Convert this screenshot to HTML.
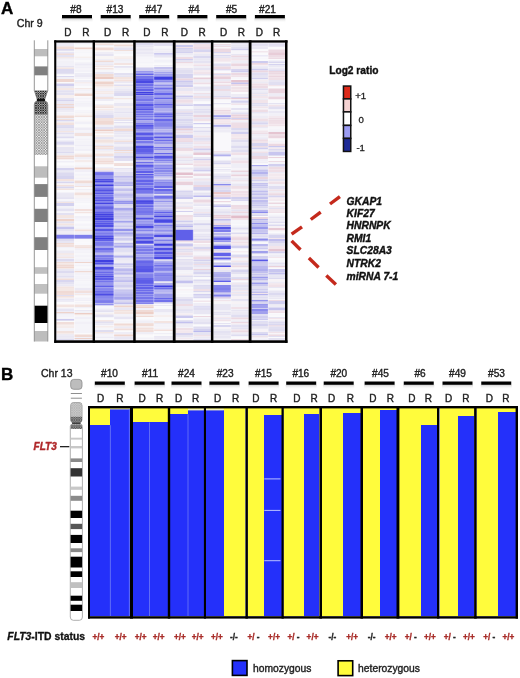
<!DOCTYPE html>
<html><head><meta charset="utf-8"><style>
html,body{margin:0;padding:0;background:#fff;width:520px;height:678px;overflow:hidden}
svg{display:block;font-family:"Liberation Sans", sans-serif;will-change:transform}
</style></head><body>
<svg width="520" height="678" viewBox="0 0 520 678" font-family='"Liberation Sans", sans-serif'>
<rect width="520" height="678" fill="#fff"/>
<defs><linearGradient id="shd" x1="0" y1="0" x2="0" y2="1"><stop offset="0" stop-color="#cfcfcf"/><stop offset="1" stop-color="#fff" stop-opacity="0"/></linearGradient></defs>
<text x="1.00" y="13.52" font-size="17" font-weight="bold" font-style="normal" fill="#000" stroke="#000" stroke-width="0.38" text-anchor="start" >A</text>
<text x="16.80" y="26.79" font-size="10.6" font-weight="normal" font-style="normal" fill="#222" stroke="#222" stroke-width="0.38" text-anchor="start" >Chr 9</text>
<rect x="61.50" y="18.30" width="31.00" height="4.50" fill="url(#shd)" />
<rect x="62.00" y="15.00" width="30.00" height="3.30" fill="#000" />
<text x="75.90" y="12.73" font-size="10.1" font-weight="normal" font-style="normal" fill="#222" stroke="#222" stroke-width="0.38" text-anchor="middle" >#8</text>
<text x="64.20" y="35.96" font-size="10" font-weight="normal" font-style="normal" fill="#222" stroke="#222" stroke-width="0.38" text-anchor="start" >D</text>
<text x="82.30" y="35.96" font-size="10" font-weight="normal" font-style="normal" fill="#222" stroke="#222" stroke-width="0.38" text-anchor="start" >R</text>
<rect x="100.20" y="18.30" width="31.00" height="4.50" fill="url(#shd)" />
<rect x="100.70" y="15.00" width="30.00" height="3.30" fill="#000" />
<text x="115.00" y="12.73" font-size="10.1" font-weight="normal" font-style="normal" fill="#222" stroke="#222" stroke-width="0.38" text-anchor="middle" >#13</text>
<text x="103.90" y="35.96" font-size="10" font-weight="normal" font-style="normal" fill="#222" stroke="#222" stroke-width="0.38" text-anchor="start" >D</text>
<text x="122.10" y="35.96" font-size="10" font-weight="normal" font-style="normal" fill="#222" stroke="#222" stroke-width="0.38" text-anchor="start" >R</text>
<rect x="138.70" y="18.30" width="31.00" height="4.50" fill="url(#shd)" />
<rect x="139.20" y="15.00" width="30.00" height="3.30" fill="#000" />
<text x="153.90" y="12.73" font-size="10.1" font-weight="normal" font-style="normal" fill="#222" stroke="#222" stroke-width="0.38" text-anchor="middle" >#47</text>
<text x="143.30" y="35.96" font-size="10" font-weight="normal" font-style="normal" fill="#222" stroke="#222" stroke-width="0.38" text-anchor="start" >D</text>
<text x="161.20" y="35.96" font-size="10" font-weight="normal" font-style="normal" fill="#222" stroke="#222" stroke-width="0.38" text-anchor="start" >R</text>
<rect x="176.90" y="18.30" width="31.00" height="4.50" fill="url(#shd)" />
<rect x="177.40" y="15.00" width="30.00" height="3.30" fill="#000" />
<text x="194.00" y="12.73" font-size="10.1" font-weight="normal" font-style="normal" fill="#222" stroke="#222" stroke-width="0.38" text-anchor="middle" >#4</text>
<text x="180.70" y="35.96" font-size="10" font-weight="normal" font-style="normal" fill="#222" stroke="#222" stroke-width="0.38" text-anchor="start" >D</text>
<text x="198.40" y="35.96" font-size="10" font-weight="normal" font-style="normal" fill="#222" stroke="#222" stroke-width="0.38" text-anchor="start" >R</text>
<rect x="215.70" y="18.30" width="31.00" height="4.50" fill="url(#shd)" />
<rect x="216.20" y="15.00" width="30.00" height="3.30" fill="#000" />
<text x="231.60" y="12.73" font-size="10.1" font-weight="normal" font-style="normal" fill="#222" stroke="#222" stroke-width="0.38" text-anchor="middle" >#5</text>
<text x="219.90" y="35.96" font-size="10" font-weight="normal" font-style="normal" fill="#222" stroke="#222" stroke-width="0.38" text-anchor="start" >D</text>
<text x="237.70" y="35.96" font-size="10" font-weight="normal" font-style="normal" fill="#222" stroke="#222" stroke-width="0.38" text-anchor="start" >R</text>
<rect x="254.40" y="18.30" width="31.00" height="4.50" fill="url(#shd)" />
<rect x="254.90" y="15.00" width="30.00" height="3.30" fill="#000" />
<text x="267.50" y="12.73" font-size="10.1" font-weight="normal" font-style="normal" fill="#222" stroke="#222" stroke-width="0.38" text-anchor="middle" >#21</text>
<text x="255.80" y="35.96" font-size="10" font-weight="normal" font-style="normal" fill="#222" stroke="#222" stroke-width="0.38" text-anchor="start" >D</text>
<text x="273.10" y="35.96" font-size="10" font-weight="normal" font-style="normal" fill="#222" stroke="#222" stroke-width="0.38" text-anchor="start" >R</text>
<defs><filter id="hb" x="0" y="0" width="1" height="1"><feGaussianBlur stdDeviation="0.2 0.45"/></filter></defs>
<g filter="url(#hb)">
<rect x="56.30" y="42.50" width="18.10" height="2.00" fill="rgb(236,234,244)" />
<rect x="56.30" y="44.50" width="18.10" height="1.00" fill="rgb(231,229,243)" />
<rect x="56.30" y="45.50" width="18.10" height="1.00" fill="rgb(232,230,243)" />
<rect x="56.30" y="46.50" width="18.10" height="2.50" fill="rgb(241,221,216)" />
<rect x="56.30" y="49.00" width="18.10" height="1.00" fill="rgb(219,217,240)" />
<rect x="56.30" y="50.00" width="18.10" height="1.50" fill="rgb(228,226,242)" />
<rect x="56.30" y="51.50" width="18.10" height="1.00" fill="rgb(250,250,252)" />
<rect x="56.30" y="52.50" width="18.10" height="1.00" fill="rgb(212,210,239)" />
<rect x="56.30" y="53.50" width="18.10" height="1.50" fill="rgb(241,222,218)" />
<rect x="56.30" y="55.00" width="18.10" height="2.00" fill="rgb(229,227,242)" />
<rect x="56.30" y="57.00" width="18.10" height="1.50" fill="rgb(244,232,229)" />
<rect x="56.30" y="58.50" width="18.10" height="1.00" fill="rgb(236,234,244)" />
<rect x="56.30" y="59.50" width="18.10" height="1.00" fill="rgb(243,242,248)" />
<rect x="56.30" y="60.50" width="18.10" height="2.50" fill="rgb(242,241,247)" />
<rect x="56.30" y="63.00" width="18.10" height="3.00" fill="rgb(242,241,248)" />
<rect x="56.30" y="66.00" width="18.10" height="1.50" fill="rgb(230,228,242)" />
<rect x="56.30" y="67.50" width="18.10" height="1.50" fill="rgb(243,229,227)" />
<rect x="56.30" y="69.00" width="18.10" height="2.00" fill="rgb(220,218,240)" />
<rect x="56.30" y="71.00" width="18.10" height="2.00" fill="rgb(221,219,240)" />
<rect x="56.30" y="73.00" width="18.10" height="1.50" fill="rgb(227,225,241)" />
<rect x="56.30" y="74.50" width="18.10" height="1.50" fill="rgb(250,250,252)" />
<rect x="56.30" y="76.00" width="18.10" height="1.00" fill="rgb(219,217,240)" />
<rect x="56.30" y="77.00" width="18.10" height="2.00" fill="rgb(241,240,247)" />
<rect x="56.30" y="79.00" width="18.10" height="3.00" fill="rgb(239,215,209)" />
<rect x="56.30" y="82.00" width="18.10" height="1.00" fill="rgb(250,249,252)" />
<rect x="56.30" y="83.00" width="18.10" height="1.00" fill="rgb(231,229,242)" />
<rect x="56.30" y="84.00" width="18.10" height="2.00" fill="rgb(208,206,239)" />
<rect x="56.30" y="86.00" width="18.10" height="2.00" fill="rgb(234,232,243)" />
<rect x="56.30" y="88.00" width="18.10" height="2.00" fill="rgb(244,232,230)" />
<rect x="56.30" y="90.00" width="18.10" height="1.00" fill="rgb(232,230,243)" />
<rect x="56.30" y="91.00" width="18.10" height="1.50" fill="rgb(227,225,242)" />
<rect x="56.30" y="92.50" width="18.10" height="2.50" fill="rgb(227,225,241)" />
<rect x="56.30" y="95.00" width="18.10" height="3.00" fill="rgb(247,240,240)" />
<rect x="56.30" y="98.00" width="18.10" height="1.50" fill="rgb(229,227,242)" />
<rect x="56.30" y="99.50" width="18.10" height="2.00" fill="rgb(214,212,239)" />
<rect x="56.30" y="101.50" width="18.10" height="2.50" fill="rgb(235,233,244)" />
<rect x="56.30" y="104.00" width="18.10" height="1.50" fill="rgb(239,216,210)" />
<rect x="56.30" y="105.50" width="18.10" height="1.00" fill="rgb(219,217,240)" />
<rect x="56.30" y="106.50" width="18.10" height="1.50" fill="rgb(239,214,208)" />
<rect x="56.30" y="108.00" width="18.10" height="2.00" fill="rgb(233,231,243)" />
<rect x="56.30" y="110.00" width="18.10" height="2.00" fill="rgb(238,236,245)" />
<rect x="56.30" y="112.00" width="18.10" height="1.00" fill="rgb(246,245,250)" />
<rect x="56.30" y="113.00" width="18.10" height="2.50" fill="rgb(243,242,248)" />
<rect x="56.30" y="115.50" width="18.10" height="2.50" fill="rgb(240,218,212)" />
<rect x="56.30" y="118.00" width="18.10" height="1.00" fill="rgb(238,237,245)" />
<rect x="56.30" y="119.00" width="18.10" height="1.00" fill="rgb(241,223,219)" />
<rect x="56.30" y="120.00" width="18.10" height="1.50" fill="rgb(217,215,240)" />
<rect x="56.30" y="121.50" width="18.10" height="1.00" fill="rgb(238,236,245)" />
<rect x="56.30" y="122.50" width="18.10" height="2.50" fill="rgb(242,225,222)" />
<rect x="56.30" y="125.00" width="18.10" height="2.00" fill="rgb(223,221,240)" />
<rect x="56.30" y="127.00" width="18.10" height="1.00" fill="rgb(220,218,240)" />
<rect x="56.30" y="128.00" width="18.10" height="3.00" fill="rgb(234,232,243)" />
<rect x="56.30" y="131.00" width="18.10" height="1.50" fill="rgb(243,230,227)" />
<rect x="56.30" y="132.50" width="18.10" height="1.50" fill="rgb(226,224,241)" />
<rect x="56.30" y="134.00" width="18.10" height="1.50" fill="rgb(239,238,246)" />
<rect x="56.30" y="135.50" width="18.10" height="1.00" fill="rgb(234,232,244)" />
<rect x="56.30" y="136.50" width="18.10" height="2.00" fill="rgb(222,220,240)" />
<rect x="56.30" y="138.50" width="18.10" height="2.00" fill="rgb(246,246,250)" />
<rect x="56.30" y="140.50" width="18.10" height="1.50" fill="rgb(231,229,243)" />
<rect x="56.30" y="142.00" width="18.10" height="2.00" fill="rgb(218,216,240)" />
<rect x="56.30" y="144.00" width="18.10" height="1.50" fill="rgb(226,224,241)" />
<rect x="56.30" y="145.50" width="18.10" height="1.50" fill="rgb(248,244,245)" />
<rect x="56.30" y="147.00" width="18.10" height="3.00" fill="rgb(231,229,242)" />
<rect x="56.30" y="150.00" width="18.10" height="2.00" fill="rgb(233,231,243)" />
<rect x="56.30" y="152.00" width="18.10" height="1.50" fill="rgb(221,219,240)" />
<rect x="56.30" y="153.50" width="18.10" height="2.00" fill="rgb(236,235,244)" />
<rect x="56.30" y="155.50" width="18.10" height="2.00" fill="rgb(239,216,210)" />
<rect x="56.30" y="157.50" width="18.10" height="2.00" fill="rgb(240,218,213)" />
<rect x="56.30" y="159.50" width="18.10" height="1.00" fill="rgb(245,244,249)" />
<rect x="56.30" y="160.50" width="18.10" height="1.00" fill="rgb(250,250,252)" />
<rect x="56.30" y="161.50" width="18.10" height="1.00" fill="rgb(229,227,242)" />
<rect x="56.30" y="162.50" width="18.10" height="3.00" fill="rgb(250,250,252)" />
<rect x="56.30" y="165.50" width="18.10" height="2.50" fill="rgb(243,242,248)" />
<rect x="56.30" y="168.00" width="18.10" height="2.50" fill="rgb(213,211,239)" />
<rect x="56.30" y="170.50" width="18.10" height="1.00" fill="rgb(230,228,242)" />
<rect x="56.30" y="171.50" width="18.10" height="1.50" fill="rgb(228,226,242)" />
<rect x="56.30" y="173.00" width="18.10" height="3.00" fill="rgb(220,218,240)" />
<rect x="56.30" y="176.00" width="18.10" height="3.00" fill="rgb(214,212,239)" />
<rect x="56.30" y="179.00" width="18.10" height="2.00" fill="rgb(243,227,224)" />
<rect x="56.30" y="181.00" width="18.10" height="1.00" fill="rgb(234,232,243)" />
<rect x="56.30" y="182.00" width="18.10" height="1.50" fill="rgb(217,215,240)" />
<rect x="56.30" y="183.50" width="18.10" height="1.50" fill="rgb(247,242,243)" />
<rect x="56.30" y="185.00" width="18.10" height="1.50" fill="rgb(242,224,221)" />
<rect x="56.30" y="186.50" width="18.10" height="2.00" fill="rgb(217,215,240)" />
<rect x="56.30" y="188.50" width="18.10" height="1.50" fill="rgb(242,227,223)" />
<rect x="56.30" y="190.00" width="18.10" height="2.50" fill="rgb(250,250,252)" />
<rect x="56.30" y="192.50" width="18.10" height="1.50" fill="rgb(235,233,244)" />
<rect x="56.30" y="194.00" width="18.10" height="3.00" fill="rgb(234,232,243)" />
<rect x="56.30" y="197.00" width="18.10" height="1.00" fill="rgb(230,228,242)" />
<rect x="56.30" y="198.00" width="18.10" height="1.00" fill="rgb(228,226,242)" />
<rect x="56.30" y="199.00" width="18.10" height="2.00" fill="rgb(246,245,250)" />
<rect x="56.30" y="201.00" width="18.10" height="1.00" fill="rgb(236,234,244)" />
<rect x="56.30" y="202.00" width="18.10" height="1.00" fill="rgb(243,228,226)" />
<rect x="56.30" y="203.00" width="18.10" height="3.00" fill="rgb(211,209,239)" />
<rect x="56.30" y="206.00" width="18.10" height="1.00" fill="rgb(243,242,248)" />
<rect x="56.30" y="207.00" width="18.10" height="1.50" fill="rgb(242,241,247)" />
<rect x="56.30" y="208.50" width="18.10" height="3.00" fill="rgb(228,226,242)" />
<rect x="56.30" y="211.50" width="18.10" height="1.50" fill="rgb(246,245,250)" />
<rect x="56.30" y="213.00" width="18.10" height="2.00" fill="rgb(227,225,242)" />
<rect x="56.30" y="215.00" width="18.10" height="3.00" fill="rgb(243,230,227)" />
<rect x="56.30" y="218.00" width="18.10" height="1.00" fill="rgb(240,238,246)" />
<rect x="56.30" y="219.00" width="18.10" height="2.50" fill="rgb(238,211,203)" />
<rect x="56.30" y="221.50" width="18.10" height="2.00" fill="rgb(228,226,242)" />
<rect x="56.30" y="223.50" width="18.10" height="2.00" fill="rgb(243,229,226)" />
<rect x="56.30" y="225.50" width="18.10" height="1.50" fill="rgb(228,226,242)" />
<rect x="56.30" y="227.00" width="18.10" height="2.50" fill="rgb(199,197,238)" />
<rect x="56.30" y="229.50" width="18.10" height="1.50" fill="rgb(230,228,242)" />
<rect x="56.30" y="231.00" width="18.10" height="2.50" fill="rgb(239,237,246)" />
<rect x="56.30" y="233.50" width="18.10" height="2.50" fill="rgb(230,228,242)" />
<rect x="56.30" y="236.00" width="18.10" height="2.00" fill="rgb(239,217,211)" />
<rect x="56.30" y="238.00" width="18.10" height="3.00" fill="rgb(223,221,240)" />
<rect x="56.30" y="241.00" width="18.10" height="2.00" fill="rgb(232,230,243)" />
<rect x="56.30" y="243.00" width="18.10" height="1.00" fill="rgb(240,219,213)" />
<rect x="56.30" y="244.00" width="18.10" height="1.00" fill="rgb(243,229,226)" />
<rect x="56.30" y="245.00" width="18.10" height="2.00" fill="rgb(242,224,220)" />
<rect x="56.30" y="247.00" width="18.10" height="1.50" fill="rgb(242,241,247)" />
<rect x="56.30" y="248.50" width="18.10" height="2.00" fill="rgb(246,246,250)" />
<rect x="56.30" y="250.50" width="18.10" height="3.00" fill="rgb(236,234,244)" />
<rect x="56.30" y="253.50" width="18.10" height="1.00" fill="rgb(241,223,219)" />
<rect x="56.30" y="254.50" width="18.10" height="1.00" fill="rgb(244,232,230)" />
<rect x="56.30" y="255.50" width="18.10" height="1.00" fill="rgb(232,230,243)" />
<rect x="56.30" y="256.50" width="18.10" height="1.50" fill="rgb(243,230,227)" />
<rect x="56.30" y="258.00" width="18.10" height="1.00" fill="rgb(241,239,247)" />
<rect x="56.30" y="259.00" width="18.10" height="2.00" fill="rgb(221,219,240)" />
<rect x="56.30" y="261.00" width="18.10" height="1.00" fill="rgb(233,231,243)" />
<rect x="56.30" y="262.00" width="18.10" height="1.50" fill="rgb(240,220,215)" />
<rect x="56.30" y="263.50" width="18.10" height="1.50" fill="rgb(243,229,226)" />
<rect x="56.30" y="265.00" width="18.10" height="1.50" fill="rgb(239,217,211)" />
<rect x="56.30" y="266.50" width="18.10" height="1.50" fill="rgb(239,214,207)" />
<rect x="56.30" y="268.00" width="18.10" height="1.00" fill="rgb(244,233,231)" />
<rect x="56.30" y="269.00" width="18.10" height="1.50" fill="rgb(233,231,243)" />
<rect x="56.30" y="270.50" width="18.10" height="2.50" fill="rgb(221,219,240)" />
<rect x="56.30" y="273.00" width="18.10" height="2.50" fill="rgb(236,234,244)" />
<rect x="56.30" y="275.50" width="18.10" height="1.50" fill="rgb(226,224,241)" />
<rect x="56.30" y="277.00" width="18.10" height="1.50" fill="rgb(235,233,244)" />
<rect x="56.30" y="278.50" width="18.10" height="1.50" fill="rgb(241,222,218)" />
<rect x="56.30" y="280.00" width="18.10" height="2.00" fill="rgb(216,214,240)" />
<rect x="56.30" y="282.00" width="18.10" height="2.50" fill="rgb(228,226,242)" />
<rect x="56.30" y="284.50" width="18.10" height="2.00" fill="rgb(234,232,244)" />
<rect x="56.30" y="286.50" width="18.10" height="1.50" fill="rgb(243,228,225)" />
<rect x="56.30" y="288.00" width="18.10" height="3.00" fill="rgb(244,232,229)" />
<rect x="56.30" y="291.00" width="18.10" height="2.00" fill="rgb(240,218,213)" />
<rect x="56.30" y="293.00" width="18.10" height="2.00" fill="rgb(241,221,217)" />
<rect x="56.30" y="295.00" width="18.10" height="1.00" fill="rgb(224,222,241)" />
<rect x="56.30" y="296.00" width="18.10" height="1.50" fill="rgb(242,225,221)" />
<rect x="56.30" y="297.50" width="18.10" height="1.00" fill="rgb(243,230,227)" />
<rect x="56.30" y="298.50" width="18.10" height="1.00" fill="rgb(238,236,245)" />
<rect x="56.30" y="299.50" width="18.10" height="1.00" fill="rgb(217,215,240)" />
<rect x="56.30" y="300.50" width="18.10" height="1.50" fill="rgb(238,236,245)" />
<rect x="56.30" y="302.00" width="18.10" height="2.50" fill="rgb(250,250,252)" />
<rect x="56.30" y="304.50" width="18.10" height="3.00" fill="rgb(243,228,225)" />
<rect x="56.30" y="307.50" width="18.10" height="1.00" fill="rgb(249,249,251)" />
<rect x="56.30" y="308.50" width="18.10" height="2.50" fill="rgb(231,229,243)" />
<rect x="56.30" y="311.00" width="18.10" height="1.00" fill="rgb(239,237,246)" />
<rect x="56.30" y="312.00" width="18.10" height="1.50" fill="rgb(238,211,203)" />
<rect x="56.30" y="313.50" width="18.10" height="1.00" fill="rgb(229,227,242)" />
<rect x="56.30" y="314.50" width="18.10" height="3.00" fill="rgb(244,243,249)" />
<rect x="56.30" y="317.50" width="18.10" height="1.50" fill="rgb(245,244,249)" />
<rect x="56.30" y="319.00" width="18.10" height="1.00" fill="rgb(204,202,239)" />
<rect x="56.30" y="320.00" width="18.10" height="1.00" fill="rgb(222,220,240)" />
<rect x="56.30" y="321.00" width="18.10" height="1.00" fill="rgb(250,250,252)" />
<rect x="56.30" y="322.00" width="18.10" height="2.00" fill="rgb(241,222,218)" />
<rect x="56.30" y="324.00" width="18.10" height="1.50" fill="rgb(244,232,230)" />
<rect x="56.30" y="325.50" width="18.10" height="2.50" fill="rgb(245,236,235)" />
<rect x="56.30" y="328.00" width="18.10" height="2.00" fill="rgb(245,244,249)" />
<rect x="56.30" y="330.00" width="18.10" height="1.00" fill="rgb(244,243,249)" />
<rect x="56.30" y="331.00" width="18.10" height="2.00" fill="rgb(242,226,222)" />
<rect x="56.30" y="333.00" width="18.10" height="1.50" fill="rgb(245,235,234)" />
<rect x="56.30" y="334.50" width="18.10" height="1.00" fill="rgb(228,226,242)" />
<rect x="56.30" y="335.50" width="18.10" height="1.50" fill="rgb(234,232,243)" />
<rect x="56.30" y="337.00" width="18.10" height="2.00" fill="rgb(236,234,244)" />
<rect x="56.30" y="339.00" width="18.10" height="1.00" fill="rgb(221,219,240)" />
<rect x="56.30" y="340.00" width="18.10" height="0.30" fill="rgb(222,220,240)" />
<rect x="74.40" y="42.50" width="18.20" height="2.00" fill="rgb(242,241,248)" />
<rect x="74.40" y="44.50" width="18.20" height="3.00" fill="rgb(250,250,252)" />
<rect x="74.40" y="47.50" width="18.20" height="1.50" fill="rgb(237,210,202)" />
<rect x="74.40" y="49.00" width="18.20" height="1.00" fill="rgb(247,242,242)" />
<rect x="74.40" y="50.00" width="18.20" height="1.50" fill="rgb(247,246,250)" />
<rect x="74.40" y="51.50" width="18.20" height="2.00" fill="rgb(246,246,250)" />
<rect x="74.40" y="53.50" width="18.20" height="3.00" fill="rgb(249,248,251)" />
<rect x="74.40" y="56.50" width="18.20" height="1.50" fill="rgb(246,239,238)" />
<rect x="74.40" y="58.00" width="18.20" height="2.00" fill="rgb(245,244,249)" />
<rect x="74.40" y="60.00" width="18.20" height="2.50" fill="rgb(249,249,251)" />
<rect x="74.40" y="62.50" width="18.20" height="1.00" fill="rgb(237,235,244)" />
<rect x="74.40" y="63.50" width="18.20" height="2.00" fill="rgb(237,235,245)" />
<rect x="74.40" y="65.50" width="18.20" height="1.00" fill="rgb(237,236,245)" />
<rect x="74.40" y="66.50" width="18.20" height="2.00" fill="rgb(241,239,247)" />
<rect x="74.40" y="68.50" width="18.20" height="1.00" fill="rgb(243,242,248)" />
<rect x="74.40" y="69.50" width="18.20" height="2.50" fill="rgb(243,242,248)" />
<rect x="74.40" y="72.00" width="18.20" height="1.00" fill="rgb(248,248,251)" />
<rect x="74.40" y="73.00" width="18.20" height="2.00" fill="rgb(237,236,245)" />
<rect x="74.40" y="75.00" width="18.20" height="2.50" fill="rgb(235,233,244)" />
<rect x="74.40" y="77.50" width="18.20" height="1.50" fill="rgb(244,243,249)" />
<rect x="74.40" y="79.00" width="18.20" height="1.00" fill="rgb(250,250,252)" />
<rect x="74.40" y="80.00" width="18.20" height="2.50" fill="rgb(239,238,246)" />
<rect x="74.40" y="82.50" width="18.20" height="1.00" fill="rgb(243,230,228)" />
<rect x="74.40" y="83.50" width="18.20" height="2.50" fill="rgb(245,244,249)" />
<rect x="74.40" y="86.00" width="18.20" height="2.00" fill="rgb(250,250,252)" />
<rect x="74.40" y="88.00" width="18.20" height="1.50" fill="rgb(244,233,231)" />
<rect x="74.40" y="89.50" width="18.20" height="2.00" fill="rgb(243,242,248)" />
<rect x="74.40" y="91.50" width="18.20" height="2.00" fill="rgb(245,244,249)" />
<rect x="74.40" y="93.50" width="18.20" height="2.50" fill="rgb(238,213,206)" />
<rect x="74.40" y="96.00" width="18.20" height="1.50" fill="rgb(250,249,251)" />
<rect x="74.40" y="97.50" width="18.20" height="1.50" fill="rgb(245,244,249)" />
<rect x="74.40" y="99.00" width="18.20" height="2.00" fill="rgb(248,247,251)" />
<rect x="74.40" y="101.00" width="18.20" height="1.50" fill="rgb(244,243,249)" />
<rect x="74.40" y="102.50" width="18.20" height="1.50" fill="rgb(242,241,247)" />
<rect x="74.40" y="104.00" width="18.20" height="2.00" fill="rgb(243,242,248)" />
<rect x="74.40" y="106.00" width="18.20" height="1.50" fill="rgb(245,244,249)" />
<rect x="74.40" y="107.50" width="18.20" height="2.50" fill="rgb(250,250,252)" />
<rect x="74.40" y="110.00" width="18.20" height="1.50" fill="rgb(246,245,250)" />
<rect x="74.40" y="111.50" width="18.20" height="2.00" fill="rgb(244,243,248)" />
<rect x="74.40" y="113.50" width="18.20" height="2.00" fill="rgb(248,243,244)" />
<rect x="74.40" y="115.50" width="18.20" height="1.50" fill="rgb(242,226,222)" />
<rect x="74.40" y="117.00" width="18.20" height="1.50" fill="rgb(248,248,251)" />
<rect x="74.40" y="118.50" width="18.20" height="2.00" fill="rgb(249,249,252)" />
<rect x="74.40" y="120.50" width="18.20" height="1.00" fill="rgb(248,245,246)" />
<rect x="74.40" y="121.50" width="18.20" height="3.00" fill="rgb(241,240,247)" />
<rect x="74.40" y="124.50" width="18.20" height="3.00" fill="rgb(250,249,250)" />
<rect x="74.40" y="127.50" width="18.20" height="3.00" fill="rgb(238,236,245)" />
<rect x="74.40" y="130.50" width="18.20" height="1.50" fill="rgb(245,244,249)" />
<rect x="74.40" y="132.00" width="18.20" height="1.00" fill="rgb(242,241,248)" />
<rect x="74.40" y="133.00" width="18.20" height="3.00" fill="rgb(242,225,222)" />
<rect x="74.40" y="136.00" width="18.20" height="1.50" fill="rgb(245,245,249)" />
<rect x="74.40" y="137.50" width="18.20" height="1.00" fill="rgb(246,245,250)" />
<rect x="74.40" y="138.50" width="18.20" height="2.00" fill="rgb(243,242,248)" />
<rect x="74.40" y="140.50" width="18.20" height="2.50" fill="rgb(244,243,248)" />
<rect x="74.40" y="143.00" width="18.20" height="1.50" fill="rgb(244,243,249)" />
<rect x="74.40" y="144.50" width="18.20" height="1.50" fill="rgb(239,237,246)" />
<rect x="74.40" y="146.00" width="18.20" height="3.00" fill="rgb(245,244,249)" />
<rect x="74.40" y="149.00" width="18.20" height="2.00" fill="rgb(241,240,247)" />
<rect x="74.40" y="151.00" width="18.20" height="1.50" fill="rgb(249,249,251)" />
<rect x="74.40" y="152.50" width="18.20" height="1.00" fill="rgb(246,246,250)" />
<rect x="74.40" y="153.50" width="18.20" height="1.00" fill="rgb(245,235,233)" />
<rect x="74.40" y="154.50" width="18.20" height="2.50" fill="rgb(242,224,220)" />
<rect x="74.40" y="157.00" width="18.20" height="2.00" fill="rgb(240,239,246)" />
<rect x="74.40" y="159.00" width="18.20" height="1.00" fill="rgb(246,245,250)" />
<rect x="74.40" y="160.00" width="18.20" height="2.50" fill="rgb(245,236,235)" />
<rect x="74.40" y="162.50" width="18.20" height="2.00" fill="rgb(248,248,251)" />
<rect x="74.40" y="164.50" width="18.20" height="1.50" fill="rgb(245,245,249)" />
<rect x="74.40" y="166.00" width="18.20" height="1.50" fill="rgb(244,243,248)" />
<rect x="74.40" y="167.50" width="18.20" height="2.00" fill="rgb(237,207,199)" />
<rect x="74.40" y="169.50" width="18.20" height="3.00" fill="rgb(241,239,247)" />
<rect x="74.40" y="172.50" width="18.20" height="1.00" fill="rgb(249,248,251)" />
<rect x="74.40" y="173.50" width="18.20" height="1.50" fill="rgb(244,243,249)" />
<rect x="74.40" y="175.00" width="18.20" height="1.50" fill="rgb(245,244,249)" />
<rect x="74.40" y="176.50" width="18.20" height="1.00" fill="rgb(248,245,245)" />
<rect x="74.40" y="177.50" width="18.20" height="2.00" fill="rgb(243,242,248)" />
<rect x="74.40" y="179.50" width="18.20" height="1.00" fill="rgb(247,246,250)" />
<rect x="74.40" y="180.50" width="18.20" height="3.00" fill="rgb(240,219,214)" />
<rect x="74.40" y="183.50" width="18.20" height="2.50" fill="rgb(240,238,246)" />
<rect x="74.40" y="186.00" width="18.20" height="1.00" fill="rgb(242,226,223)" />
<rect x="74.40" y="187.00" width="18.20" height="2.00" fill="rgb(250,249,251)" />
<rect x="74.40" y="189.00" width="18.20" height="1.50" fill="rgb(240,239,246)" />
<rect x="74.40" y="190.50" width="18.20" height="2.00" fill="rgb(247,246,250)" />
<rect x="74.40" y="192.50" width="18.20" height="3.00" fill="rgb(242,224,220)" />
<rect x="74.40" y="195.50" width="18.20" height="3.00" fill="rgb(248,243,244)" />
<rect x="74.40" y="198.50" width="18.20" height="1.00" fill="rgb(237,235,245)" />
<rect x="74.40" y="199.50" width="18.20" height="1.50" fill="rgb(245,244,249)" />
<rect x="74.40" y="201.00" width="18.20" height="1.00" fill="rgb(247,246,250)" />
<rect x="74.40" y="202.00" width="18.20" height="1.00" fill="rgb(245,245,249)" />
<rect x="74.40" y="203.00" width="18.20" height="2.00" fill="rgb(250,250,252)" />
<rect x="74.40" y="205.00" width="18.20" height="2.00" fill="rgb(248,248,251)" />
<rect x="74.40" y="207.00" width="18.20" height="2.00" fill="rgb(248,247,251)" />
<rect x="74.40" y="209.00" width="18.20" height="2.00" fill="rgb(242,224,221)" />
<rect x="74.40" y="211.00" width="18.20" height="1.00" fill="rgb(248,245,246)" />
<rect x="74.40" y="212.00" width="18.20" height="1.50" fill="rgb(243,228,225)" />
<rect x="74.40" y="213.50" width="18.20" height="2.50" fill="rgb(250,250,252)" />
<rect x="74.40" y="216.00" width="18.20" height="2.50" fill="rgb(241,240,247)" />
<rect x="74.40" y="218.50" width="18.20" height="1.00" fill="rgb(241,240,247)" />
<rect x="74.40" y="219.50" width="18.20" height="2.00" fill="rgb(244,243,249)" />
<rect x="74.40" y="221.50" width="18.20" height="2.00" fill="rgb(250,250,252)" />
<rect x="74.40" y="223.50" width="18.20" height="3.00" fill="rgb(245,244,249)" />
<rect x="74.40" y="226.50" width="18.20" height="1.50" fill="rgb(247,247,250)" />
<rect x="74.40" y="228.00" width="18.20" height="1.50" fill="rgb(244,243,249)" />
<rect x="74.40" y="229.50" width="18.20" height="2.00" fill="rgb(242,224,220)" />
<rect x="74.40" y="231.50" width="18.20" height="2.50" fill="rgb(241,240,247)" />
<rect x="74.40" y="234.00" width="18.20" height="1.00" fill="rgb(245,245,249)" />
<rect x="74.40" y="235.00" width="18.20" height="2.50" fill="rgb(246,246,250)" />
<rect x="74.40" y="237.50" width="18.20" height="1.50" fill="rgb(246,238,238)" />
<rect x="74.40" y="239.00" width="18.20" height="3.00" fill="rgb(249,249,251)" />
<rect x="74.40" y="242.00" width="18.20" height="1.00" fill="rgb(250,250,252)" />
<rect x="74.40" y="243.00" width="18.20" height="2.00" fill="rgb(249,249,252)" />
<rect x="74.40" y="245.00" width="18.20" height="2.00" fill="rgb(243,230,227)" />
<rect x="74.40" y="247.00" width="18.20" height="1.50" fill="rgb(242,225,221)" />
<rect x="74.40" y="248.50" width="18.20" height="1.50" fill="rgb(241,240,247)" />
<rect x="74.40" y="250.00" width="18.20" height="2.50" fill="rgb(245,244,249)" />
<rect x="74.40" y="252.50" width="18.20" height="1.00" fill="rgb(239,238,246)" />
<rect x="74.40" y="253.50" width="18.20" height="1.00" fill="rgb(250,249,251)" />
<rect x="74.40" y="254.50" width="18.20" height="3.00" fill="rgb(244,243,248)" />
<rect x="74.40" y="257.50" width="18.20" height="1.00" fill="rgb(245,244,249)" />
<rect x="74.40" y="258.50" width="18.20" height="1.50" fill="rgb(244,243,248)" />
<rect x="74.40" y="260.00" width="18.20" height="2.00" fill="rgb(242,241,248)" />
<rect x="74.40" y="262.00" width="18.20" height="1.00" fill="rgb(238,212,205)" />
<rect x="74.40" y="263.00" width="18.20" height="2.00" fill="rgb(247,246,250)" />
<rect x="74.40" y="265.00" width="18.20" height="1.50" fill="rgb(243,242,248)" />
<rect x="74.40" y="266.50" width="18.20" height="1.00" fill="rgb(247,247,250)" />
<rect x="74.40" y="267.50" width="18.20" height="1.00" fill="rgb(248,247,251)" />
<rect x="74.40" y="268.50" width="18.20" height="2.50" fill="rgb(243,242,248)" />
<rect x="74.40" y="271.00" width="18.20" height="1.50" fill="rgb(239,217,211)" />
<rect x="74.40" y="272.50" width="18.20" height="3.00" fill="rgb(243,242,248)" />
<rect x="74.40" y="275.50" width="18.20" height="2.50" fill="rgb(244,243,249)" />
<rect x="74.40" y="278.00" width="18.20" height="1.50" fill="rgb(243,242,248)" />
<rect x="74.40" y="279.50" width="18.20" height="2.00" fill="rgb(244,243,248)" />
<rect x="74.40" y="281.50" width="18.20" height="2.00" fill="rgb(246,246,250)" />
<rect x="74.40" y="283.50" width="18.20" height="2.00" fill="rgb(244,244,249)" />
<rect x="74.40" y="285.50" width="18.20" height="1.00" fill="rgb(240,239,247)" />
<rect x="74.40" y="286.50" width="18.20" height="1.50" fill="rgb(245,245,249)" />
<rect x="74.40" y="288.00" width="18.20" height="2.50" fill="rgb(235,233,244)" />
<rect x="74.40" y="290.50" width="18.20" height="2.50" fill="rgb(242,224,221)" />
<rect x="74.40" y="293.00" width="18.20" height="1.00" fill="rgb(241,240,247)" />
<rect x="74.40" y="294.00" width="18.20" height="1.50" fill="rgb(245,234,232)" />
<rect x="74.40" y="295.50" width="18.20" height="1.00" fill="rgb(250,250,252)" />
<rect x="74.40" y="296.50" width="18.20" height="1.00" fill="rgb(250,250,252)" />
<rect x="74.40" y="297.50" width="18.20" height="2.00" fill="rgb(243,242,248)" />
<rect x="74.40" y="299.50" width="18.20" height="1.50" fill="rgb(241,240,247)" />
<rect x="74.40" y="301.00" width="18.20" height="1.00" fill="rgb(250,249,251)" />
<rect x="74.40" y="302.00" width="18.20" height="1.50" fill="rgb(245,244,249)" />
<rect x="74.40" y="303.50" width="18.20" height="1.00" fill="rgb(247,246,250)" />
<rect x="74.40" y="304.50" width="18.20" height="2.50" fill="rgb(242,225,221)" />
<rect x="74.40" y="307.00" width="18.20" height="1.50" fill="rgb(241,240,247)" />
<rect x="74.40" y="308.50" width="18.20" height="1.50" fill="rgb(250,250,252)" />
<rect x="74.40" y="310.00" width="18.20" height="1.50" fill="rgb(234,232,243)" />
<rect x="74.40" y="311.50" width="18.20" height="1.50" fill="rgb(242,241,247)" />
<rect x="74.40" y="313.00" width="18.20" height="1.00" fill="rgb(236,205,197)" />
<rect x="74.40" y="314.00" width="18.20" height="1.50" fill="rgb(243,229,226)" />
<rect x="74.40" y="315.50" width="18.20" height="1.00" fill="rgb(247,247,250)" />
<rect x="74.40" y="316.50" width="18.20" height="3.00" fill="rgb(241,239,247)" />
<rect x="74.40" y="319.50" width="18.20" height="2.00" fill="rgb(246,246,250)" />
<rect x="74.40" y="321.50" width="18.20" height="2.50" fill="rgb(242,240,247)" />
<rect x="74.40" y="324.00" width="18.20" height="3.00" fill="rgb(245,244,249)" />
<rect x="74.40" y="327.00" width="18.20" height="3.00" fill="rgb(245,244,249)" />
<rect x="74.40" y="330.00" width="18.20" height="3.00" fill="rgb(244,243,249)" />
<rect x="74.40" y="333.00" width="18.20" height="1.50" fill="rgb(250,250,252)" />
<rect x="74.40" y="334.50" width="18.20" height="2.50" fill="rgb(240,218,212)" />
<rect x="74.40" y="337.00" width="18.20" height="1.00" fill="rgb(241,240,247)" />
<rect x="74.40" y="338.00" width="18.20" height="1.00" fill="rgb(237,209,201)" />
<rect x="74.40" y="339.00" width="18.20" height="1.30" fill="rgb(237,235,245)" />
<rect x="95.00" y="42.50" width="18.90" height="1.00" fill="rgb(246,237,236)" />
<rect x="95.00" y="43.50" width="18.90" height="1.50" fill="rgb(242,226,222)" />
<rect x="95.00" y="45.00" width="18.90" height="1.00" fill="rgb(241,240,247)" />
<rect x="95.00" y="46.00" width="18.90" height="1.50" fill="rgb(250,249,251)" />
<rect x="95.00" y="47.50" width="18.90" height="3.00" fill="rgb(240,218,213)" />
<rect x="95.00" y="50.50" width="18.90" height="1.50" fill="rgb(249,247,248)" />
<rect x="95.00" y="52.00" width="18.90" height="2.00" fill="rgb(239,237,246)" />
<rect x="95.00" y="54.00" width="18.90" height="2.00" fill="rgb(230,228,242)" />
<rect x="95.00" y="56.00" width="18.90" height="3.00" fill="rgb(248,245,245)" />
<rect x="95.00" y="59.00" width="18.90" height="1.50" fill="rgb(239,238,246)" />
<rect x="95.00" y="60.50" width="18.90" height="1.50" fill="rgb(240,219,213)" />
<rect x="95.00" y="62.00" width="18.90" height="1.50" fill="rgb(237,236,245)" />
<rect x="95.00" y="63.50" width="18.90" height="2.00" fill="rgb(234,232,243)" />
<rect x="95.00" y="65.50" width="18.90" height="2.00" fill="rgb(243,229,227)" />
<rect x="95.00" y="67.50" width="18.90" height="1.00" fill="rgb(250,250,252)" />
<rect x="95.00" y="68.50" width="18.90" height="1.00" fill="rgb(237,208,200)" />
<rect x="95.00" y="69.50" width="18.90" height="2.50" fill="rgb(245,245,249)" />
<rect x="95.00" y="72.00" width="18.90" height="2.00" fill="rgb(232,230,243)" />
<rect x="95.00" y="74.00" width="18.90" height="2.00" fill="rgb(240,219,213)" />
<rect x="95.00" y="76.00" width="18.90" height="1.00" fill="rgb(241,222,217)" />
<rect x="95.00" y="77.00" width="18.90" height="2.00" fill="rgb(236,203,195)" />
<rect x="95.00" y="79.00" width="18.90" height="2.00" fill="rgb(243,242,248)" />
<rect x="95.00" y="81.00" width="18.90" height="1.00" fill="rgb(243,229,226)" />
<rect x="95.00" y="82.00" width="18.90" height="2.50" fill="rgb(238,211,203)" />
<rect x="95.00" y="84.50" width="18.90" height="1.00" fill="rgb(241,223,219)" />
<rect x="95.00" y="85.50" width="18.90" height="1.00" fill="rgb(237,210,202)" />
<rect x="95.00" y="86.50" width="18.90" height="2.00" fill="rgb(247,241,241)" />
<rect x="95.00" y="88.50" width="18.90" height="2.50" fill="rgb(241,239,247)" />
<rect x="95.00" y="91.00" width="18.90" height="1.50" fill="rgb(245,235,233)" />
<rect x="95.00" y="92.50" width="18.90" height="1.50" fill="rgb(245,234,233)" />
<rect x="95.00" y="94.00" width="18.90" height="1.50" fill="rgb(242,241,248)" />
<rect x="95.00" y="95.50" width="18.90" height="1.50" fill="rgb(238,236,245)" />
<rect x="95.00" y="97.00" width="18.90" height="2.00" fill="rgb(242,225,222)" />
<rect x="95.00" y="99.00" width="18.90" height="2.00" fill="rgb(237,236,245)" />
<rect x="95.00" y="101.00" width="18.90" height="3.00" fill="rgb(250,250,252)" />
<rect x="95.00" y="104.00" width="18.90" height="1.50" fill="rgb(240,239,246)" />
<rect x="95.00" y="105.50" width="18.90" height="1.00" fill="rgb(240,219,213)" />
<rect x="95.00" y="106.50" width="18.90" height="1.50" fill="rgb(242,224,220)" />
<rect x="95.00" y="108.00" width="18.90" height="1.00" fill="rgb(248,244,245)" />
<rect x="95.00" y="109.00" width="18.90" height="1.50" fill="rgb(245,234,232)" />
<rect x="95.00" y="110.50" width="18.90" height="2.50" fill="rgb(235,233,244)" />
<rect x="95.00" y="113.00" width="18.90" height="2.00" fill="rgb(231,229,243)" />
<rect x="95.00" y="115.00" width="18.90" height="3.00" fill="rgb(219,217,240)" />
<rect x="95.00" y="118.00" width="18.90" height="3.00" fill="rgb(242,225,221)" />
<rect x="95.00" y="121.00" width="18.90" height="3.00" fill="rgb(240,217,211)" />
<rect x="95.00" y="124.00" width="18.90" height="1.00" fill="rgb(242,226,222)" />
<rect x="95.00" y="125.00" width="18.90" height="2.00" fill="rgb(240,239,246)" />
<rect x="95.00" y="127.00" width="18.90" height="2.50" fill="rgb(226,224,241)" />
<rect x="95.00" y="129.50" width="18.90" height="2.00" fill="rgb(236,204,196)" />
<rect x="95.00" y="131.50" width="18.90" height="1.00" fill="rgb(248,247,251)" />
<rect x="95.00" y="132.50" width="18.90" height="1.00" fill="rgb(237,208,200)" />
<rect x="95.00" y="133.50" width="18.90" height="1.50" fill="rgb(249,249,252)" />
<rect x="95.00" y="135.00" width="18.90" height="2.00" fill="rgb(246,238,237)" />
<rect x="95.00" y="137.00" width="18.90" height="2.50" fill="rgb(230,228,242)" />
<rect x="95.00" y="139.50" width="18.90" height="3.00" fill="rgb(242,227,223)" />
<rect x="95.00" y="142.50" width="18.90" height="1.00" fill="rgb(242,226,222)" />
<rect x="95.00" y="143.50" width="18.90" height="1.50" fill="rgb(241,240,247)" />
<rect x="95.00" y="145.00" width="18.90" height="1.00" fill="rgb(232,230,243)" />
<rect x="95.00" y="146.00" width="18.90" height="1.50" fill="rgb(241,220,215)" />
<rect x="95.00" y="147.50" width="18.90" height="1.50" fill="rgb(242,224,221)" />
<rect x="95.00" y="149.00" width="18.90" height="1.50" fill="rgb(234,232,243)" />
<rect x="95.00" y="150.50" width="18.90" height="1.00" fill="rgb(238,236,245)" />
<rect x="95.00" y="151.50" width="18.90" height="1.00" fill="rgb(245,235,233)" />
<rect x="95.00" y="152.50" width="18.90" height="1.00" fill="rgb(244,243,248)" />
<rect x="95.00" y="153.50" width="18.90" height="2.50" fill="rgb(242,224,220)" />
<rect x="95.00" y="156.00" width="18.90" height="1.00" fill="rgb(234,232,243)" />
<rect x="95.00" y="157.00" width="18.90" height="1.00" fill="rgb(244,243,249)" />
<rect x="95.00" y="158.00" width="18.90" height="1.00" fill="rgb(244,232,230)" />
<rect x="95.00" y="159.00" width="18.90" height="1.50" fill="rgb(243,230,227)" />
<rect x="95.00" y="160.50" width="18.90" height="2.00" fill="rgb(240,218,213)" />
<rect x="95.00" y="162.50" width="18.90" height="2.00" fill="rgb(242,224,220)" />
<rect x="95.00" y="164.50" width="18.90" height="3.00" fill="rgb(250,250,252)" />
<rect x="95.00" y="167.50" width="18.90" height="1.00" fill="rgb(227,225,241)" />
<rect x="95.00" y="168.50" width="18.90" height="1.00" fill="rgb(241,223,219)" />
<rect x="95.00" y="169.50" width="18.90" height="1.00" fill="rgb(241,221,216)" />
<rect x="95.00" y="170.50" width="18.90" height="1.00" fill="rgb(219,217,240)" />
<rect x="95.00" y="171.50" width="18.90" height="0.30" fill="rgb(240,218,213)" />
<rect x="95.00" y="171.80" width="18.90" height="1.00" fill="rgb(100,100,234)" />
<rect x="95.00" y="172.80" width="18.90" height="3.00" fill="rgb(117,117,235)" />
<rect x="95.00" y="175.80" width="18.90" height="3.00" fill="rgb(148,148,236)" />
<rect x="95.00" y="178.80" width="18.90" height="2.00" fill="rgb(81,81,229)" />
<rect x="95.00" y="180.80" width="18.90" height="1.50" fill="rgb(70,70,226)" />
<rect x="95.00" y="182.30" width="18.90" height="1.00" fill="rgb(98,98,233)" />
<rect x="95.00" y="183.30" width="18.90" height="1.00" fill="rgb(132,132,235)" />
<rect x="95.00" y="184.30" width="18.90" height="2.00" fill="rgb(64,64,225)" />
<rect x="95.00" y="186.30" width="18.90" height="1.00" fill="rgb(125,125,235)" />
<rect x="95.00" y="187.30" width="18.90" height="1.00" fill="rgb(110,110,234)" />
<rect x="95.00" y="188.30" width="18.90" height="1.50" fill="rgb(81,81,229)" />
<rect x="95.00" y="189.80" width="18.90" height="1.50" fill="rgb(82,82,229)" />
<rect x="95.00" y="191.30" width="18.90" height="1.00" fill="rgb(82,82,229)" />
<rect x="95.00" y="192.30" width="18.90" height="2.00" fill="rgb(86,86,230)" />
<rect x="95.00" y="194.30" width="18.90" height="2.00" fill="rgb(122,122,235)" />
<rect x="95.00" y="196.30" width="18.90" height="3.00" fill="rgb(101,101,234)" />
<rect x="95.00" y="199.30" width="18.90" height="2.00" fill="rgb(86,86,230)" />
<rect x="95.00" y="201.30" width="18.90" height="1.50" fill="rgb(105,105,234)" />
<rect x="95.00" y="202.80" width="18.90" height="1.50" fill="rgb(68,68,226)" />
<rect x="95.00" y="204.30" width="18.90" height="1.50" fill="rgb(120,120,235)" />
<rect x="95.00" y="205.80" width="18.90" height="1.50" fill="rgb(115,115,235)" />
<rect x="95.00" y="207.30" width="18.90" height="1.50" fill="rgb(55,55,220)" />
<rect x="95.00" y="208.80" width="18.90" height="1.50" fill="rgb(125,125,235)" />
<rect x="95.00" y="210.30" width="18.90" height="1.00" fill="rgb(94,94,232)" />
<rect x="95.00" y="211.30" width="18.90" height="2.00" fill="rgb(91,91,232)" />
<rect x="95.00" y="213.30" width="18.90" height="2.50" fill="rgb(67,67,226)" />
<rect x="95.00" y="215.80" width="18.90" height="2.00" fill="rgb(73,73,227)" />
<rect x="95.00" y="217.80" width="18.90" height="2.50" fill="rgb(64,64,224)" />
<rect x="95.00" y="220.30" width="18.90" height="2.50" fill="rgb(97,97,233)" />
<rect x="95.00" y="222.80" width="18.90" height="2.00" fill="rgb(84,84,230)" />
<rect x="95.00" y="224.80" width="18.90" height="2.50" fill="rgb(80,80,229)" />
<rect x="95.00" y="227.30" width="18.90" height="1.50" fill="rgb(133,133,235)" />
<rect x="95.00" y="228.80" width="18.90" height="2.50" fill="rgb(89,89,231)" />
<rect x="95.00" y="231.30" width="18.90" height="1.50" fill="rgb(119,119,235)" />
<rect x="95.00" y="232.80" width="18.90" height="2.00" fill="rgb(123,123,235)" />
<rect x="95.00" y="234.80" width="18.90" height="1.00" fill="rgb(99,99,234)" />
<rect x="95.00" y="235.80" width="18.90" height="1.50" fill="rgb(81,81,229)" />
<rect x="95.00" y="237.30" width="18.90" height="2.50" fill="rgb(64,64,224)" />
<rect x="95.00" y="239.80" width="18.90" height="1.50" fill="rgb(95,95,233)" />
<rect x="95.00" y="241.30" width="18.90" height="2.00" fill="rgb(124,124,235)" />
<rect x="95.00" y="243.30" width="18.90" height="1.00" fill="rgb(86,86,230)" />
<rect x="95.00" y="244.30" width="18.90" height="1.50" fill="rgb(91,91,232)" />
<rect x="95.00" y="245.80" width="18.90" height="2.00" fill="rgb(166,165,237)" />
<rect x="95.00" y="247.80" width="18.90" height="3.00" fill="rgb(107,107,234)" />
<rect x="95.00" y="250.80" width="18.90" height="2.00" fill="rgb(132,132,235)" />
<rect x="95.00" y="252.80" width="18.90" height="2.50" fill="rgb(184,183,238)" />
<rect x="95.00" y="255.30" width="18.90" height="1.50" fill="rgb(84,84,230)" />
<rect x="95.00" y="256.80" width="18.90" height="1.00" fill="rgb(130,130,235)" />
<rect x="95.00" y="257.80" width="18.90" height="2.00" fill="rgb(126,126,235)" />
<rect x="95.00" y="259.80" width="18.90" height="2.50" fill="rgb(64,64,224)" />
<rect x="95.00" y="262.30" width="18.90" height="2.00" fill="rgb(81,81,229)" />
<rect x="95.00" y="264.30" width="18.90" height="1.00" fill="rgb(103,103,234)" />
<rect x="95.00" y="265.30" width="18.90" height="1.50" fill="rgb(167,166,237)" />
<rect x="95.00" y="266.80" width="18.90" height="2.50" fill="rgb(77,77,228)" />
<rect x="95.00" y="269.30" width="18.90" height="1.00" fill="rgb(64,64,224)" />
<rect x="95.00" y="270.30" width="18.90" height="1.50" fill="rgb(118,118,235)" />
<rect x="95.00" y="271.80" width="18.90" height="1.50" fill="rgb(107,107,234)" />
<rect x="95.00" y="273.30" width="18.90" height="2.50" fill="rgb(110,110,234)" />
<rect x="95.00" y="275.80" width="18.90" height="1.50" fill="rgb(77,77,228)" />
<rect x="95.00" y="277.30" width="18.90" height="3.00" fill="rgb(91,91,232)" />
<rect x="95.00" y="280.30" width="18.90" height="2.50" fill="rgb(117,117,235)" />
<rect x="95.00" y="282.80" width="18.90" height="2.50" fill="rgb(149,149,236)" />
<rect x="95.00" y="285.30" width="18.90" height="2.00" fill="rgb(96,96,233)" />
<rect x="95.00" y="287.30" width="18.90" height="2.00" fill="rgb(138,138,236)" />
<rect x="95.00" y="289.30" width="18.90" height="1.00" fill="rgb(97,97,233)" />
<rect x="95.00" y="290.30" width="18.90" height="2.00" fill="rgb(109,109,234)" />
<rect x="95.00" y="292.30" width="18.90" height="1.00" fill="rgb(82,82,229)" />
<rect x="95.00" y="293.30" width="18.90" height="2.00" fill="rgb(77,77,228)" />
<rect x="95.00" y="295.30" width="18.90" height="1.00" fill="rgb(72,72,227)" />
<rect x="95.00" y="296.30" width="18.90" height="1.50" fill="rgb(112,112,234)" />
<rect x="95.00" y="297.80" width="18.90" height="1.00" fill="rgb(117,117,235)" />
<rect x="95.00" y="298.80" width="18.90" height="1.50" fill="rgb(146,146,236)" />
<rect x="95.00" y="300.30" width="18.90" height="1.50" fill="rgb(90,90,231)" />
<rect x="95.00" y="301.80" width="18.90" height="1.50" fill="rgb(129,129,235)" />
<rect x="95.00" y="303.30" width="18.90" height="1.00" fill="rgb(172,171,237)" />
<rect x="95.00" y="304.30" width="18.90" height="1.20" fill="rgb(112,112,234)" />
<rect x="95.00" y="305.50" width="18.90" height="3.00" fill="rgb(247,247,250)" />
<rect x="95.00" y="308.50" width="18.90" height="1.00" fill="rgb(238,236,245)" />
<rect x="95.00" y="309.50" width="18.90" height="1.50" fill="rgb(231,229,243)" />
<rect x="95.00" y="311.00" width="18.90" height="1.00" fill="rgb(227,225,241)" />
<rect x="95.00" y="312.00" width="18.90" height="1.50" fill="rgb(245,244,249)" />
<rect x="95.00" y="313.50" width="18.90" height="1.00" fill="rgb(244,233,231)" />
<rect x="95.00" y="314.50" width="18.90" height="3.00" fill="rgb(226,224,241)" />
<rect x="95.00" y="317.50" width="18.90" height="3.00" fill="rgb(250,250,252)" />
<rect x="95.00" y="320.50" width="18.90" height="1.00" fill="rgb(238,212,205)" />
<rect x="95.00" y="321.50" width="18.90" height="2.00" fill="rgb(226,224,241)" />
<rect x="95.00" y="323.50" width="18.90" height="2.00" fill="rgb(235,233,244)" />
<rect x="95.00" y="325.50" width="18.90" height="1.00" fill="rgb(250,250,252)" />
<rect x="95.00" y="326.50" width="18.90" height="1.00" fill="rgb(241,223,219)" />
<rect x="95.00" y="327.50" width="18.90" height="2.50" fill="rgb(246,246,250)" />
<rect x="95.00" y="330.00" width="18.90" height="2.00" fill="rgb(223,221,240)" />
<rect x="95.00" y="332.00" width="18.90" height="1.50" fill="rgb(243,230,227)" />
<rect x="95.00" y="333.50" width="18.90" height="1.00" fill="rgb(232,230,243)" />
<rect x="95.00" y="334.50" width="18.90" height="2.00" fill="rgb(245,244,249)" />
<rect x="95.00" y="336.50" width="18.90" height="2.00" fill="rgb(237,235,245)" />
<rect x="95.00" y="338.50" width="18.90" height="1.80" fill="rgb(246,245,250)" />
<rect x="113.90" y="42.50" width="19.30" height="2.00" fill="rgb(248,244,245)" />
<rect x="113.90" y="44.50" width="19.30" height="2.00" fill="rgb(241,221,216)" />
<rect x="113.90" y="46.50" width="19.30" height="1.00" fill="rgb(237,235,244)" />
<rect x="113.90" y="47.50" width="19.30" height="2.50" fill="rgb(228,226,242)" />
<rect x="113.90" y="50.00" width="19.30" height="1.00" fill="rgb(241,223,218)" />
<rect x="113.90" y="51.00" width="19.30" height="3.00" fill="rgb(245,245,249)" />
<rect x="113.90" y="54.00" width="19.30" height="2.50" fill="rgb(250,250,252)" />
<rect x="113.90" y="56.50" width="19.30" height="1.00" fill="rgb(244,231,229)" />
<rect x="113.90" y="57.50" width="19.30" height="1.50" fill="rgb(246,237,236)" />
<rect x="113.90" y="59.00" width="19.30" height="1.50" fill="rgb(240,239,246)" />
<rect x="113.90" y="60.50" width="19.30" height="1.00" fill="rgb(234,232,243)" />
<rect x="113.90" y="61.50" width="19.30" height="1.50" fill="rgb(243,242,248)" />
<rect x="113.90" y="63.00" width="19.30" height="2.00" fill="rgb(243,228,226)" />
<rect x="113.90" y="65.00" width="19.30" height="1.00" fill="rgb(249,249,251)" />
<rect x="113.90" y="66.00" width="19.30" height="1.00" fill="rgb(230,228,242)" />
<rect x="113.90" y="67.00" width="19.30" height="1.00" fill="rgb(234,232,244)" />
<rect x="113.90" y="68.00" width="19.30" height="2.50" fill="rgb(246,246,250)" />
<rect x="113.90" y="70.50" width="19.30" height="1.00" fill="rgb(250,250,252)" />
<rect x="113.90" y="71.50" width="19.30" height="1.50" fill="rgb(250,250,252)" />
<rect x="113.90" y="73.00" width="19.30" height="2.50" fill="rgb(226,224,241)" />
<rect x="113.90" y="75.50" width="19.30" height="1.50" fill="rgb(230,228,242)" />
<rect x="113.90" y="77.00" width="19.30" height="2.50" fill="rgb(243,228,224)" />
<rect x="113.90" y="79.50" width="19.30" height="1.00" fill="rgb(243,230,228)" />
<rect x="113.90" y="80.50" width="19.30" height="1.00" fill="rgb(237,208,200)" />
<rect x="113.90" y="81.50" width="19.30" height="1.50" fill="rgb(234,232,244)" />
<rect x="113.90" y="83.00" width="19.30" height="1.50" fill="rgb(247,246,250)" />
<rect x="113.90" y="84.50" width="19.30" height="1.50" fill="rgb(224,222,241)" />
<rect x="113.90" y="86.00" width="19.30" height="1.00" fill="rgb(246,239,238)" />
<rect x="113.90" y="87.00" width="19.30" height="2.00" fill="rgb(240,239,246)" />
<rect x="113.90" y="89.00" width="19.30" height="1.00" fill="rgb(234,232,244)" />
<rect x="113.90" y="90.00" width="19.30" height="1.00" fill="rgb(236,234,244)" />
<rect x="113.90" y="91.00" width="19.30" height="2.00" fill="rgb(226,224,241)" />
<rect x="113.90" y="93.00" width="19.30" height="3.00" fill="rgb(218,216,240)" />
<rect x="113.90" y="96.00" width="19.30" height="2.00" fill="rgb(245,245,249)" />
<rect x="113.90" y="98.00" width="19.30" height="1.50" fill="rgb(244,231,228)" />
<rect x="113.90" y="99.50" width="19.30" height="1.00" fill="rgb(244,244,249)" />
<rect x="113.90" y="100.50" width="19.30" height="2.50" fill="rgb(247,246,250)" />
<rect x="113.90" y="103.00" width="19.30" height="3.00" fill="rgb(233,231,243)" />
<rect x="113.90" y="106.00" width="19.30" height="2.00" fill="rgb(247,241,241)" />
<rect x="113.90" y="108.00" width="19.30" height="2.00" fill="rgb(236,234,244)" />
<rect x="113.90" y="110.00" width="19.30" height="1.50" fill="rgb(238,236,245)" />
<rect x="113.90" y="111.50" width="19.30" height="2.00" fill="rgb(229,227,242)" />
<rect x="113.90" y="113.50" width="19.30" height="2.50" fill="rgb(237,235,245)" />
<rect x="113.90" y="116.00" width="19.30" height="1.50" fill="rgb(236,234,244)" />
<rect x="113.90" y="117.50" width="19.30" height="2.00" fill="rgb(242,225,221)" />
<rect x="113.90" y="119.50" width="19.30" height="1.50" fill="rgb(228,226,242)" />
<rect x="113.90" y="121.00" width="19.30" height="1.00" fill="rgb(250,249,251)" />
<rect x="113.90" y="122.00" width="19.30" height="1.50" fill="rgb(227,225,242)" />
<rect x="113.90" y="123.50" width="19.30" height="2.00" fill="rgb(245,245,249)" />
<rect x="113.90" y="125.50" width="19.30" height="3.00" fill="rgb(225,223,241)" />
<rect x="113.90" y="128.50" width="19.30" height="2.50" fill="rgb(240,218,213)" />
<rect x="113.90" y="131.00" width="19.30" height="1.50" fill="rgb(227,225,241)" />
<rect x="113.90" y="132.50" width="19.30" height="1.50" fill="rgb(233,231,243)" />
<rect x="113.90" y="134.00" width="19.30" height="1.00" fill="rgb(240,239,246)" />
<rect x="113.90" y="135.00" width="19.30" height="2.00" fill="rgb(235,233,244)" />
<rect x="113.90" y="137.00" width="19.30" height="1.50" fill="rgb(244,243,248)" />
<rect x="113.90" y="138.50" width="19.30" height="2.00" fill="rgb(237,235,245)" />
<rect x="113.90" y="140.50" width="19.30" height="1.50" fill="rgb(241,223,219)" />
<rect x="113.90" y="142.00" width="19.30" height="2.00" fill="rgb(230,228,242)" />
<rect x="113.90" y="144.00" width="19.30" height="2.00" fill="rgb(242,240,247)" />
<rect x="113.90" y="146.00" width="19.30" height="1.00" fill="rgb(237,235,244)" />
<rect x="113.90" y="147.00" width="19.30" height="3.00" fill="rgb(225,223,241)" />
<rect x="113.90" y="150.00" width="19.30" height="1.00" fill="rgb(239,216,210)" />
<rect x="113.90" y="151.00" width="19.30" height="1.00" fill="rgb(238,236,245)" />
<rect x="113.90" y="152.00" width="19.30" height="1.00" fill="rgb(242,226,222)" />
<rect x="113.90" y="153.00" width="19.30" height="3.00" fill="rgb(231,229,243)" />
<rect x="113.90" y="156.00" width="19.30" height="2.00" fill="rgb(211,209,239)" />
<rect x="113.90" y="158.00" width="19.30" height="3.00" fill="rgb(225,223,241)" />
<rect x="113.90" y="161.00" width="19.30" height="2.00" fill="rgb(250,250,252)" />
<rect x="113.90" y="163.00" width="19.30" height="2.00" fill="rgb(241,223,219)" />
<rect x="113.90" y="165.00" width="19.30" height="1.00" fill="rgb(241,221,217)" />
<rect x="113.90" y="166.00" width="19.30" height="2.00" fill="rgb(250,250,252)" />
<rect x="113.90" y="168.00" width="19.30" height="1.00" fill="rgb(230,228,242)" />
<rect x="113.90" y="169.00" width="19.30" height="2.50" fill="rgb(237,235,245)" />
<rect x="113.90" y="171.50" width="19.30" height="0.30" fill="rgb(240,239,246)" />
<rect x="113.90" y="171.80" width="19.30" height="1.00" fill="rgb(216,214,240)" />
<rect x="113.90" y="172.80" width="19.30" height="3.00" fill="rgb(223,221,240)" />
<rect x="113.90" y="175.80" width="19.30" height="2.00" fill="rgb(192,190,238)" />
<rect x="113.90" y="177.80" width="19.30" height="1.00" fill="rgb(207,205,239)" />
<rect x="113.90" y="178.80" width="19.30" height="2.00" fill="rgb(210,208,239)" />
<rect x="113.90" y="180.80" width="19.30" height="1.00" fill="rgb(208,206,239)" />
<rect x="113.90" y="181.80" width="19.30" height="3.00" fill="rgb(183,181,238)" />
<rect x="113.90" y="184.80" width="19.30" height="1.50" fill="rgb(175,173,237)" />
<rect x="113.90" y="186.30" width="19.30" height="2.00" fill="rgb(230,228,242)" />
<rect x="113.90" y="188.30" width="19.30" height="3.00" fill="rgb(196,194,238)" />
<rect x="113.90" y="191.30" width="19.30" height="2.00" fill="rgb(220,218,240)" />
<rect x="113.90" y="193.30" width="19.30" height="3.00" fill="rgb(192,190,238)" />
<rect x="113.90" y="196.30" width="19.30" height="1.50" fill="rgb(187,185,238)" />
<rect x="113.90" y="197.80" width="19.30" height="1.50" fill="rgb(220,218,240)" />
<rect x="113.90" y="199.30" width="19.30" height="1.50" fill="rgb(197,195,238)" />
<rect x="113.90" y="200.80" width="19.30" height="2.00" fill="rgb(148,148,236)" />
<rect x="113.90" y="202.80" width="19.30" height="1.50" fill="rgb(150,150,236)" />
<rect x="113.90" y="204.30" width="19.30" height="2.50" fill="rgb(218,216,240)" />
<rect x="113.90" y="206.80" width="19.30" height="1.00" fill="rgb(225,223,241)" />
<rect x="113.90" y="207.80" width="19.30" height="3.00" fill="rgb(168,167,237)" />
<rect x="113.90" y="210.80" width="19.30" height="2.00" fill="rgb(205,203,239)" />
<rect x="113.90" y="212.80" width="19.30" height="3.00" fill="rgb(199,197,238)" />
<rect x="113.90" y="215.80" width="19.30" height="1.50" fill="rgb(194,192,238)" />
<rect x="113.90" y="217.30" width="19.30" height="1.50" fill="rgb(188,186,238)" />
<rect x="113.90" y="218.80" width="19.30" height="2.00" fill="rgb(216,214,240)" />
<rect x="113.90" y="220.80" width="19.30" height="2.00" fill="rgb(163,163,237)" />
<rect x="113.90" y="222.80" width="19.30" height="2.00" fill="rgb(217,215,240)" />
<rect x="113.90" y="224.80" width="19.30" height="1.00" fill="rgb(205,203,239)" />
<rect x="113.90" y="225.80" width="19.30" height="1.50" fill="rgb(201,199,239)" />
<rect x="113.90" y="227.30" width="19.30" height="1.50" fill="rgb(215,213,240)" />
<rect x="113.90" y="228.80" width="19.30" height="2.50" fill="rgb(148,148,236)" />
<rect x="113.90" y="231.30" width="19.30" height="1.00" fill="rgb(207,205,239)" />
<rect x="113.90" y="232.30" width="19.30" height="2.50" fill="rgb(169,168,237)" />
<rect x="113.90" y="234.80" width="19.30" height="2.00" fill="rgb(195,193,238)" />
<rect x="113.90" y="236.80" width="19.30" height="1.00" fill="rgb(228,226,242)" />
<rect x="113.90" y="237.80" width="19.30" height="3.00" fill="rgb(207,205,239)" />
<rect x="113.90" y="240.80" width="19.30" height="2.00" fill="rgb(239,238,246)" />
<rect x="113.90" y="242.80" width="19.30" height="1.50" fill="rgb(187,185,238)" />
<rect x="113.90" y="244.30" width="19.30" height="1.50" fill="rgb(191,189,238)" />
<rect x="113.90" y="245.80" width="19.30" height="1.50" fill="rgb(168,167,237)" />
<rect x="113.90" y="247.30" width="19.30" height="1.00" fill="rgb(177,175,237)" />
<rect x="113.90" y="248.30" width="19.30" height="2.00" fill="rgb(225,223,241)" />
<rect x="113.90" y="250.30" width="19.30" height="1.50" fill="rgb(216,214,240)" />
<rect x="113.90" y="251.80" width="19.30" height="2.00" fill="rgb(235,233,244)" />
<rect x="113.90" y="253.80" width="19.30" height="1.00" fill="rgb(237,236,245)" />
<rect x="113.90" y="254.80" width="19.30" height="1.00" fill="rgb(211,209,239)" />
<rect x="113.90" y="255.80" width="19.30" height="2.00" fill="rgb(181,180,237)" />
<rect x="113.90" y="257.80" width="19.30" height="3.00" fill="rgb(234,232,244)" />
<rect x="113.90" y="260.80" width="19.30" height="2.50" fill="rgb(239,237,246)" />
<rect x="113.90" y="263.30" width="19.30" height="2.00" fill="rgb(200,198,239)" />
<rect x="113.90" y="265.30" width="19.30" height="2.00" fill="rgb(214,212,239)" />
<rect x="113.90" y="267.30" width="19.30" height="1.00" fill="rgb(228,226,242)" />
<rect x="113.90" y="268.30" width="19.30" height="3.00" fill="rgb(188,186,238)" />
<rect x="113.90" y="271.30" width="19.30" height="1.50" fill="rgb(198,196,238)" />
<rect x="113.90" y="272.80" width="19.30" height="2.00" fill="rgb(187,185,238)" />
<rect x="113.90" y="274.80" width="19.30" height="1.00" fill="rgb(224,222,241)" />
<rect x="113.90" y="275.80" width="19.30" height="1.00" fill="rgb(228,226,242)" />
<rect x="113.90" y="276.80" width="19.30" height="1.50" fill="rgb(205,203,239)" />
<rect x="113.90" y="278.30" width="19.30" height="1.00" fill="rgb(202,200,239)" />
<rect x="113.90" y="279.30" width="19.30" height="2.00" fill="rgb(198,196,238)" />
<rect x="113.90" y="281.30" width="19.30" height="1.00" fill="rgb(171,170,237)" />
<rect x="113.90" y="282.30" width="19.30" height="2.00" fill="rgb(221,219,240)" />
<rect x="113.90" y="284.30" width="19.30" height="3.00" fill="rgb(209,207,239)" />
<rect x="113.90" y="287.30" width="19.30" height="1.00" fill="rgb(215,213,240)" />
<rect x="113.90" y="288.30" width="19.30" height="1.00" fill="rgb(229,227,242)" />
<rect x="113.90" y="289.30" width="19.30" height="2.00" fill="rgb(200,198,239)" />
<rect x="113.90" y="291.30" width="19.30" height="1.00" fill="rgb(187,185,238)" />
<rect x="113.90" y="292.30" width="19.30" height="1.50" fill="rgb(183,182,238)" />
<rect x="113.90" y="293.80" width="19.30" height="3.00" fill="rgb(185,183,238)" />
<rect x="113.90" y="296.80" width="19.30" height="2.50" fill="rgb(167,166,237)" />
<rect x="113.90" y="299.30" width="19.30" height="1.00" fill="rgb(166,166,237)" />
<rect x="113.90" y="300.30" width="19.30" height="2.00" fill="rgb(218,216,240)" />
<rect x="113.90" y="302.30" width="19.30" height="2.00" fill="rgb(192,190,238)" />
<rect x="113.90" y="304.30" width="19.30" height="0.20" fill="rgb(226,224,241)" />
<rect x="113.90" y="304.50" width="19.30" height="1.00" fill="rgb(230,228,242)" />
<rect x="113.90" y="305.50" width="19.30" height="2.00" fill="rgb(238,213,206)" />
<rect x="113.90" y="307.50" width="19.30" height="2.50" fill="rgb(233,231,243)" />
<rect x="113.90" y="310.00" width="19.30" height="1.50" fill="rgb(242,225,221)" />
<rect x="113.90" y="311.50" width="19.30" height="2.50" fill="rgb(243,229,226)" />
<rect x="113.90" y="314.00" width="19.30" height="2.50" fill="rgb(243,242,248)" />
<rect x="113.90" y="316.50" width="19.30" height="3.00" fill="rgb(231,229,243)" />
<rect x="113.90" y="319.50" width="19.30" height="1.00" fill="rgb(250,249,251)" />
<rect x="113.90" y="320.50" width="19.30" height="2.00" fill="rgb(246,245,250)" />
<rect x="113.90" y="322.50" width="19.30" height="1.00" fill="rgb(246,245,250)" />
<rect x="113.90" y="323.50" width="19.30" height="2.00" fill="rgb(240,218,212)" />
<rect x="113.90" y="325.50" width="19.30" height="1.00" fill="rgb(242,225,221)" />
<rect x="113.90" y="326.50" width="19.30" height="2.00" fill="rgb(236,234,244)" />
<rect x="113.90" y="328.50" width="19.30" height="2.00" fill="rgb(241,222,218)" />
<rect x="113.90" y="330.50" width="19.30" height="1.50" fill="rgb(250,250,252)" />
<rect x="113.90" y="332.00" width="19.30" height="2.50" fill="rgb(239,237,246)" />
<rect x="113.90" y="334.50" width="19.30" height="2.00" fill="rgb(239,214,207)" />
<rect x="113.90" y="336.50" width="19.30" height="3.00" fill="rgb(232,230,243)" />
<rect x="113.90" y="339.50" width="19.30" height="0.80" fill="rgb(233,231,243)" />
<rect x="135.70" y="42.50" width="18.20" height="3.00" fill="rgb(222,220,240)" />
<rect x="135.70" y="45.50" width="18.20" height="0.50" fill="rgb(229,227,242)" />
<rect x="135.70" y="46.00" width="18.20" height="1.50" fill="rgb(232,230,243)" />
<rect x="135.70" y="47.50" width="18.20" height="1.50" fill="rgb(237,235,244)" />
<rect x="135.70" y="49.00" width="18.20" height="1.00" fill="rgb(232,230,243)" />
<rect x="135.70" y="50.00" width="18.20" height="1.50" fill="rgb(236,234,244)" />
<rect x="135.70" y="51.50" width="18.20" height="3.00" fill="rgb(234,232,244)" />
<rect x="135.70" y="54.50" width="18.20" height="1.50" fill="rgb(240,238,246)" />
<rect x="135.70" y="56.00" width="18.20" height="1.00" fill="rgb(243,242,248)" />
<rect x="135.70" y="57.00" width="18.20" height="2.00" fill="rgb(246,245,250)" />
<rect x="135.70" y="59.00" width="18.20" height="3.00" fill="rgb(247,246,250)" />
<rect x="135.70" y="62.00" width="18.20" height="1.00" fill="rgb(245,244,249)" />
<rect x="135.70" y="63.00" width="18.20" height="1.50" fill="rgb(247,247,250)" />
<rect x="135.70" y="64.50" width="18.20" height="2.00" fill="rgb(247,246,250)" />
<rect x="135.70" y="66.50" width="18.20" height="0.50" fill="rgb(245,245,249)" />
<rect x="135.70" y="67.00" width="18.20" height="1.00" fill="rgb(228,226,242)" />
<rect x="135.70" y="68.00" width="18.20" height="3.00" fill="rgb(208,206,239)" />
<rect x="135.70" y="71.00" width="18.20" height="1.50" fill="rgb(154,153,236)" />
<rect x="135.70" y="72.50" width="18.20" height="1.00" fill="rgb(131,131,235)" />
<rect x="135.70" y="73.50" width="18.20" height="1.50" fill="rgb(100,100,234)" />
<rect x="135.70" y="75.00" width="18.20" height="1.00" fill="rgb(175,174,237)" />
<rect x="135.70" y="76.00" width="18.20" height="3.00" fill="rgb(119,119,235)" />
<rect x="135.70" y="79.00" width="18.20" height="2.00" fill="rgb(90,90,231)" />
<rect x="135.70" y="81.00" width="18.20" height="2.50" fill="rgb(74,74,227)" />
<rect x="135.70" y="83.50" width="18.20" height="3.00" fill="rgb(110,110,234)" />
<rect x="135.70" y="86.50" width="18.20" height="2.00" fill="rgb(118,118,235)" />
<rect x="135.70" y="88.50" width="18.20" height="2.50" fill="rgb(98,98,233)" />
<rect x="135.70" y="91.00" width="18.20" height="1.00" fill="rgb(151,151,236)" />
<rect x="135.70" y="92.00" width="18.20" height="1.50" fill="rgb(63,63,224)" />
<rect x="135.70" y="93.50" width="18.20" height="1.50" fill="rgb(68,68,226)" />
<rect x="135.70" y="95.00" width="18.20" height="1.00" fill="rgb(161,160,237)" />
<rect x="135.70" y="96.00" width="18.20" height="3.00" fill="rgb(138,138,236)" />
<rect x="135.70" y="99.00" width="18.20" height="2.50" fill="rgb(118,118,235)" />
<rect x="135.70" y="101.50" width="18.20" height="2.50" fill="rgb(138,138,236)" />
<rect x="135.70" y="104.00" width="18.20" height="2.00" fill="rgb(87,87,231)" />
<rect x="135.70" y="106.00" width="18.20" height="1.00" fill="rgb(126,126,235)" />
<rect x="135.70" y="107.00" width="18.20" height="2.00" fill="rgb(115,115,235)" />
<rect x="135.70" y="109.00" width="18.20" height="1.50" fill="rgb(85,85,230)" />
<rect x="135.70" y="110.50" width="18.20" height="3.00" fill="rgb(120,120,235)" />
<rect x="135.70" y="113.50" width="18.20" height="2.00" fill="rgb(113,113,235)" />
<rect x="135.70" y="115.50" width="18.20" height="2.00" fill="rgb(126,126,235)" />
<rect x="135.70" y="117.50" width="18.20" height="1.00" fill="rgb(127,127,235)" />
<rect x="135.70" y="118.50" width="18.20" height="2.00" fill="rgb(114,114,235)" />
<rect x="135.70" y="120.50" width="18.20" height="2.50" fill="rgb(169,168,237)" />
<rect x="135.70" y="123.00" width="18.20" height="1.50" fill="rgb(121,121,235)" />
<rect x="135.70" y="124.50" width="18.20" height="1.50" fill="rgb(84,84,230)" />
<rect x="135.70" y="126.00" width="18.20" height="1.00" fill="rgb(99,99,234)" />
<rect x="135.70" y="127.00" width="18.20" height="1.00" fill="rgb(110,110,234)" />
<rect x="135.70" y="128.00" width="18.20" height="1.00" fill="rgb(112,112,234)" />
<rect x="135.70" y="129.00" width="18.20" height="2.50" fill="rgb(151,151,236)" />
<rect x="135.70" y="131.50" width="18.20" height="1.50" fill="rgb(135,135,235)" />
<rect x="135.70" y="133.00" width="18.20" height="2.00" fill="rgb(89,89,231)" />
<rect x="135.70" y="135.00" width="18.20" height="1.50" fill="rgb(134,134,235)" />
<rect x="135.70" y="136.50" width="18.20" height="2.50" fill="rgb(93,93,232)" />
<rect x="135.70" y="139.00" width="18.20" height="1.00" fill="rgb(89,89,231)" />
<rect x="135.70" y="140.00" width="18.20" height="1.00" fill="rgb(170,169,237)" />
<rect x="135.70" y="141.00" width="18.20" height="2.50" fill="rgb(120,120,235)" />
<rect x="135.70" y="143.50" width="18.20" height="1.00" fill="rgb(128,128,235)" />
<rect x="135.70" y="144.50" width="18.20" height="1.50" fill="rgb(149,149,236)" />
<rect x="135.70" y="146.00" width="18.20" height="2.00" fill="rgb(80,80,229)" />
<rect x="135.70" y="148.00" width="18.20" height="1.00" fill="rgb(104,104,234)" />
<rect x="135.70" y="149.00" width="18.20" height="3.00" fill="rgb(94,94,232)" />
<rect x="135.70" y="152.00" width="18.20" height="2.50" fill="rgb(110,110,234)" />
<rect x="135.70" y="154.50" width="18.20" height="1.00" fill="rgb(129,129,235)" />
<rect x="135.70" y="155.50" width="18.20" height="1.00" fill="rgb(128,128,235)" />
<rect x="135.70" y="156.50" width="18.20" height="1.50" fill="rgb(78,78,228)" />
<rect x="135.70" y="158.00" width="18.20" height="2.00" fill="rgb(145,145,236)" />
<rect x="135.70" y="160.00" width="18.20" height="2.00" fill="rgb(190,188,238)" />
<rect x="135.70" y="162.00" width="18.20" height="1.50" fill="rgb(110,110,234)" />
<rect x="135.70" y="163.50" width="18.20" height="1.50" fill="rgb(151,151,236)" />
<rect x="135.70" y="165.00" width="18.20" height="1.00" fill="rgb(89,89,231)" />
<rect x="135.70" y="166.00" width="18.20" height="1.50" fill="rgb(99,99,234)" />
<rect x="135.70" y="167.50" width="18.20" height="1.00" fill="rgb(91,91,232)" />
<rect x="135.70" y="168.50" width="18.20" height="2.00" fill="rgb(130,130,235)" />
<rect x="135.70" y="170.50" width="18.20" height="2.50" fill="rgb(94,94,233)" />
<rect x="135.70" y="173.00" width="18.20" height="1.00" fill="rgb(174,172,237)" />
<rect x="135.70" y="174.00" width="18.20" height="1.50" fill="rgb(87,87,231)" />
<rect x="135.70" y="175.50" width="18.20" height="3.00" fill="rgb(112,112,234)" />
<rect x="135.70" y="178.50" width="18.20" height="1.00" fill="rgb(105,105,234)" />
<rect x="135.70" y="179.50" width="18.20" height="1.50" fill="rgb(99,99,234)" />
<rect x="135.70" y="181.00" width="18.20" height="1.50" fill="rgb(99,99,234)" />
<rect x="135.70" y="182.50" width="18.20" height="3.00" fill="rgb(107,107,234)" />
<rect x="135.70" y="185.50" width="18.20" height="2.00" fill="rgb(129,129,235)" />
<rect x="135.70" y="187.50" width="18.20" height="2.50" fill="rgb(95,95,233)" />
<rect x="135.70" y="190.00" width="18.20" height="3.00" fill="rgb(118,118,235)" />
<rect x="135.70" y="193.00" width="18.20" height="1.50" fill="rgb(145,145,236)" />
<rect x="135.70" y="194.50" width="18.20" height="2.00" fill="rgb(180,178,237)" />
<rect x="135.70" y="196.50" width="18.20" height="3.00" fill="rgb(128,128,235)" />
<rect x="135.70" y="199.50" width="18.20" height="1.50" fill="rgb(97,97,233)" />
<rect x="135.70" y="201.00" width="18.20" height="1.00" fill="rgb(74,74,227)" />
<rect x="135.70" y="202.00" width="18.20" height="2.50" fill="rgb(86,86,231)" />
<rect x="135.70" y="204.50" width="18.20" height="1.50" fill="rgb(122,122,235)" />
<rect x="135.70" y="206.00" width="18.20" height="1.50" fill="rgb(104,104,234)" />
<rect x="135.70" y="207.50" width="18.20" height="1.50" fill="rgb(120,120,235)" />
<rect x="135.70" y="209.00" width="18.20" height="2.00" fill="rgb(125,125,235)" />
<rect x="135.70" y="211.00" width="18.20" height="2.00" fill="rgb(115,115,235)" />
<rect x="135.70" y="213.00" width="18.20" height="2.00" fill="rgb(125,125,235)" />
<rect x="135.70" y="215.00" width="18.20" height="2.50" fill="rgb(168,168,237)" />
<rect x="135.70" y="217.50" width="18.20" height="1.50" fill="rgb(83,83,230)" />
<rect x="135.70" y="219.00" width="18.20" height="1.50" fill="rgb(131,131,235)" />
<rect x="135.70" y="220.50" width="18.20" height="2.00" fill="rgb(153,153,236)" />
<rect x="135.70" y="222.50" width="18.20" height="1.00" fill="rgb(120,120,235)" />
<rect x="135.70" y="223.50" width="18.20" height="2.50" fill="rgb(134,134,235)" />
<rect x="135.70" y="226.00" width="18.20" height="1.00" fill="rgb(74,74,227)" />
<rect x="135.70" y="227.00" width="18.20" height="1.50" fill="rgb(78,78,228)" />
<rect x="135.70" y="228.50" width="18.20" height="1.00" fill="rgb(137,137,235)" />
<rect x="135.70" y="229.50" width="18.20" height="2.00" fill="rgb(133,133,235)" />
<rect x="135.70" y="231.50" width="18.20" height="1.00" fill="rgb(163,162,237)" />
<rect x="135.70" y="232.50" width="18.20" height="1.50" fill="rgb(166,165,237)" />
<rect x="135.70" y="234.00" width="18.20" height="2.00" fill="rgb(131,131,235)" />
<rect x="135.70" y="236.00" width="18.20" height="1.00" fill="rgb(147,147,236)" />
<rect x="135.70" y="237.00" width="18.20" height="2.00" fill="rgb(89,89,231)" />
<rect x="135.70" y="239.00" width="18.20" height="1.00" fill="rgb(141,141,236)" />
<rect x="135.70" y="240.00" width="18.20" height="1.00" fill="rgb(134,134,235)" />
<rect x="135.70" y="241.00" width="18.20" height="2.00" fill="rgb(76,76,228)" />
<rect x="135.70" y="243.00" width="18.20" height="1.00" fill="rgb(117,117,235)" />
<rect x="135.70" y="244.00" width="18.20" height="1.50" fill="rgb(217,215,240)" />
<rect x="135.70" y="245.50" width="18.20" height="1.00" fill="rgb(87,87,231)" />
<rect x="135.70" y="246.50" width="18.20" height="2.00" fill="rgb(123,123,235)" />
<rect x="135.70" y="248.50" width="18.20" height="3.00" fill="rgb(122,122,235)" />
<rect x="135.70" y="251.50" width="18.20" height="1.50" fill="rgb(131,131,235)" />
<rect x="135.70" y="253.00" width="18.20" height="1.50" fill="rgb(128,128,235)" />
<rect x="135.70" y="254.50" width="18.20" height="2.00" fill="rgb(166,165,237)" />
<rect x="135.70" y="256.50" width="18.20" height="1.50" fill="rgb(137,137,235)" />
<rect x="135.70" y="258.00" width="18.20" height="1.50" fill="rgb(141,141,236)" />
<rect x="135.70" y="259.50" width="18.20" height="1.50" fill="rgb(130,130,235)" />
<rect x="135.70" y="261.00" width="18.20" height="2.00" fill="rgb(102,102,234)" />
<rect x="135.70" y="263.00" width="18.20" height="3.00" fill="rgb(111,111,234)" />
<rect x="135.70" y="266.00" width="18.20" height="3.00" fill="rgb(93,93,232)" />
<rect x="135.70" y="269.00" width="18.20" height="2.00" fill="rgb(87,87,231)" />
<rect x="135.70" y="271.00" width="18.20" height="1.50" fill="rgb(84,84,230)" />
<rect x="135.70" y="272.50" width="18.20" height="1.00" fill="rgb(111,111,234)" />
<rect x="135.70" y="273.50" width="18.20" height="1.50" fill="rgb(131,131,235)" />
<rect x="135.70" y="275.00" width="18.20" height="3.00" fill="rgb(129,129,235)" />
<rect x="135.70" y="278.00" width="18.20" height="2.00" fill="rgb(101,101,234)" />
<rect x="135.70" y="280.00" width="18.20" height="3.00" fill="rgb(93,93,232)" />
<rect x="135.70" y="283.00" width="18.20" height="1.50" fill="rgb(103,103,234)" />
<rect x="135.70" y="284.50" width="18.20" height="2.00" fill="rgb(95,95,233)" />
<rect x="135.70" y="286.50" width="18.20" height="3.00" fill="rgb(97,97,233)" />
<rect x="135.70" y="289.50" width="18.20" height="2.00" fill="rgb(109,109,234)" />
<rect x="135.70" y="291.50" width="18.20" height="3.00" fill="rgb(111,111,234)" />
<rect x="135.70" y="294.50" width="18.20" height="2.00" fill="rgb(126,126,235)" />
<rect x="135.70" y="296.50" width="18.20" height="3.00" fill="rgb(118,118,235)" />
<rect x="135.70" y="299.50" width="18.20" height="3.00" fill="rgb(116,116,235)" />
<rect x="135.70" y="302.50" width="18.20" height="1.00" fill="rgb(114,114,235)" />
<rect x="135.70" y="303.50" width="18.20" height="0.50" fill="rgb(78,78,228)" />
<rect x="135.70" y="304.00" width="18.20" height="1.00" fill="rgb(235,233,244)" />
<rect x="135.70" y="305.00" width="18.20" height="1.50" fill="rgb(240,219,214)" />
<rect x="135.70" y="306.50" width="18.20" height="1.50" fill="rgb(238,211,204)" />
<rect x="135.70" y="308.00" width="18.20" height="2.00" fill="rgb(242,241,248)" />
<rect x="135.70" y="310.00" width="18.20" height="2.00" fill="rgb(240,219,214)" />
<rect x="135.70" y="312.00" width="18.20" height="2.00" fill="rgb(237,207,199)" />
<rect x="135.70" y="314.00" width="18.20" height="2.00" fill="rgb(245,236,235)" />
<rect x="135.70" y="316.00" width="18.20" height="1.00" fill="rgb(240,218,212)" />
<rect x="135.70" y="317.00" width="18.20" height="2.50" fill="rgb(250,250,252)" />
<rect x="135.70" y="319.50" width="18.20" height="1.50" fill="rgb(244,243,249)" />
<rect x="135.70" y="321.00" width="18.20" height="2.00" fill="rgb(240,239,246)" />
<rect x="135.70" y="323.00" width="18.20" height="1.00" fill="rgb(242,225,221)" />
<rect x="135.70" y="324.00" width="18.20" height="2.50" fill="rgb(240,220,214)" />
<rect x="135.70" y="326.50" width="18.20" height="1.00" fill="rgb(245,244,249)" />
<rect x="135.70" y="327.50" width="18.20" height="2.00" fill="rgb(242,224,220)" />
<rect x="135.70" y="329.50" width="18.20" height="2.50" fill="rgb(241,222,218)" />
<rect x="135.70" y="332.00" width="18.20" height="2.50" fill="rgb(239,238,246)" />
<rect x="135.70" y="334.50" width="18.20" height="1.00" fill="rgb(247,246,250)" />
<rect x="135.70" y="335.50" width="18.20" height="1.50" fill="rgb(250,250,252)" />
<rect x="135.70" y="337.00" width="18.20" height="1.00" fill="rgb(246,246,250)" />
<rect x="135.70" y="338.00" width="18.20" height="1.50" fill="rgb(243,242,248)" />
<rect x="135.70" y="339.50" width="18.20" height="0.80" fill="rgb(248,248,251)" />
<rect x="153.90" y="42.50" width="18.90" height="1.50" fill="rgb(227,225,242)" />
<rect x="153.90" y="44.00" width="18.90" height="1.00" fill="rgb(225,223,241)" />
<rect x="153.90" y="45.00" width="18.90" height="1.00" fill="rgb(227,225,242)" />
<rect x="153.90" y="46.00" width="18.90" height="2.50" fill="rgb(246,246,250)" />
<rect x="153.90" y="48.50" width="18.90" height="2.00" fill="rgb(239,238,246)" />
<rect x="153.90" y="50.50" width="18.90" height="1.00" fill="rgb(239,237,246)" />
<rect x="153.90" y="51.50" width="18.90" height="1.00" fill="rgb(233,231,243)" />
<rect x="153.90" y="52.50" width="18.90" height="0.50" fill="rgb(236,235,244)" />
<rect x="153.90" y="53.00" width="18.90" height="1.50" fill="rgb(203,201,239)" />
<rect x="153.90" y="54.50" width="18.90" height="1.00" fill="rgb(201,199,239)" />
<rect x="153.90" y="55.50" width="18.90" height="1.50" fill="rgb(232,230,243)" />
<rect x="153.90" y="57.00" width="18.90" height="1.00" fill="rgb(240,238,246)" />
<rect x="153.90" y="58.00" width="18.90" height="1.50" fill="rgb(248,248,251)" />
<rect x="153.90" y="59.50" width="18.90" height="2.00" fill="rgb(242,241,248)" />
<rect x="153.90" y="61.50" width="18.90" height="1.00" fill="rgb(238,237,245)" />
<rect x="153.90" y="62.50" width="18.90" height="1.00" fill="rgb(246,246,250)" />
<rect x="153.90" y="63.50" width="18.90" height="1.50" fill="rgb(250,250,252)" />
<rect x="153.90" y="65.00" width="18.90" height="1.00" fill="rgb(238,236,245)" />
<rect x="153.90" y="66.00" width="18.90" height="1.00" fill="rgb(244,243,249)" />
<rect x="153.90" y="67.00" width="18.90" height="2.50" fill="rgb(196,194,238)" />
<rect x="153.90" y="69.50" width="18.90" height="2.50" fill="rgb(203,201,239)" />
<rect x="153.90" y="72.00" width="18.90" height="1.50" fill="rgb(165,165,237)" />
<rect x="153.90" y="73.50" width="18.90" height="1.00" fill="rgb(163,162,237)" />
<rect x="153.90" y="74.50" width="18.90" height="1.00" fill="rgb(100,100,234)" />
<rect x="153.90" y="75.50" width="18.90" height="1.00" fill="rgb(148,148,236)" />
<rect x="153.90" y="76.50" width="18.90" height="2.50" fill="rgb(65,65,225)" />
<rect x="153.90" y="79.00" width="18.90" height="1.50" fill="rgb(88,88,231)" />
<rect x="153.90" y="80.50" width="18.90" height="2.00" fill="rgb(138,138,236)" />
<rect x="153.90" y="82.50" width="18.90" height="1.00" fill="rgb(172,171,237)" />
<rect x="153.90" y="83.50" width="18.90" height="1.00" fill="rgb(184,182,238)" />
<rect x="153.90" y="84.50" width="18.90" height="2.00" fill="rgb(141,141,236)" />
<rect x="153.90" y="86.50" width="18.90" height="1.00" fill="rgb(158,158,236)" />
<rect x="153.90" y="87.50" width="18.90" height="2.00" fill="rgb(111,111,234)" />
<rect x="153.90" y="89.50" width="18.90" height="1.00" fill="rgb(115,115,235)" />
<rect x="153.90" y="90.50" width="18.90" height="2.00" fill="rgb(152,152,236)" />
<rect x="153.90" y="92.50" width="18.90" height="3.00" fill="rgb(100,100,234)" />
<rect x="153.90" y="95.50" width="18.90" height="1.00" fill="rgb(140,140,236)" />
<rect x="153.90" y="96.50" width="18.90" height="1.00" fill="rgb(120,120,235)" />
<rect x="153.90" y="97.50" width="18.90" height="2.00" fill="rgb(98,98,233)" />
<rect x="153.90" y="99.50" width="18.90" height="2.50" fill="rgb(161,161,237)" />
<rect x="153.90" y="102.00" width="18.90" height="2.00" fill="rgb(152,152,236)" />
<rect x="153.90" y="104.00" width="18.90" height="1.00" fill="rgb(98,98,233)" />
<rect x="153.90" y="105.00" width="18.90" height="3.00" fill="rgb(139,139,236)" />
<rect x="153.90" y="108.00" width="18.90" height="1.00" fill="rgb(177,176,237)" />
<rect x="153.90" y="109.00" width="18.90" height="2.50" fill="rgb(175,174,237)" />
<rect x="153.90" y="111.50" width="18.90" height="1.50" fill="rgb(163,162,237)" />
<rect x="153.90" y="113.00" width="18.90" height="1.00" fill="rgb(129,129,235)" />
<rect x="153.90" y="114.00" width="18.90" height="1.50" fill="rgb(104,104,234)" />
<rect x="153.90" y="115.50" width="18.90" height="1.50" fill="rgb(102,102,234)" />
<rect x="153.90" y="117.00" width="18.90" height="2.00" fill="rgb(158,157,236)" />
<rect x="153.90" y="119.00" width="18.90" height="2.00" fill="rgb(103,103,234)" />
<rect x="153.90" y="121.00" width="18.90" height="2.00" fill="rgb(141,141,236)" />
<rect x="153.90" y="123.00" width="18.90" height="3.00" fill="rgb(131,131,235)" />
<rect x="153.90" y="126.00" width="18.90" height="1.00" fill="rgb(140,140,236)" />
<rect x="153.90" y="127.00" width="18.90" height="2.50" fill="rgb(158,157,236)" />
<rect x="153.90" y="129.50" width="18.90" height="2.00" fill="rgb(183,181,238)" />
<rect x="153.90" y="131.50" width="18.90" height="1.50" fill="rgb(159,159,236)" />
<rect x="153.90" y="133.00" width="18.90" height="1.00" fill="rgb(125,125,235)" />
<rect x="153.90" y="134.00" width="18.90" height="1.50" fill="rgb(146,146,236)" />
<rect x="153.90" y="135.50" width="18.90" height="1.00" fill="rgb(150,150,236)" />
<rect x="153.90" y="136.50" width="18.90" height="1.50" fill="rgb(83,83,230)" />
<rect x="153.90" y="138.00" width="18.90" height="2.00" fill="rgb(156,156,236)" />
<rect x="153.90" y="140.00" width="18.90" height="1.50" fill="rgb(110,110,234)" />
<rect x="153.90" y="141.50" width="18.90" height="2.50" fill="rgb(153,152,236)" />
<rect x="153.90" y="144.00" width="18.90" height="3.00" fill="rgb(192,190,238)" />
<rect x="153.90" y="147.00" width="18.90" height="1.50" fill="rgb(117,117,235)" />
<rect x="153.90" y="148.50" width="18.90" height="1.50" fill="rgb(138,138,236)" />
<rect x="153.90" y="150.00" width="18.90" height="3.00" fill="rgb(190,188,238)" />
<rect x="153.90" y="153.00" width="18.90" height="1.50" fill="rgb(101,101,234)" />
<rect x="153.90" y="154.50" width="18.90" height="1.50" fill="rgb(159,158,236)" />
<rect x="153.90" y="156.00" width="18.90" height="2.00" fill="rgb(89,89,231)" />
<rect x="153.90" y="158.00" width="18.90" height="1.50" fill="rgb(118,118,235)" />
<rect x="153.90" y="159.50" width="18.90" height="2.00" fill="rgb(127,127,235)" />
<rect x="153.90" y="161.50" width="18.90" height="2.00" fill="rgb(159,159,236)" />
<rect x="153.90" y="163.50" width="18.90" height="1.00" fill="rgb(194,192,238)" />
<rect x="153.90" y="164.50" width="18.90" height="2.00" fill="rgb(142,142,236)" />
<rect x="153.90" y="166.50" width="18.90" height="1.00" fill="rgb(111,111,234)" />
<rect x="153.90" y="167.50" width="18.90" height="2.00" fill="rgb(127,127,235)" />
<rect x="153.90" y="169.50" width="18.90" height="3.00" fill="rgb(136,136,235)" />
<rect x="153.90" y="172.50" width="18.90" height="2.00" fill="rgb(152,151,236)" />
<rect x="153.90" y="174.50" width="18.90" height="1.00" fill="rgb(157,156,236)" />
<rect x="153.90" y="175.50" width="18.90" height="1.00" fill="rgb(111,111,234)" />
<rect x="153.90" y="176.50" width="18.90" height="2.00" fill="rgb(205,203,239)" />
<rect x="153.90" y="178.50" width="18.90" height="1.00" fill="rgb(208,206,239)" />
<rect x="153.90" y="179.50" width="18.90" height="2.00" fill="rgb(154,154,236)" />
<rect x="153.90" y="181.50" width="18.90" height="1.50" fill="rgb(132,132,235)" />
<rect x="153.90" y="183.00" width="18.90" height="3.00" fill="rgb(144,144,236)" />
<rect x="153.90" y="186.00" width="18.90" height="2.00" fill="rgb(98,98,233)" />
<rect x="153.90" y="188.00" width="18.90" height="1.00" fill="rgb(189,187,238)" />
<rect x="153.90" y="189.00" width="18.90" height="2.00" fill="rgb(102,102,234)" />
<rect x="153.90" y="191.00" width="18.90" height="3.00" fill="rgb(140,140,236)" />
<rect x="153.90" y="194.00" width="18.90" height="1.00" fill="rgb(226,224,241)" />
<rect x="153.90" y="195.00" width="18.90" height="1.00" fill="rgb(182,180,238)" />
<rect x="153.90" y="196.00" width="18.90" height="2.00" fill="rgb(114,114,235)" />
<rect x="153.90" y="198.00" width="18.90" height="1.00" fill="rgb(135,135,235)" />
<rect x="153.90" y="199.00" width="18.90" height="2.00" fill="rgb(187,185,238)" />
<rect x="153.90" y="201.00" width="18.90" height="1.50" fill="rgb(149,149,236)" />
<rect x="153.90" y="202.50" width="18.90" height="2.00" fill="rgb(189,187,238)" />
<rect x="153.90" y="204.50" width="18.90" height="3.00" fill="rgb(185,183,238)" />
<rect x="153.90" y="207.50" width="18.90" height="2.00" fill="rgb(194,192,238)" />
<rect x="153.90" y="209.50" width="18.90" height="2.00" fill="rgb(155,155,236)" />
<rect x="153.90" y="211.50" width="18.90" height="2.00" fill="rgb(98,98,234)" />
<rect x="153.90" y="213.50" width="18.90" height="2.00" fill="rgb(135,135,235)" />
<rect x="153.90" y="215.50" width="18.90" height="1.50" fill="rgb(69,69,226)" />
<rect x="153.90" y="217.00" width="18.90" height="1.50" fill="rgb(148,148,236)" />
<rect x="153.90" y="218.50" width="18.90" height="1.50" fill="rgb(103,103,234)" />
<rect x="153.90" y="220.00" width="18.90" height="2.00" fill="rgb(73,73,227)" />
<rect x="153.90" y="222.00" width="18.90" height="1.50" fill="rgb(100,100,234)" />
<rect x="153.90" y="223.50" width="18.90" height="1.00" fill="rgb(190,188,238)" />
<rect x="153.90" y="224.50" width="18.90" height="1.50" fill="rgb(122,122,235)" />
<rect x="153.90" y="226.00" width="18.90" height="2.00" fill="rgb(157,157,236)" />
<rect x="153.90" y="228.00" width="18.90" height="2.50" fill="rgb(174,173,237)" />
<rect x="153.90" y="230.50" width="18.90" height="1.00" fill="rgb(79,79,229)" />
<rect x="153.90" y="231.50" width="18.90" height="1.00" fill="rgb(160,160,236)" />
<rect x="153.90" y="232.50" width="18.90" height="2.00" fill="rgb(167,167,237)" />
<rect x="153.90" y="234.50" width="18.90" height="2.50" fill="rgb(75,75,227)" />
<rect x="153.90" y="237.00" width="18.90" height="1.50" fill="rgb(182,180,238)" />
<rect x="153.90" y="238.50" width="18.90" height="1.00" fill="rgb(162,161,237)" />
<rect x="153.90" y="239.50" width="18.90" height="1.50" fill="rgb(127,127,235)" />
<rect x="153.90" y="241.00" width="18.90" height="2.50" fill="rgb(174,173,237)" />
<rect x="153.90" y="243.50" width="18.90" height="1.50" fill="rgb(60,60,222)" />
<rect x="153.90" y="245.00" width="18.90" height="1.50" fill="rgb(88,88,231)" />
<rect x="153.90" y="246.50" width="18.90" height="1.50" fill="rgb(163,162,237)" />
<rect x="153.90" y="248.00" width="18.90" height="2.00" fill="rgb(77,77,228)" />
<rect x="153.90" y="250.00" width="18.90" height="1.50" fill="rgb(136,136,235)" />
<rect x="153.90" y="251.50" width="18.90" height="3.00" fill="rgb(86,86,230)" />
<rect x="153.90" y="254.50" width="18.90" height="2.00" fill="rgb(118,118,235)" />
<rect x="153.90" y="256.50" width="18.90" height="3.00" fill="rgb(74,74,227)" />
<rect x="153.90" y="259.50" width="18.90" height="2.00" fill="rgb(221,219,240)" />
<rect x="153.90" y="261.50" width="18.90" height="1.00" fill="rgb(122,122,235)" />
<rect x="153.90" y="262.50" width="18.90" height="2.00" fill="rgb(147,147,236)" />
<rect x="153.90" y="264.50" width="18.90" height="2.00" fill="rgb(112,112,234)" />
<rect x="153.90" y="266.50" width="18.90" height="1.00" fill="rgb(94,94,232)" />
<rect x="153.90" y="267.50" width="18.90" height="2.50" fill="rgb(129,129,235)" />
<rect x="153.90" y="270.00" width="18.90" height="1.50" fill="rgb(139,139,236)" />
<rect x="153.90" y="271.50" width="18.90" height="1.00" fill="rgb(164,164,237)" />
<rect x="153.90" y="272.50" width="18.90" height="2.50" fill="rgb(138,138,236)" />
<rect x="153.90" y="275.00" width="18.90" height="1.00" fill="rgb(127,127,235)" />
<rect x="153.90" y="276.00" width="18.90" height="1.00" fill="rgb(145,145,236)" />
<rect x="153.90" y="277.00" width="18.90" height="3.00" fill="rgb(140,140,236)" />
<rect x="153.90" y="280.00" width="18.90" height="1.50" fill="rgb(138,138,236)" />
<rect x="153.90" y="281.50" width="18.90" height="1.50" fill="rgb(233,231,243)" />
<rect x="153.90" y="283.00" width="18.90" height="2.00" fill="rgb(171,170,237)" />
<rect x="153.90" y="285.00" width="18.90" height="1.00" fill="rgb(118,118,235)" />
<rect x="153.90" y="286.00" width="18.90" height="1.50" fill="rgb(64,64,225)" />
<rect x="153.90" y="287.50" width="18.90" height="2.00" fill="rgb(110,110,234)" />
<rect x="153.90" y="289.50" width="18.90" height="1.00" fill="rgb(135,135,235)" />
<rect x="153.90" y="290.50" width="18.90" height="1.00" fill="rgb(171,170,237)" />
<rect x="153.90" y="291.50" width="18.90" height="1.00" fill="rgb(149,149,236)" />
<rect x="153.90" y="292.50" width="18.90" height="1.00" fill="rgb(184,182,238)" />
<rect x="153.90" y="293.50" width="18.90" height="2.50" fill="rgb(150,150,236)" />
<rect x="153.90" y="296.00" width="18.90" height="2.00" fill="rgb(153,153,236)" />
<rect x="153.90" y="298.00" width="18.90" height="1.50" fill="rgb(104,104,234)" />
<rect x="153.90" y="299.50" width="18.90" height="2.50" fill="rgb(113,113,235)" />
<rect x="153.90" y="302.00" width="18.90" height="1.00" fill="rgb(208,206,239)" />
<rect x="153.90" y="303.00" width="18.90" height="0.50" fill="rgb(151,151,236)" />
<rect x="153.90" y="303.50" width="18.90" height="1.50" fill="rgb(250,250,252)" />
<rect x="153.90" y="305.00" width="18.90" height="1.00" fill="rgb(234,232,243)" />
<rect x="153.90" y="306.00" width="18.90" height="1.00" fill="rgb(250,250,252)" />
<rect x="153.90" y="307.00" width="18.90" height="2.00" fill="rgb(249,249,251)" />
<rect x="153.90" y="309.00" width="18.90" height="3.00" fill="rgb(233,231,243)" />
<rect x="153.90" y="312.00" width="18.90" height="1.00" fill="rgb(243,242,248)" />
<rect x="153.90" y="313.00" width="18.90" height="2.00" fill="rgb(245,244,249)" />
<rect x="153.90" y="315.00" width="18.90" height="2.50" fill="rgb(246,239,239)" />
<rect x="153.90" y="317.50" width="18.90" height="2.50" fill="rgb(247,247,251)" />
<rect x="153.90" y="320.00" width="18.90" height="1.00" fill="rgb(249,249,251)" />
<rect x="153.90" y="321.00" width="18.90" height="2.00" fill="rgb(243,228,225)" />
<rect x="153.90" y="323.00" width="18.90" height="1.50" fill="rgb(237,235,244)" />
<rect x="153.90" y="324.50" width="18.90" height="3.00" fill="rgb(244,243,249)" />
<rect x="153.90" y="327.50" width="18.90" height="2.00" fill="rgb(243,242,248)" />
<rect x="153.90" y="329.50" width="18.90" height="1.50" fill="rgb(242,224,220)" />
<rect x="153.90" y="331.00" width="18.90" height="2.00" fill="rgb(250,250,252)" />
<rect x="153.90" y="333.00" width="18.90" height="1.50" fill="rgb(240,239,246)" />
<rect x="153.90" y="334.50" width="18.90" height="1.50" fill="rgb(249,249,251)" />
<rect x="153.90" y="336.00" width="18.90" height="1.00" fill="rgb(234,232,244)" />
<rect x="153.90" y="337.00" width="18.90" height="2.00" fill="rgb(236,234,244)" />
<rect x="153.90" y="339.00" width="18.90" height="1.30" fill="rgb(241,240,247)" />
<rect x="175.60" y="42.50" width="17.60" height="2.50" fill="rgb(245,238,242)" />
<rect x="175.60" y="45.00" width="17.60" height="2.00" fill="rgb(205,203,239)" />
<rect x="175.60" y="47.00" width="17.60" height="1.00" fill="rgb(241,227,233)" />
<rect x="175.60" y="48.00" width="17.60" height="1.00" fill="rgb(211,209,239)" />
<rect x="175.60" y="49.00" width="17.60" height="3.00" fill="rgb(220,218,240)" />
<rect x="175.60" y="52.00" width="17.60" height="1.00" fill="rgb(211,209,239)" />
<rect x="175.60" y="53.00" width="17.60" height="2.00" fill="rgb(237,235,245)" />
<rect x="175.60" y="55.00" width="17.60" height="2.00" fill="rgb(242,241,248)" />
<rect x="175.60" y="57.00" width="17.60" height="2.00" fill="rgb(238,220,228)" />
<rect x="175.60" y="59.00" width="17.60" height="1.00" fill="rgb(208,206,239)" />
<rect x="175.60" y="60.00" width="17.60" height="2.00" fill="rgb(229,227,242)" />
<rect x="175.60" y="62.00" width="17.60" height="1.50" fill="rgb(236,216,225)" />
<rect x="175.60" y="63.50" width="17.60" height="3.00" fill="rgb(246,241,245)" />
<rect x="175.60" y="66.50" width="17.60" height="1.50" fill="rgb(248,244,247)" />
<rect x="175.60" y="68.00" width="17.60" height="2.00" fill="rgb(230,228,242)" />
<rect x="175.60" y="70.00" width="17.60" height="3.00" fill="rgb(225,223,241)" />
<rect x="175.60" y="73.00" width="17.60" height="1.00" fill="rgb(231,229,243)" />
<rect x="175.60" y="74.00" width="17.60" height="2.00" fill="rgb(212,210,239)" />
<rect x="175.60" y="76.00" width="17.60" height="2.50" fill="rgb(213,211,239)" />
<rect x="175.60" y="78.50" width="17.60" height="2.00" fill="rgb(235,214,224)" />
<rect x="175.60" y="80.50" width="17.60" height="1.50" fill="rgb(203,201,239)" />
<rect x="175.60" y="82.00" width="17.60" height="2.50" fill="rgb(217,215,240)" />
<rect x="175.60" y="84.50" width="17.60" height="2.50" fill="rgb(205,203,239)" />
<rect x="175.60" y="87.00" width="17.60" height="1.00" fill="rgb(244,236,241)" />
<rect x="175.60" y="88.00" width="17.60" height="3.00" fill="rgb(232,230,243)" />
<rect x="175.60" y="91.00" width="17.60" height="3.00" fill="rgb(245,236,241)" />
<rect x="175.60" y="94.00" width="17.60" height="1.00" fill="rgb(243,242,248)" />
<rect x="175.60" y="95.00" width="17.60" height="1.00" fill="rgb(227,225,241)" />
<rect x="175.60" y="96.00" width="17.60" height="1.50" fill="rgb(204,202,239)" />
<rect x="175.60" y="97.50" width="17.60" height="2.00" fill="rgb(223,221,240)" />
<rect x="175.60" y="99.50" width="17.60" height="3.00" fill="rgb(239,223,231)" />
<rect x="175.60" y="102.50" width="17.60" height="1.00" fill="rgb(238,220,228)" />
<rect x="175.60" y="103.50" width="17.60" height="1.00" fill="rgb(225,223,241)" />
<rect x="175.60" y="104.50" width="17.60" height="1.50" fill="rgb(211,209,239)" />
<rect x="175.60" y="106.00" width="17.60" height="3.00" fill="rgb(247,247,251)" />
<rect x="175.60" y="109.00" width="17.60" height="1.50" fill="rgb(234,232,243)" />
<rect x="175.60" y="110.50" width="17.60" height="1.00" fill="rgb(220,218,240)" />
<rect x="175.60" y="111.50" width="17.60" height="1.00" fill="rgb(236,217,226)" />
<rect x="175.60" y="112.50" width="17.60" height="2.00" fill="rgb(215,213,240)" />
<rect x="175.60" y="114.50" width="17.60" height="2.00" fill="rgb(221,219,240)" />
<rect x="175.60" y="116.50" width="17.60" height="2.50" fill="rgb(231,229,243)" />
<rect x="175.60" y="119.00" width="17.60" height="2.50" fill="rgb(217,215,240)" />
<rect x="175.60" y="121.50" width="17.60" height="2.00" fill="rgb(222,220,240)" />
<rect x="175.60" y="123.50" width="17.60" height="2.00" fill="rgb(221,219,240)" />
<rect x="175.60" y="125.50" width="17.60" height="3.00" fill="rgb(204,202,239)" />
<rect x="175.60" y="128.50" width="17.60" height="2.00" fill="rgb(232,206,216)" />
<rect x="175.60" y="130.50" width="17.60" height="1.00" fill="rgb(223,221,240)" />
<rect x="175.60" y="131.50" width="17.60" height="2.00" fill="rgb(239,224,231)" />
<rect x="175.60" y="133.50" width="17.60" height="1.50" fill="rgb(233,231,243)" />
<rect x="175.60" y="135.00" width="17.60" height="3.00" fill="rgb(203,201,239)" />
<rect x="175.60" y="138.00" width="17.60" height="3.00" fill="rgb(239,222,230)" />
<rect x="175.60" y="141.00" width="17.60" height="1.00" fill="rgb(237,218,227)" />
<rect x="175.60" y="142.00" width="17.60" height="1.00" fill="rgb(230,228,242)" />
<rect x="175.60" y="143.00" width="17.60" height="1.50" fill="rgb(228,226,242)" />
<rect x="175.60" y="144.50" width="17.60" height="2.00" fill="rgb(235,233,244)" />
<rect x="175.60" y="146.50" width="17.60" height="1.50" fill="rgb(229,227,242)" />
<rect x="175.60" y="148.00" width="17.60" height="3.00" fill="rgb(237,219,227)" />
<rect x="175.60" y="151.00" width="17.60" height="2.50" fill="rgb(247,242,245)" />
<rect x="175.60" y="153.50" width="17.60" height="2.00" fill="rgb(240,239,246)" />
<rect x="175.60" y="155.50" width="17.60" height="1.00" fill="rgb(223,221,240)" />
<rect x="175.60" y="156.50" width="17.60" height="1.50" fill="rgb(238,220,228)" />
<rect x="175.60" y="158.00" width="17.60" height="1.50" fill="rgb(237,235,244)" />
<rect x="175.60" y="159.50" width="17.60" height="2.00" fill="rgb(230,228,242)" />
<rect x="175.60" y="161.50" width="17.60" height="2.00" fill="rgb(238,237,245)" />
<rect x="175.60" y="163.50" width="17.60" height="1.50" fill="rgb(236,216,225)" />
<rect x="175.60" y="165.00" width="17.60" height="2.50" fill="rgb(250,250,252)" />
<rect x="175.60" y="167.50" width="17.60" height="2.00" fill="rgb(233,231,243)" />
<rect x="175.60" y="169.50" width="17.60" height="1.00" fill="rgb(242,229,235)" />
<rect x="175.60" y="170.50" width="17.60" height="1.50" fill="rgb(245,244,249)" />
<rect x="175.60" y="172.00" width="17.60" height="1.00" fill="rgb(237,218,227)" />
<rect x="175.60" y="173.00" width="17.60" height="2.00" fill="rgb(227,192,205)" />
<rect x="175.60" y="175.00" width="17.60" height="1.00" fill="rgb(248,245,248)" />
<rect x="175.60" y="176.00" width="17.60" height="2.00" fill="rgb(238,220,228)" />
<rect x="175.60" y="178.00" width="17.60" height="1.00" fill="rgb(249,247,250)" />
<rect x="175.60" y="179.00" width="17.60" height="2.00" fill="rgb(240,239,247)" />
<rect x="175.60" y="181.00" width="17.60" height="1.00" fill="rgb(243,232,237)" />
<rect x="175.60" y="182.00" width="17.60" height="3.00" fill="rgb(233,209,219)" />
<rect x="175.60" y="185.00" width="17.60" height="1.50" fill="rgb(243,242,248)" />
<rect x="175.60" y="186.50" width="17.60" height="2.00" fill="rgb(248,246,249)" />
<rect x="175.60" y="188.50" width="17.60" height="2.00" fill="rgb(248,244,247)" />
<rect x="175.60" y="190.50" width="17.60" height="1.50" fill="rgb(215,213,240)" />
<rect x="175.60" y="192.00" width="17.60" height="3.00" fill="rgb(224,222,241)" />
<rect x="175.60" y="195.00" width="17.60" height="2.00" fill="rgb(216,214,240)" />
<rect x="175.60" y="197.00" width="17.60" height="2.00" fill="rgb(201,199,239)" />
<rect x="175.60" y="199.00" width="17.60" height="3.00" fill="rgb(249,247,249)" />
<rect x="175.60" y="202.00" width="17.60" height="2.50" fill="rgb(235,233,244)" />
<rect x="175.60" y="204.50" width="17.60" height="1.00" fill="rgb(244,235,240)" />
<rect x="175.60" y="205.50" width="17.60" height="1.50" fill="rgb(234,232,243)" />
<rect x="175.60" y="207.00" width="17.60" height="2.00" fill="rgb(240,226,233)" />
<rect x="175.60" y="209.00" width="17.60" height="2.00" fill="rgb(248,246,249)" />
<rect x="175.60" y="211.00" width="17.60" height="1.00" fill="rgb(210,208,239)" />
<rect x="175.60" y="212.00" width="17.60" height="3.00" fill="rgb(249,249,251)" />
<rect x="175.60" y="215.00" width="17.60" height="2.00" fill="rgb(238,221,229)" />
<rect x="175.60" y="217.00" width="17.60" height="3.00" fill="rgb(241,227,234)" />
<rect x="175.60" y="220.00" width="17.60" height="1.00" fill="rgb(227,225,241)" />
<rect x="175.60" y="221.00" width="17.60" height="1.00" fill="rgb(207,205,239)" />
<rect x="175.60" y="222.00" width="17.60" height="2.00" fill="rgb(231,229,243)" />
<rect x="175.60" y="224.00" width="17.60" height="1.50" fill="rgb(208,206,239)" />
<rect x="175.60" y="225.50" width="17.60" height="1.50" fill="rgb(185,183,238)" />
<rect x="175.60" y="227.00" width="17.60" height="3.00" fill="rgb(225,223,241)" />
<rect x="175.60" y="230.00" width="17.60" height="1.50" fill="rgb(225,223,241)" />
<rect x="175.60" y="231.50" width="17.60" height="1.50" fill="rgb(200,198,239)" />
<rect x="175.60" y="233.00" width="17.60" height="1.00" fill="rgb(232,230,243)" />
<rect x="175.60" y="234.00" width="17.60" height="1.00" fill="rgb(241,227,234)" />
<rect x="175.60" y="235.00" width="17.60" height="1.50" fill="rgb(247,243,247)" />
<rect x="175.60" y="236.50" width="17.60" height="1.00" fill="rgb(240,239,246)" />
<rect x="175.60" y="237.50" width="17.60" height="1.00" fill="rgb(224,222,241)" />
<rect x="175.60" y="238.50" width="17.60" height="1.50" fill="rgb(228,226,242)" />
<rect x="175.60" y="240.00" width="17.60" height="2.00" fill="rgb(239,223,231)" />
<rect x="175.60" y="242.00" width="17.60" height="1.50" fill="rgb(247,241,245)" />
<rect x="175.60" y="243.50" width="17.60" height="2.50" fill="rgb(199,197,238)" />
<rect x="175.60" y="246.00" width="17.60" height="1.50" fill="rgb(223,221,240)" />
<rect x="175.60" y="247.50" width="17.60" height="1.50" fill="rgb(241,227,234)" />
<rect x="175.60" y="249.00" width="17.60" height="1.50" fill="rgb(222,220,240)" />
<rect x="175.60" y="250.50" width="17.60" height="2.00" fill="rgb(227,225,241)" />
<rect x="175.60" y="252.50" width="17.60" height="3.00" fill="rgb(239,224,231)" />
<rect x="175.60" y="255.50" width="17.60" height="2.00" fill="rgb(227,225,242)" />
<rect x="175.60" y="257.50" width="17.60" height="1.50" fill="rgb(246,245,249)" />
<rect x="175.60" y="259.00" width="17.60" height="1.00" fill="rgb(226,224,241)" />
<rect x="175.60" y="260.00" width="17.60" height="2.00" fill="rgb(233,231,243)" />
<rect x="175.60" y="262.00" width="17.60" height="3.00" fill="rgb(228,226,242)" />
<rect x="175.60" y="265.00" width="17.60" height="2.00" fill="rgb(234,232,244)" />
<rect x="175.60" y="267.00" width="17.60" height="3.00" fill="rgb(222,220,240)" />
<rect x="175.60" y="270.00" width="17.60" height="2.50" fill="rgb(244,243,248)" />
<rect x="175.60" y="272.50" width="17.60" height="2.00" fill="rgb(243,242,248)" />
<rect x="175.60" y="274.50" width="17.60" height="1.00" fill="rgb(243,233,238)" />
<rect x="175.60" y="275.50" width="17.60" height="2.00" fill="rgb(222,220,240)" />
<rect x="175.60" y="277.50" width="17.60" height="3.00" fill="rgb(235,233,244)" />
<rect x="175.60" y="280.50" width="17.60" height="3.00" fill="rgb(195,193,238)" />
<rect x="175.60" y="283.50" width="17.60" height="1.00" fill="rgb(238,237,245)" />
<rect x="175.60" y="284.50" width="17.60" height="2.50" fill="rgb(240,238,246)" />
<rect x="175.60" y="287.00" width="17.60" height="2.50" fill="rgb(250,250,252)" />
<rect x="175.60" y="289.50" width="17.60" height="1.00" fill="rgb(243,233,239)" />
<rect x="175.60" y="290.50" width="17.60" height="2.50" fill="rgb(247,247,250)" />
<rect x="175.60" y="293.00" width="17.60" height="1.00" fill="rgb(250,250,252)" />
<rect x="175.60" y="294.00" width="17.60" height="3.00" fill="rgb(246,246,250)" />
<rect x="175.60" y="297.00" width="17.60" height="2.00" fill="rgb(232,230,243)" />
<rect x="175.60" y="299.00" width="17.60" height="2.00" fill="rgb(219,217,240)" />
<rect x="175.60" y="301.00" width="17.60" height="3.00" fill="rgb(229,227,242)" />
<rect x="175.60" y="304.00" width="17.60" height="2.00" fill="rgb(238,220,228)" />
<rect x="175.60" y="306.00" width="17.60" height="3.00" fill="rgb(237,235,244)" />
<rect x="175.60" y="309.00" width="17.60" height="1.50" fill="rgb(230,228,242)" />
<rect x="175.60" y="310.50" width="17.60" height="1.00" fill="rgb(216,214,240)" />
<rect x="175.60" y="311.50" width="17.60" height="2.00" fill="rgb(235,233,244)" />
<rect x="175.60" y="313.50" width="17.60" height="2.00" fill="rgb(245,238,242)" />
<rect x="175.60" y="315.50" width="17.60" height="2.50" fill="rgb(203,201,239)" />
<rect x="175.60" y="318.00" width="17.60" height="2.00" fill="rgb(250,250,252)" />
<rect x="175.60" y="320.00" width="17.60" height="1.50" fill="rgb(229,227,242)" />
<rect x="175.60" y="321.50" width="17.60" height="1.50" fill="rgb(195,193,238)" />
<rect x="175.60" y="323.00" width="17.60" height="1.00" fill="rgb(226,224,241)" />
<rect x="175.60" y="324.00" width="17.60" height="3.00" fill="rgb(239,237,246)" />
<rect x="175.60" y="327.00" width="17.60" height="1.00" fill="rgb(245,244,249)" />
<rect x="175.60" y="328.00" width="17.60" height="2.50" fill="rgb(239,224,231)" />
<rect x="175.60" y="330.50" width="17.60" height="2.50" fill="rgb(243,232,238)" />
<rect x="175.60" y="333.00" width="17.60" height="2.00" fill="rgb(214,212,239)" />
<rect x="175.60" y="335.00" width="17.60" height="2.50" fill="rgb(231,229,242)" />
<rect x="175.60" y="337.50" width="17.60" height="1.00" fill="rgb(240,238,246)" />
<rect x="175.60" y="338.50" width="17.60" height="1.00" fill="rgb(239,224,231)" />
<rect x="175.60" y="339.50" width="17.60" height="0.80" fill="rgb(247,247,251)" />
<rect x="193.20" y="42.50" width="17.70" height="1.50" fill="rgb(225,223,241)" />
<rect x="193.20" y="44.00" width="17.70" height="3.00" fill="rgb(240,226,233)" />
<rect x="193.20" y="47.00" width="17.70" height="2.00" fill="rgb(237,219,228)" />
<rect x="193.20" y="49.00" width="17.70" height="1.00" fill="rgb(224,222,241)" />
<rect x="193.20" y="50.00" width="17.70" height="2.00" fill="rgb(215,213,240)" />
<rect x="193.20" y="52.00" width="17.70" height="1.50" fill="rgb(244,236,241)" />
<rect x="193.20" y="53.50" width="17.70" height="2.50" fill="rgb(235,233,244)" />
<rect x="193.20" y="56.00" width="17.70" height="2.50" fill="rgb(219,217,240)" />
<rect x="193.20" y="58.50" width="17.70" height="2.00" fill="rgb(234,232,243)" />
<rect x="193.20" y="60.50" width="17.70" height="3.00" fill="rgb(229,227,242)" />
<rect x="193.20" y="63.50" width="17.70" height="1.50" fill="rgb(244,234,239)" />
<rect x="193.20" y="65.00" width="17.70" height="1.00" fill="rgb(240,224,232)" />
<rect x="193.20" y="66.00" width="17.70" height="2.00" fill="rgb(239,238,246)" />
<rect x="193.20" y="68.00" width="17.70" height="2.00" fill="rgb(230,228,242)" />
<rect x="193.20" y="70.00" width="17.70" height="1.50" fill="rgb(244,235,240)" />
<rect x="193.20" y="71.50" width="17.70" height="3.00" fill="rgb(241,228,235)" />
<rect x="193.20" y="74.50" width="17.70" height="1.00" fill="rgb(219,217,240)" />
<rect x="193.20" y="75.50" width="17.70" height="2.00" fill="rgb(250,250,252)" />
<rect x="193.20" y="77.50" width="17.70" height="2.00" fill="rgb(232,207,217)" />
<rect x="193.20" y="79.50" width="17.70" height="3.00" fill="rgb(238,236,245)" />
<rect x="193.20" y="82.50" width="17.70" height="2.00" fill="rgb(238,221,229)" />
<rect x="193.20" y="84.50" width="17.70" height="2.00" fill="rgb(248,247,251)" />
<rect x="193.20" y="86.50" width="17.70" height="2.50" fill="rgb(229,227,242)" />
<rect x="193.20" y="89.00" width="17.70" height="2.00" fill="rgb(234,232,244)" />
<rect x="193.20" y="91.00" width="17.70" height="2.00" fill="rgb(244,243,249)" />
<rect x="193.20" y="93.00" width="17.70" height="1.00" fill="rgb(239,224,231)" />
<rect x="193.20" y="94.00" width="17.70" height="2.00" fill="rgb(235,233,244)" />
<rect x="193.20" y="96.00" width="17.70" height="2.00" fill="rgb(239,224,231)" />
<rect x="193.20" y="98.00" width="17.70" height="1.00" fill="rgb(227,225,241)" />
<rect x="193.20" y="99.00" width="17.70" height="2.50" fill="rgb(239,237,246)" />
<rect x="193.20" y="101.50" width="17.70" height="1.50" fill="rgb(250,250,252)" />
<rect x="193.20" y="103.00" width="17.70" height="1.00" fill="rgb(250,250,252)" />
<rect x="193.20" y="104.00" width="17.70" height="2.00" fill="rgb(210,208,239)" />
<rect x="193.20" y="106.00" width="17.70" height="3.00" fill="rgb(237,235,244)" />
<rect x="193.20" y="109.00" width="17.70" height="1.50" fill="rgb(225,223,241)" />
<rect x="193.20" y="110.50" width="17.70" height="2.50" fill="rgb(226,224,241)" />
<rect x="193.20" y="113.00" width="17.70" height="2.00" fill="rgb(236,234,244)" />
<rect x="193.20" y="115.00" width="17.70" height="2.50" fill="rgb(234,211,221)" />
<rect x="193.20" y="117.50" width="17.70" height="1.50" fill="rgb(231,229,243)" />
<rect x="193.20" y="119.00" width="17.70" height="2.50" fill="rgb(240,226,233)" />
<rect x="193.20" y="121.50" width="17.70" height="1.50" fill="rgb(249,248,250)" />
<rect x="193.20" y="123.00" width="17.70" height="1.50" fill="rgb(205,203,239)" />
<rect x="193.20" y="124.50" width="17.70" height="2.50" fill="rgb(248,248,251)" />
<rect x="193.20" y="127.00" width="17.70" height="1.50" fill="rgb(223,221,240)" />
<rect x="193.20" y="128.50" width="17.70" height="2.00" fill="rgb(241,239,247)" />
<rect x="193.20" y="130.50" width="17.70" height="2.00" fill="rgb(223,221,240)" />
<rect x="193.20" y="132.50" width="17.70" height="2.00" fill="rgb(238,236,245)" />
<rect x="193.20" y="134.50" width="17.70" height="1.00" fill="rgb(233,231,243)" />
<rect x="193.20" y="135.50" width="17.70" height="2.00" fill="rgb(241,228,234)" />
<rect x="193.20" y="137.50" width="17.70" height="3.00" fill="rgb(225,223,241)" />
<rect x="193.20" y="140.50" width="17.70" height="1.00" fill="rgb(224,222,241)" />
<rect x="193.20" y="141.50" width="17.70" height="1.00" fill="rgb(238,222,230)" />
<rect x="193.20" y="142.50" width="17.70" height="1.50" fill="rgb(241,228,235)" />
<rect x="193.20" y="144.00" width="17.70" height="2.00" fill="rgb(241,239,247)" />
<rect x="193.20" y="146.00" width="17.70" height="1.50" fill="rgb(240,225,232)" />
<rect x="193.20" y="147.50" width="17.70" height="1.00" fill="rgb(236,216,225)" />
<rect x="193.20" y="148.50" width="17.70" height="2.00" fill="rgb(207,205,239)" />
<rect x="193.20" y="150.50" width="17.70" height="1.00" fill="rgb(233,231,243)" />
<rect x="193.20" y="151.50" width="17.70" height="1.00" fill="rgb(226,224,241)" />
<rect x="193.20" y="152.50" width="17.70" height="2.50" fill="rgb(230,200,212)" />
<rect x="193.20" y="155.00" width="17.70" height="2.00" fill="rgb(250,250,252)" />
<rect x="193.20" y="157.00" width="17.70" height="2.00" fill="rgb(232,230,243)" />
<rect x="193.20" y="159.00" width="17.70" height="1.50" fill="rgb(210,208,239)" />
<rect x="193.20" y="160.50" width="17.70" height="3.00" fill="rgb(241,227,234)" />
<rect x="193.20" y="163.50" width="17.70" height="1.50" fill="rgb(241,227,234)" />
<rect x="193.20" y="165.00" width="17.70" height="1.50" fill="rgb(239,223,230)" />
<rect x="193.20" y="166.50" width="17.70" height="1.50" fill="rgb(233,231,243)" />
<rect x="193.20" y="168.00" width="17.70" height="1.50" fill="rgb(225,223,241)" />
<rect x="193.20" y="169.50" width="17.70" height="2.00" fill="rgb(207,205,239)" />
<rect x="193.20" y="171.50" width="17.70" height="1.00" fill="rgb(235,233,244)" />
<rect x="193.20" y="172.50" width="17.70" height="1.00" fill="rgb(250,250,252)" />
<rect x="193.20" y="173.50" width="17.70" height="2.50" fill="rgb(235,214,224)" />
<rect x="193.20" y="176.00" width="17.70" height="2.00" fill="rgb(247,247,250)" />
<rect x="193.20" y="178.00" width="17.70" height="1.50" fill="rgb(237,235,244)" />
<rect x="193.20" y="179.50" width="17.70" height="1.00" fill="rgb(236,216,225)" />
<rect x="193.20" y="180.50" width="17.70" height="1.50" fill="rgb(235,233,244)" />
<rect x="193.20" y="182.00" width="17.70" height="3.00" fill="rgb(230,228,242)" />
<rect x="193.20" y="185.00" width="17.70" height="2.00" fill="rgb(235,215,224)" />
<rect x="193.20" y="187.00" width="17.70" height="3.00" fill="rgb(210,208,239)" />
<rect x="193.20" y="190.00" width="17.70" height="1.00" fill="rgb(228,226,242)" />
<rect x="193.20" y="191.00" width="17.70" height="1.50" fill="rgb(246,245,249)" />
<rect x="193.20" y="192.50" width="17.70" height="2.00" fill="rgb(229,227,242)" />
<rect x="193.20" y="194.50" width="17.70" height="1.00" fill="rgb(223,221,240)" />
<rect x="193.20" y="195.50" width="17.70" height="1.50" fill="rgb(187,185,238)" />
<rect x="193.20" y="197.00" width="17.70" height="2.50" fill="rgb(244,243,248)" />
<rect x="193.20" y="199.50" width="17.70" height="2.50" fill="rgb(236,216,225)" />
<rect x="193.20" y="202.00" width="17.70" height="1.50" fill="rgb(242,230,236)" />
<rect x="193.20" y="203.50" width="17.70" height="1.50" fill="rgb(235,233,244)" />
<rect x="193.20" y="205.00" width="17.70" height="1.00" fill="rgb(232,230,243)" />
<rect x="193.20" y="206.00" width="17.70" height="1.00" fill="rgb(249,248,251)" />
<rect x="193.20" y="207.00" width="17.70" height="2.00" fill="rgb(244,243,249)" />
<rect x="193.20" y="209.00" width="17.70" height="3.00" fill="rgb(237,235,245)" />
<rect x="193.20" y="212.00" width="17.70" height="1.50" fill="rgb(242,229,235)" />
<rect x="193.20" y="213.50" width="17.70" height="2.00" fill="rgb(217,215,240)" />
<rect x="193.20" y="215.50" width="17.70" height="1.50" fill="rgb(221,219,240)" />
<rect x="193.20" y="217.00" width="17.70" height="3.00" fill="rgb(247,247,250)" />
<rect x="193.20" y="220.00" width="17.70" height="3.00" fill="rgb(241,240,247)" />
<rect x="193.20" y="223.00" width="17.70" height="1.00" fill="rgb(223,221,240)" />
<rect x="193.20" y="224.00" width="17.70" height="1.50" fill="rgb(213,211,239)" />
<rect x="193.20" y="225.50" width="17.70" height="3.00" fill="rgb(239,237,246)" />
<rect x="193.20" y="228.50" width="17.70" height="3.00" fill="rgb(231,229,242)" />
<rect x="193.20" y="231.50" width="17.70" height="1.00" fill="rgb(224,222,240)" />
<rect x="193.20" y="232.50" width="17.70" height="1.00" fill="rgb(250,250,252)" />
<rect x="193.20" y="233.50" width="17.70" height="1.50" fill="rgb(232,230,243)" />
<rect x="193.20" y="235.00" width="17.70" height="1.00" fill="rgb(235,233,244)" />
<rect x="193.20" y="236.00" width="17.70" height="1.50" fill="rgb(228,226,242)" />
<rect x="193.20" y="237.50" width="17.70" height="1.50" fill="rgb(231,229,243)" />
<rect x="193.20" y="239.00" width="17.70" height="1.50" fill="rgb(214,212,239)" />
<rect x="193.20" y="240.50" width="17.70" height="2.50" fill="rgb(238,221,229)" />
<rect x="193.20" y="243.00" width="17.70" height="1.50" fill="rgb(250,250,252)" />
<rect x="193.20" y="244.50" width="17.70" height="1.00" fill="rgb(238,221,229)" />
<rect x="193.20" y="245.50" width="17.70" height="1.50" fill="rgb(238,237,245)" />
<rect x="193.20" y="247.00" width="17.70" height="2.50" fill="rgb(217,215,240)" />
<rect x="193.20" y="249.50" width="17.70" height="1.00" fill="rgb(233,210,220)" />
<rect x="193.20" y="250.50" width="17.70" height="1.00" fill="rgb(228,226,242)" />
<rect x="193.20" y="251.50" width="17.70" height="1.00" fill="rgb(241,240,247)" />
<rect x="193.20" y="252.50" width="17.70" height="3.00" fill="rgb(247,246,250)" />
<rect x="193.20" y="255.50" width="17.70" height="1.00" fill="rgb(230,228,242)" />
<rect x="193.20" y="256.50" width="17.70" height="3.00" fill="rgb(237,218,227)" />
<rect x="193.20" y="259.50" width="17.70" height="1.50" fill="rgb(211,209,239)" />
<rect x="193.20" y="261.00" width="17.70" height="1.00" fill="rgb(234,232,243)" />
<rect x="193.20" y="262.00" width="17.70" height="2.00" fill="rgb(224,222,241)" />
<rect x="193.20" y="264.00" width="17.70" height="1.00" fill="rgb(238,220,228)" />
<rect x="193.20" y="265.00" width="17.70" height="2.00" fill="rgb(231,229,243)" />
<rect x="193.20" y="267.00" width="17.70" height="2.00" fill="rgb(239,237,246)" />
<rect x="193.20" y="269.00" width="17.70" height="1.00" fill="rgb(233,210,220)" />
<rect x="193.20" y="270.00" width="17.70" height="1.50" fill="rgb(227,225,241)" />
<rect x="193.20" y="271.50" width="17.70" height="3.00" fill="rgb(215,213,240)" />
<rect x="193.20" y="274.50" width="17.70" height="1.50" fill="rgb(239,238,246)" />
<rect x="193.20" y="276.00" width="17.70" height="1.00" fill="rgb(221,219,240)" />
<rect x="193.20" y="277.00" width="17.70" height="1.00" fill="rgb(249,249,251)" />
<rect x="193.20" y="278.00" width="17.70" height="1.50" fill="rgb(250,250,252)" />
<rect x="193.20" y="279.50" width="17.70" height="1.50" fill="rgb(220,218,240)" />
<rect x="193.20" y="281.00" width="17.70" height="2.00" fill="rgb(234,232,244)" />
<rect x="193.20" y="283.00" width="17.70" height="2.00" fill="rgb(241,240,247)" />
<rect x="193.20" y="285.00" width="17.70" height="1.00" fill="rgb(220,218,240)" />
<rect x="193.20" y="286.00" width="17.70" height="3.00" fill="rgb(224,222,241)" />
<rect x="193.20" y="289.00" width="17.70" height="2.00" fill="rgb(239,224,231)" />
<rect x="193.20" y="291.00" width="17.70" height="1.00" fill="rgb(217,215,240)" />
<rect x="193.20" y="292.00" width="17.70" height="2.00" fill="rgb(242,241,247)" />
<rect x="193.20" y="294.00" width="17.70" height="1.50" fill="rgb(209,207,239)" />
<rect x="193.20" y="295.50" width="17.70" height="1.00" fill="rgb(209,207,239)" />
<rect x="193.20" y="296.50" width="17.70" height="2.00" fill="rgb(215,213,240)" />
<rect x="193.20" y="298.50" width="17.70" height="2.00" fill="rgb(250,250,252)" />
<rect x="193.20" y="300.50" width="17.70" height="1.50" fill="rgb(242,230,236)" />
<rect x="193.20" y="302.00" width="17.70" height="1.00" fill="rgb(250,250,252)" />
<rect x="193.20" y="303.00" width="17.70" height="2.50" fill="rgb(239,237,246)" />
<rect x="193.20" y="305.50" width="17.70" height="1.00" fill="rgb(228,226,242)" />
<rect x="193.20" y="306.50" width="17.70" height="1.00" fill="rgb(206,204,239)" />
<rect x="193.20" y="307.50" width="17.70" height="2.50" fill="rgb(224,222,241)" />
<rect x="193.20" y="310.00" width="17.70" height="3.00" fill="rgb(232,230,243)" />
<rect x="193.20" y="313.00" width="17.70" height="1.50" fill="rgb(232,230,243)" />
<rect x="193.20" y="314.50" width="17.70" height="1.50" fill="rgb(250,250,252)" />
<rect x="193.20" y="316.00" width="17.70" height="1.00" fill="rgb(235,215,224)" />
<rect x="193.20" y="317.00" width="17.70" height="1.50" fill="rgb(245,245,249)" />
<rect x="193.20" y="318.50" width="17.70" height="1.00" fill="rgb(233,231,243)" />
<rect x="193.20" y="319.50" width="17.70" height="1.00" fill="rgb(227,225,242)" />
<rect x="193.20" y="320.50" width="17.70" height="1.00" fill="rgb(228,226,242)" />
<rect x="193.20" y="321.50" width="17.70" height="3.00" fill="rgb(227,225,241)" />
<rect x="193.20" y="324.50" width="17.70" height="2.00" fill="rgb(250,250,252)" />
<rect x="193.20" y="326.50" width="17.70" height="2.00" fill="rgb(223,221,240)" />
<rect x="193.20" y="328.50" width="17.70" height="2.50" fill="rgb(211,209,239)" />
<rect x="193.20" y="331.00" width="17.70" height="1.00" fill="rgb(186,185,238)" />
<rect x="193.20" y="332.00" width="17.70" height="3.00" fill="rgb(230,228,242)" />
<rect x="193.20" y="335.00" width="17.70" height="1.50" fill="rgb(240,226,233)" />
<rect x="193.20" y="336.50" width="17.70" height="1.50" fill="rgb(237,235,244)" />
<rect x="193.20" y="338.00" width="17.70" height="1.00" fill="rgb(241,239,247)" />
<rect x="193.20" y="339.00" width="17.70" height="1.00" fill="rgb(222,220,240)" />
<rect x="193.20" y="340.00" width="17.70" height="0.30" fill="rgb(214,212,239)" />
<rect x="213.40" y="42.50" width="17.60" height="1.50" fill="rgb(250,250,252)" />
<rect x="213.40" y="44.00" width="17.60" height="1.00" fill="rgb(238,222,230)" />
<rect x="213.40" y="45.00" width="17.60" height="1.00" fill="rgb(235,233,244)" />
<rect x="213.40" y="46.00" width="17.60" height="1.00" fill="rgb(238,221,229)" />
<rect x="213.40" y="47.00" width="17.60" height="1.50" fill="rgb(247,246,250)" />
<rect x="213.40" y="48.50" width="17.60" height="1.50" fill="rgb(235,215,224)" />
<rect x="213.40" y="50.00" width="17.60" height="2.00" fill="rgb(236,217,226)" />
<rect x="213.40" y="52.00" width="17.60" height="1.50" fill="rgb(216,214,240)" />
<rect x="213.40" y="53.50" width="17.60" height="1.50" fill="rgb(246,240,244)" />
<rect x="213.40" y="55.00" width="17.60" height="1.50" fill="rgb(219,217,240)" />
<rect x="213.40" y="56.50" width="17.60" height="1.50" fill="rgb(230,228,242)" />
<rect x="213.40" y="58.00" width="17.60" height="3.00" fill="rgb(242,230,236)" />
<rect x="213.40" y="61.00" width="17.60" height="1.00" fill="rgb(244,236,241)" />
<rect x="213.40" y="62.00" width="17.60" height="1.50" fill="rgb(248,246,249)" />
<rect x="213.40" y="63.50" width="17.60" height="3.00" fill="rgb(224,222,241)" />
<rect x="213.40" y="66.50" width="17.60" height="3.00" fill="rgb(236,217,226)" />
<rect x="213.40" y="69.50" width="17.60" height="1.00" fill="rgb(203,201,239)" />
<rect x="213.40" y="70.50" width="17.60" height="2.50" fill="rgb(250,250,252)" />
<rect x="213.40" y="73.00" width="17.60" height="1.00" fill="rgb(240,225,232)" />
<rect x="213.40" y="74.00" width="17.60" height="1.50" fill="rgb(220,218,240)" />
<rect x="213.40" y="75.50" width="17.60" height="1.00" fill="rgb(238,221,229)" />
<rect x="213.40" y="76.50" width="17.60" height="2.50" fill="rgb(233,208,218)" />
<rect x="213.40" y="79.00" width="17.60" height="2.50" fill="rgb(235,233,244)" />
<rect x="213.40" y="81.50" width="17.60" height="2.00" fill="rgb(237,218,227)" />
<rect x="213.40" y="83.50" width="17.60" height="1.00" fill="rgb(250,250,252)" />
<rect x="213.40" y="84.50" width="17.60" height="1.50" fill="rgb(237,219,228)" />
<rect x="213.40" y="86.00" width="17.60" height="3.00" fill="rgb(227,225,241)" />
<rect x="213.40" y="89.00" width="17.60" height="2.00" fill="rgb(237,220,228)" />
<rect x="213.40" y="91.00" width="17.60" height="3.00" fill="rgb(235,233,244)" />
<rect x="213.40" y="94.00" width="17.60" height="1.00" fill="rgb(234,232,243)" />
<rect x="213.40" y="95.00" width="17.60" height="1.00" fill="rgb(234,232,244)" />
<rect x="213.40" y="96.00" width="17.60" height="1.50" fill="rgb(219,217,240)" />
<rect x="213.40" y="97.50" width="17.60" height="1.50" fill="rgb(236,218,226)" />
<rect x="213.40" y="99.00" width="17.60" height="1.00" fill="rgb(244,243,249)" />
<rect x="213.40" y="100.00" width="17.60" height="2.00" fill="rgb(249,248,251)" />
<rect x="213.40" y="102.00" width="17.60" height="1.00" fill="rgb(250,250,252)" />
<rect x="213.40" y="103.00" width="17.60" height="1.00" fill="rgb(229,227,242)" />
<rect x="213.40" y="104.00" width="17.60" height="1.50" fill="rgb(245,245,249)" />
<rect x="213.40" y="105.50" width="17.60" height="2.00" fill="rgb(250,250,252)" />
<rect x="213.40" y="107.50" width="17.60" height="2.50" fill="rgb(246,239,243)" />
<rect x="213.40" y="110.00" width="17.60" height="1.50" fill="rgb(236,217,226)" />
<rect x="213.40" y="111.50" width="17.60" height="3.00" fill="rgb(240,226,233)" />
<rect x="213.40" y="114.50" width="17.60" height="3.00" fill="rgb(229,227,242)" />
<rect x="213.40" y="117.50" width="17.60" height="1.50" fill="rgb(200,198,239)" />
<rect x="213.40" y="119.00" width="17.60" height="1.50" fill="rgb(239,222,230)" />
<rect x="213.40" y="120.50" width="17.60" height="2.00" fill="rgb(243,232,238)" />
<rect x="213.40" y="122.50" width="17.60" height="1.50" fill="rgb(240,225,232)" />
<rect x="213.40" y="124.00" width="17.60" height="2.00" fill="rgb(239,237,246)" />
<rect x="213.40" y="126.00" width="17.60" height="1.50" fill="rgb(215,213,240)" />
<rect x="213.40" y="127.50" width="17.60" height="2.00" fill="rgb(236,234,244)" />
<rect x="213.40" y="129.50" width="17.60" height="3.00" fill="rgb(238,236,245)" />
<rect x="213.40" y="132.50" width="17.60" height="1.50" fill="rgb(243,242,248)" />
<rect x="213.40" y="134.00" width="17.60" height="2.00" fill="rgb(231,229,243)" />
<rect x="213.40" y="136.00" width="17.60" height="1.50" fill="rgb(230,228,242)" />
<rect x="213.40" y="137.50" width="17.60" height="1.00" fill="rgb(241,227,234)" />
<rect x="213.40" y="138.50" width="17.60" height="3.00" fill="rgb(233,231,243)" />
<rect x="213.40" y="141.50" width="17.60" height="2.00" fill="rgb(250,250,252)" />
<rect x="213.40" y="143.50" width="17.60" height="2.00" fill="rgb(250,250,252)" />
<rect x="213.40" y="145.50" width="17.60" height="2.50" fill="rgb(249,247,250)" />
<rect x="213.40" y="148.00" width="17.60" height="1.00" fill="rgb(226,224,241)" />
<rect x="213.40" y="149.00" width="17.60" height="1.00" fill="rgb(231,203,215)" />
<rect x="213.40" y="150.00" width="17.60" height="2.50" fill="rgb(241,228,234)" />
<rect x="213.40" y="152.50" width="17.60" height="2.50" fill="rgb(229,227,242)" />
<rect x="213.40" y="155.00" width="17.60" height="1.00" fill="rgb(250,250,252)" />
<rect x="213.40" y="156.00" width="17.60" height="3.00" fill="rgb(250,250,252)" />
<rect x="213.40" y="159.00" width="17.60" height="1.50" fill="rgb(249,249,251)" />
<rect x="213.40" y="160.50" width="17.60" height="2.00" fill="rgb(227,225,241)" />
<rect x="213.40" y="162.50" width="17.60" height="2.00" fill="rgb(214,212,239)" />
<rect x="213.40" y="164.50" width="17.60" height="2.50" fill="rgb(248,244,247)" />
<rect x="213.40" y="167.00" width="17.60" height="1.00" fill="rgb(239,238,246)" />
<rect x="213.40" y="168.00" width="17.60" height="1.00" fill="rgb(250,250,252)" />
<rect x="213.40" y="169.00" width="17.60" height="1.00" fill="rgb(232,230,243)" />
<rect x="213.40" y="170.00" width="17.60" height="2.00" fill="rgb(241,240,247)" />
<rect x="213.40" y="172.00" width="17.60" height="1.50" fill="rgb(250,250,252)" />
<rect x="213.40" y="173.50" width="17.60" height="2.00" fill="rgb(234,232,244)" />
<rect x="213.40" y="175.50" width="17.60" height="1.50" fill="rgb(221,219,240)" />
<rect x="213.40" y="177.00" width="17.60" height="2.50" fill="rgb(228,226,242)" />
<rect x="213.40" y="179.50" width="17.60" height="2.00" fill="rgb(241,228,235)" />
<rect x="213.40" y="181.50" width="17.60" height="3.00" fill="rgb(229,227,242)" />
<rect x="213.40" y="184.50" width="17.60" height="1.50" fill="rgb(229,227,242)" />
<rect x="213.40" y="186.00" width="17.60" height="1.00" fill="rgb(236,218,226)" />
<rect x="213.40" y="187.00" width="17.60" height="2.50" fill="rgb(225,223,241)" />
<rect x="213.40" y="189.50" width="17.60" height="3.00" fill="rgb(217,215,240)" />
<rect x="213.40" y="192.50" width="17.60" height="2.00" fill="rgb(241,228,235)" />
<rect x="213.40" y="194.50" width="17.60" height="2.50" fill="rgb(237,218,227)" />
<rect x="213.40" y="197.00" width="17.60" height="1.50" fill="rgb(247,243,246)" />
<rect x="213.40" y="198.50" width="17.60" height="1.00" fill="rgb(233,231,243)" />
<rect x="213.40" y="199.50" width="17.60" height="1.50" fill="rgb(250,250,252)" />
<rect x="213.40" y="201.00" width="17.60" height="1.50" fill="rgb(236,216,225)" />
<rect x="213.40" y="202.50" width="17.60" height="1.50" fill="rgb(250,250,252)" />
<rect x="213.40" y="204.00" width="17.60" height="3.00" fill="rgb(223,221,240)" />
<rect x="213.40" y="207.00" width="17.60" height="1.50" fill="rgb(249,249,252)" />
<rect x="213.40" y="208.50" width="17.60" height="2.50" fill="rgb(237,235,244)" />
<rect x="213.40" y="211.00" width="17.60" height="1.00" fill="rgb(231,229,242)" />
<rect x="213.40" y="212.00" width="17.60" height="1.00" fill="rgb(226,224,241)" />
<rect x="213.40" y="213.00" width="17.60" height="2.00" fill="rgb(236,234,244)" />
<rect x="213.40" y="215.00" width="17.60" height="1.50" fill="rgb(232,206,217)" />
<rect x="213.40" y="216.50" width="17.60" height="1.50" fill="rgb(233,209,219)" />
<rect x="213.40" y="218.00" width="17.60" height="2.00" fill="rgb(241,229,235)" />
<rect x="213.40" y="220.00" width="17.60" height="3.00" fill="rgb(227,225,241)" />
<rect x="213.40" y="223.00" width="17.60" height="2.00" fill="rgb(237,219,227)" />
<rect x="213.40" y="225.00" width="17.60" height="1.00" fill="rgb(160,159,236)" />
<rect x="213.40" y="226.00" width="17.60" height="1.00" fill="rgb(187,185,238)" />
<rect x="213.40" y="227.00" width="17.60" height="2.00" fill="rgb(85,85,230)" />
<rect x="213.40" y="229.00" width="17.60" height="3.00" fill="rgb(250,250,252)" />
<rect x="213.40" y="232.00" width="17.60" height="1.00" fill="rgb(250,250,252)" />
<rect x="213.40" y="233.00" width="17.60" height="2.50" fill="rgb(187,185,238)" />
<rect x="213.40" y="235.50" width="17.60" height="1.00" fill="rgb(213,211,239)" />
<rect x="213.40" y="236.50" width="17.60" height="1.00" fill="rgb(119,119,235)" />
<rect x="213.40" y="237.50" width="17.60" height="3.00" fill="rgb(97,97,233)" />
<rect x="213.40" y="240.50" width="17.60" height="1.50" fill="rgb(147,147,236)" />
<rect x="213.40" y="242.00" width="17.60" height="2.50" fill="rgb(225,223,241)" />
<rect x="213.40" y="244.50" width="17.60" height="1.50" fill="rgb(153,153,236)" />
<rect x="213.40" y="246.00" width="17.60" height="3.00" fill="rgb(80,80,229)" />
<rect x="213.40" y="249.00" width="17.60" height="2.00" fill="rgb(221,219,240)" />
<rect x="213.40" y="251.00" width="17.60" height="1.00" fill="rgb(240,225,232)" />
<rect x="213.40" y="252.00" width="17.60" height="1.00" fill="rgb(198,196,238)" />
<rect x="213.40" y="253.00" width="17.60" height="3.00" fill="rgb(99,99,234)" />
<rect x="213.40" y="256.00" width="17.60" height="1.50" fill="rgb(206,204,239)" />
<rect x="213.40" y="257.50" width="17.60" height="2.00" fill="rgb(100,100,234)" />
<rect x="213.40" y="259.50" width="17.60" height="1.00" fill="rgb(163,162,237)" />
<rect x="213.40" y="260.50" width="17.60" height="2.00" fill="rgb(250,250,252)" />
<rect x="213.40" y="262.50" width="17.60" height="2.00" fill="rgb(197,195,238)" />
<rect x="213.40" y="264.50" width="17.60" height="1.00" fill="rgb(194,192,238)" />
<rect x="213.40" y="265.50" width="17.60" height="1.50" fill="rgb(81,81,229)" />
<rect x="213.40" y="267.00" width="17.60" height="3.00" fill="rgb(243,234,239)" />
<rect x="213.40" y="270.00" width="17.60" height="2.00" fill="rgb(231,229,243)" />
<rect x="213.40" y="272.00" width="17.60" height="2.00" fill="rgb(181,180,237)" />
<rect x="213.40" y="274.00" width="17.60" height="3.00" fill="rgb(173,172,237)" />
<rect x="213.40" y="277.00" width="17.60" height="1.00" fill="rgb(203,201,239)" />
<rect x="213.40" y="278.00" width="17.60" height="2.50" fill="rgb(179,178,237)" />
<rect x="213.40" y="280.50" width="17.60" height="1.50" fill="rgb(95,95,233)" />
<rect x="213.40" y="282.00" width="17.60" height="3.00" fill="rgb(236,234,244)" />
<rect x="213.40" y="285.00" width="17.60" height="3.00" fill="rgb(133,133,235)" />
<rect x="213.40" y="288.00" width="17.60" height="2.00" fill="rgb(127,127,235)" />
<rect x="213.40" y="290.00" width="17.60" height="2.00" fill="rgb(138,138,236)" />
<rect x="213.40" y="292.00" width="17.60" height="1.50" fill="rgb(185,183,238)" />
<rect x="213.40" y="293.50" width="17.60" height="1.00" fill="rgb(193,191,238)" />
<rect x="213.40" y="294.50" width="17.60" height="2.00" fill="rgb(128,128,235)" />
<rect x="213.40" y="296.50" width="17.60" height="1.00" fill="rgb(147,147,236)" />
<rect x="213.40" y="297.50" width="17.60" height="1.00" fill="rgb(234,212,222)" />
<rect x="213.40" y="298.50" width="17.60" height="1.00" fill="rgb(217,215,240)" />
<rect x="213.40" y="299.50" width="17.60" height="0.50" fill="rgb(250,250,252)" />
<rect x="213.40" y="300.00" width="17.60" height="1.50" fill="rgb(241,228,234)" />
<rect x="213.40" y="301.50" width="17.60" height="2.50" fill="rgb(245,245,249)" />
<rect x="213.40" y="304.00" width="17.60" height="1.00" fill="rgb(233,231,243)" />
<rect x="213.40" y="305.00" width="17.60" height="3.00" fill="rgb(232,230,243)" />
<rect x="213.40" y="308.00" width="17.60" height="2.50" fill="rgb(232,230,243)" />
<rect x="213.40" y="310.50" width="17.60" height="1.50" fill="rgb(240,239,246)" />
<rect x="213.40" y="312.00" width="17.60" height="1.50" fill="rgb(227,225,241)" />
<rect x="213.40" y="313.50" width="17.60" height="1.50" fill="rgb(228,226,242)" />
<rect x="213.40" y="315.00" width="17.60" height="2.00" fill="rgb(243,242,248)" />
<rect x="213.40" y="317.00" width="17.60" height="1.00" fill="rgb(243,232,238)" />
<rect x="213.40" y="318.00" width="17.60" height="1.50" fill="rgb(232,230,243)" />
<rect x="213.40" y="319.50" width="17.60" height="2.00" fill="rgb(240,226,233)" />
<rect x="213.40" y="321.50" width="17.60" height="1.50" fill="rgb(250,250,252)" />
<rect x="213.40" y="323.00" width="17.60" height="1.00" fill="rgb(229,227,242)" />
<rect x="213.40" y="324.00" width="17.60" height="1.00" fill="rgb(247,247,250)" />
<rect x="213.40" y="325.00" width="17.60" height="2.00" fill="rgb(216,214,240)" />
<rect x="213.40" y="327.00" width="17.60" height="2.00" fill="rgb(247,243,247)" />
<rect x="213.40" y="329.00" width="17.60" height="2.00" fill="rgb(238,237,245)" />
<rect x="213.40" y="331.00" width="17.60" height="2.00" fill="rgb(228,226,242)" />
<rect x="213.40" y="333.00" width="17.60" height="2.50" fill="rgb(232,230,243)" />
<rect x="213.40" y="335.50" width="17.60" height="2.50" fill="rgb(233,231,243)" />
<rect x="213.40" y="338.00" width="17.60" height="1.50" fill="rgb(239,238,246)" />
<rect x="213.40" y="339.50" width="17.60" height="0.80" fill="rgb(240,238,246)" />
<rect x="231.00" y="42.50" width="17.70" height="2.00" fill="rgb(232,230,243)" />
<rect x="231.00" y="44.50" width="17.70" height="2.00" fill="rgb(233,231,243)" />
<rect x="231.00" y="46.50" width="17.70" height="0.50" fill="rgb(225,223,241)" />
<rect x="231.00" y="47.00" width="17.70" height="1.50" fill="rgb(227,225,241)" />
<rect x="231.00" y="48.50" width="17.70" height="1.50" fill="rgb(209,207,239)" />
<rect x="231.00" y="50.00" width="17.70" height="1.00" fill="rgb(241,240,247)" />
<rect x="231.00" y="51.00" width="17.70" height="3.00" fill="rgb(247,246,250)" />
<rect x="231.00" y="54.00" width="17.70" height="1.50" fill="rgb(232,230,243)" />
<rect x="231.00" y="55.50" width="17.70" height="2.00" fill="rgb(236,217,226)" />
<rect x="231.00" y="57.50" width="17.70" height="1.00" fill="rgb(229,227,242)" />
<rect x="231.00" y="58.50" width="17.70" height="1.00" fill="rgb(238,221,229)" />
<rect x="231.00" y="59.50" width="17.70" height="1.00" fill="rgb(239,222,230)" />
<rect x="231.00" y="60.50" width="17.70" height="3.00" fill="rgb(239,238,246)" />
<rect x="231.00" y="63.50" width="17.70" height="2.50" fill="rgb(235,214,223)" />
<rect x="231.00" y="66.00" width="17.70" height="3.00" fill="rgb(245,237,242)" />
<rect x="231.00" y="69.00" width="17.70" height="2.00" fill="rgb(215,213,240)" />
<rect x="231.00" y="71.00" width="17.70" height="1.00" fill="rgb(206,204,239)" />
<rect x="231.00" y="72.00" width="17.70" height="1.00" fill="rgb(235,233,244)" />
<rect x="231.00" y="73.00" width="17.70" height="2.50" fill="rgb(236,217,226)" />
<rect x="231.00" y="75.50" width="17.70" height="1.50" fill="rgb(240,226,233)" />
<rect x="231.00" y="77.00" width="17.70" height="2.00" fill="rgb(247,246,250)" />
<rect x="231.00" y="79.00" width="17.70" height="1.00" fill="rgb(250,250,252)" />
<rect x="231.00" y="80.00" width="17.70" height="2.50" fill="rgb(229,197,209)" />
<rect x="231.00" y="82.50" width="17.70" height="1.50" fill="rgb(197,195,238)" />
<rect x="231.00" y="84.00" width="17.70" height="2.00" fill="rgb(238,220,229)" />
<rect x="231.00" y="86.00" width="17.70" height="1.00" fill="rgb(246,241,245)" />
<rect x="231.00" y="87.00" width="17.70" height="2.50" fill="rgb(240,227,233)" />
<rect x="231.00" y="89.50" width="17.70" height="2.50" fill="rgb(241,227,234)" />
<rect x="231.00" y="92.00" width="17.70" height="2.00" fill="rgb(250,250,252)" />
<rect x="231.00" y="94.00" width="17.70" height="3.00" fill="rgb(238,236,245)" />
<rect x="231.00" y="97.00" width="17.70" height="1.00" fill="rgb(215,213,240)" />
<rect x="231.00" y="98.00" width="17.70" height="1.50" fill="rgb(231,204,215)" />
<rect x="231.00" y="99.50" width="17.70" height="1.00" fill="rgb(250,250,252)" />
<rect x="231.00" y="100.50" width="17.70" height="1.50" fill="rgb(212,210,239)" />
<rect x="231.00" y="102.00" width="17.70" height="1.50" fill="rgb(221,219,240)" />
<rect x="231.00" y="103.50" width="17.70" height="1.50" fill="rgb(242,229,235)" />
<rect x="231.00" y="105.00" width="17.70" height="3.00" fill="rgb(248,248,251)" />
<rect x="231.00" y="108.00" width="17.70" height="2.00" fill="rgb(228,226,242)" />
<rect x="231.00" y="110.00" width="17.70" height="1.50" fill="rgb(247,247,250)" />
<rect x="231.00" y="111.50" width="17.70" height="1.00" fill="rgb(236,234,244)" />
<rect x="231.00" y="112.50" width="17.70" height="2.00" fill="rgb(225,223,241)" />
<rect x="231.00" y="114.50" width="17.70" height="2.00" fill="rgb(233,209,219)" />
<rect x="231.00" y="116.50" width="17.70" height="1.50" fill="rgb(235,215,224)" />
<rect x="231.00" y="118.00" width="17.70" height="1.00" fill="rgb(211,209,239)" />
<rect x="231.00" y="119.00" width="17.70" height="1.50" fill="rgb(234,212,222)" />
<rect x="231.00" y="120.50" width="17.70" height="1.00" fill="rgb(250,250,252)" />
<rect x="231.00" y="121.50" width="17.70" height="1.00" fill="rgb(231,229,243)" />
<rect x="231.00" y="122.50" width="17.70" height="2.50" fill="rgb(238,222,230)" />
<rect x="231.00" y="125.00" width="17.70" height="3.00" fill="rgb(238,221,229)" />
<rect x="231.00" y="128.00" width="17.70" height="2.50" fill="rgb(220,218,240)" />
<rect x="231.00" y="130.50" width="17.70" height="1.50" fill="rgb(231,229,243)" />
<rect x="231.00" y="132.00" width="17.70" height="2.00" fill="rgb(208,206,239)" />
<rect x="231.00" y="134.00" width="17.70" height="2.00" fill="rgb(243,231,237)" />
<rect x="231.00" y="136.00" width="17.70" height="1.50" fill="rgb(243,233,238)" />
<rect x="231.00" y="137.50" width="17.70" height="2.00" fill="rgb(241,227,234)" />
<rect x="231.00" y="139.50" width="17.70" height="3.00" fill="rgb(223,221,240)" />
<rect x="231.00" y="142.50" width="17.70" height="3.00" fill="rgb(237,235,245)" />
<rect x="231.00" y="145.50" width="17.70" height="3.00" fill="rgb(221,219,240)" />
<rect x="231.00" y="148.50" width="17.70" height="1.50" fill="rgb(233,231,243)" />
<rect x="231.00" y="150.00" width="17.70" height="2.50" fill="rgb(224,222,241)" />
<rect x="231.00" y="152.50" width="17.70" height="2.50" fill="rgb(240,225,232)" />
<rect x="231.00" y="155.00" width="17.70" height="2.50" fill="rgb(245,244,249)" />
<rect x="231.00" y="157.50" width="17.70" height="3.00" fill="rgb(236,234,244)" />
<rect x="231.00" y="160.50" width="17.70" height="3.00" fill="rgb(240,224,232)" />
<rect x="231.00" y="163.50" width="17.70" height="2.50" fill="rgb(239,238,246)" />
<rect x="231.00" y="166.00" width="17.70" height="1.00" fill="rgb(239,238,246)" />
<rect x="231.00" y="167.00" width="17.70" height="1.50" fill="rgb(240,238,246)" />
<rect x="231.00" y="168.50" width="17.70" height="2.00" fill="rgb(245,244,249)" />
<rect x="231.00" y="170.50" width="17.70" height="1.50" fill="rgb(234,213,222)" />
<rect x="231.00" y="172.00" width="17.70" height="2.50" fill="rgb(239,238,246)" />
<rect x="231.00" y="174.50" width="17.70" height="2.00" fill="rgb(233,210,220)" />
<rect x="231.00" y="176.50" width="17.70" height="1.00" fill="rgb(247,246,250)" />
<rect x="231.00" y="177.50" width="17.70" height="3.00" fill="rgb(237,235,244)" />
<rect x="231.00" y="180.50" width="17.70" height="1.00" fill="rgb(234,212,222)" />
<rect x="231.00" y="181.50" width="17.70" height="2.00" fill="rgb(245,244,249)" />
<rect x="231.00" y="183.50" width="17.70" height="2.50" fill="rgb(233,231,243)" />
<rect x="231.00" y="186.00" width="17.70" height="2.00" fill="rgb(239,223,230)" />
<rect x="231.00" y="188.00" width="17.70" height="1.00" fill="rgb(241,227,234)" />
<rect x="231.00" y="189.00" width="17.70" height="2.00" fill="rgb(247,242,246)" />
<rect x="231.00" y="191.00" width="17.70" height="2.50" fill="rgb(239,223,231)" />
<rect x="231.00" y="193.50" width="17.70" height="1.50" fill="rgb(240,224,232)" />
<rect x="231.00" y="195.00" width="17.70" height="2.00" fill="rgb(242,229,235)" />
<rect x="231.00" y="197.00" width="17.70" height="1.00" fill="rgb(209,207,239)" />
<rect x="231.00" y="198.00" width="17.70" height="1.00" fill="rgb(210,208,239)" />
<rect x="231.00" y="199.00" width="17.70" height="1.00" fill="rgb(222,220,240)" />
<rect x="231.00" y="200.00" width="17.70" height="1.00" fill="rgb(215,213,240)" />
<rect x="231.00" y="201.00" width="17.70" height="2.50" fill="rgb(247,246,250)" />
<rect x="231.00" y="203.50" width="17.70" height="1.50" fill="rgb(247,247,251)" />
<rect x="231.00" y="205.00" width="17.70" height="2.00" fill="rgb(237,219,228)" />
<rect x="231.00" y="207.00" width="17.70" height="1.00" fill="rgb(239,222,230)" />
<rect x="231.00" y="208.00" width="17.70" height="1.50" fill="rgb(238,221,229)" />
<rect x="231.00" y="209.50" width="17.70" height="2.00" fill="rgb(229,227,242)" />
<rect x="231.00" y="211.50" width="17.70" height="1.50" fill="rgb(235,214,223)" />
<rect x="231.00" y="213.00" width="17.70" height="2.50" fill="rgb(236,234,244)" />
<rect x="231.00" y="215.50" width="17.70" height="3.00" fill="rgb(226,189,202)" />
<rect x="231.00" y="218.50" width="17.70" height="1.50" fill="rgb(242,229,235)" />
<rect x="231.00" y="220.00" width="17.70" height="1.50" fill="rgb(246,246,250)" />
<rect x="231.00" y="221.50" width="17.70" height="3.00" fill="rgb(246,246,250)" />
<rect x="231.00" y="224.50" width="17.70" height="1.00" fill="rgb(250,250,252)" />
<rect x="231.00" y="225.50" width="17.70" height="1.00" fill="rgb(241,240,247)" />
<rect x="231.00" y="226.50" width="17.70" height="1.00" fill="rgb(240,239,247)" />
<rect x="231.00" y="227.50" width="17.70" height="1.50" fill="rgb(225,223,241)" />
<rect x="231.00" y="229.00" width="17.70" height="1.50" fill="rgb(237,235,245)" />
<rect x="231.00" y="230.50" width="17.70" height="1.00" fill="rgb(241,239,247)" />
<rect x="231.00" y="231.50" width="17.70" height="1.00" fill="rgb(246,245,250)" />
<rect x="231.00" y="232.50" width="17.70" height="1.50" fill="rgb(221,219,240)" />
<rect x="231.00" y="234.00" width="17.70" height="2.50" fill="rgb(246,241,245)" />
<rect x="231.00" y="236.50" width="17.70" height="1.50" fill="rgb(239,222,230)" />
<rect x="231.00" y="238.00" width="17.70" height="2.50" fill="rgb(236,217,226)" />
<rect x="231.00" y="240.50" width="17.70" height="1.00" fill="rgb(235,233,244)" />
<rect x="231.00" y="241.50" width="17.70" height="2.00" fill="rgb(239,224,231)" />
<rect x="231.00" y="243.50" width="17.70" height="2.00" fill="rgb(243,232,238)" />
<rect x="231.00" y="245.50" width="17.70" height="3.00" fill="rgb(210,208,239)" />
<rect x="231.00" y="248.50" width="17.70" height="3.00" fill="rgb(250,250,252)" />
<rect x="231.00" y="251.50" width="17.70" height="1.00" fill="rgb(239,223,231)" />
<rect x="231.00" y="252.50" width="17.70" height="2.00" fill="rgb(249,249,252)" />
<rect x="231.00" y="254.50" width="17.70" height="2.50" fill="rgb(219,217,240)" />
<rect x="231.00" y="257.00" width="17.70" height="1.50" fill="rgb(239,224,231)" />
<rect x="231.00" y="258.50" width="17.70" height="2.00" fill="rgb(244,243,249)" />
<rect x="231.00" y="260.50" width="17.70" height="2.00" fill="rgb(242,231,236)" />
<rect x="231.00" y="262.50" width="17.70" height="3.00" fill="rgb(224,222,241)" />
<rect x="231.00" y="265.50" width="17.70" height="2.00" fill="rgb(236,218,226)" />
<rect x="231.00" y="267.50" width="17.70" height="2.00" fill="rgb(248,245,248)" />
<rect x="231.00" y="269.50" width="17.70" height="2.50" fill="rgb(214,212,239)" />
<rect x="231.00" y="272.00" width="17.70" height="2.00" fill="rgb(227,225,241)" />
<rect x="231.00" y="274.00" width="17.70" height="3.00" fill="rgb(243,242,248)" />
<rect x="231.00" y="277.00" width="17.70" height="1.00" fill="rgb(224,222,241)" />
<rect x="231.00" y="278.00" width="17.70" height="1.00" fill="rgb(221,219,240)" />
<rect x="231.00" y="279.00" width="17.70" height="1.50" fill="rgb(234,213,223)" />
<rect x="231.00" y="280.50" width="17.70" height="2.00" fill="rgb(250,250,252)" />
<rect x="231.00" y="282.50" width="17.70" height="1.00" fill="rgb(230,228,242)" />
<rect x="231.00" y="283.50" width="17.70" height="1.00" fill="rgb(239,223,231)" />
<rect x="231.00" y="284.50" width="17.70" height="3.00" fill="rgb(226,224,241)" />
<rect x="231.00" y="287.50" width="17.70" height="1.50" fill="rgb(230,228,242)" />
<rect x="231.00" y="289.00" width="17.70" height="1.00" fill="rgb(230,228,242)" />
<rect x="231.00" y="290.00" width="17.70" height="1.50" fill="rgb(242,231,236)" />
<rect x="231.00" y="291.50" width="17.70" height="1.50" fill="rgb(233,231,243)" />
<rect x="231.00" y="293.00" width="17.70" height="1.00" fill="rgb(243,232,237)" />
<rect x="231.00" y="294.00" width="17.70" height="2.00" fill="rgb(233,231,243)" />
<rect x="231.00" y="296.00" width="17.70" height="3.00" fill="rgb(247,242,246)" />
<rect x="231.00" y="299.00" width="17.70" height="2.50" fill="rgb(229,227,242)" />
<rect x="231.00" y="301.50" width="17.70" height="2.50" fill="rgb(247,243,246)" />
<rect x="231.00" y="304.00" width="17.70" height="3.00" fill="rgb(242,241,247)" />
<rect x="231.00" y="307.00" width="17.70" height="2.00" fill="rgb(240,225,232)" />
<rect x="231.00" y="309.00" width="17.70" height="1.00" fill="rgb(240,239,246)" />
<rect x="231.00" y="310.00" width="17.70" height="1.50" fill="rgb(231,229,243)" />
<rect x="231.00" y="311.50" width="17.70" height="3.00" fill="rgb(236,234,244)" />
<rect x="231.00" y="314.50" width="17.70" height="3.00" fill="rgb(224,222,241)" />
<rect x="231.00" y="317.50" width="17.70" height="2.00" fill="rgb(236,217,226)" />
<rect x="231.00" y="319.50" width="17.70" height="1.00" fill="rgb(242,240,247)" />
<rect x="231.00" y="320.50" width="17.70" height="1.50" fill="rgb(237,235,244)" />
<rect x="231.00" y="322.00" width="17.70" height="1.50" fill="rgb(236,216,225)" />
<rect x="231.00" y="323.50" width="17.70" height="1.00" fill="rgb(247,241,245)" />
<rect x="231.00" y="324.50" width="17.70" height="3.00" fill="rgb(227,225,242)" />
<rect x="231.00" y="327.50" width="17.70" height="2.00" fill="rgb(228,226,242)" />
<rect x="231.00" y="329.50" width="17.70" height="1.50" fill="rgb(241,227,233)" />
<rect x="231.00" y="331.00" width="17.70" height="1.50" fill="rgb(236,217,226)" />
<rect x="231.00" y="332.50" width="17.70" height="1.00" fill="rgb(236,234,244)" />
<rect x="231.00" y="333.50" width="17.70" height="1.50" fill="rgb(231,229,243)" />
<rect x="231.00" y="335.00" width="17.70" height="1.00" fill="rgb(222,220,240)" />
<rect x="231.00" y="336.00" width="17.70" height="1.50" fill="rgb(245,244,249)" />
<rect x="231.00" y="337.50" width="17.70" height="1.50" fill="rgb(250,250,252)" />
<rect x="231.00" y="339.00" width="17.70" height="1.00" fill="rgb(238,220,228)" />
<rect x="231.00" y="340.00" width="17.70" height="0.30" fill="rgb(240,225,232)" />
<rect x="251.50" y="42.50" width="16.70" height="1.00" fill="rgb(233,231,243)" />
<rect x="251.50" y="43.50" width="16.70" height="1.50" fill="rgb(227,225,241)" />
<rect x="251.50" y="45.00" width="16.70" height="1.50" fill="rgb(229,227,242)" />
<rect x="251.50" y="46.50" width="16.70" height="0.50" fill="rgb(232,230,243)" />
<rect x="251.50" y="47.00" width="16.70" height="2.00" fill="rgb(235,233,244)" />
<rect x="251.50" y="49.00" width="16.70" height="2.50" fill="rgb(250,250,252)" />
<rect x="251.50" y="51.50" width="16.70" height="1.00" fill="rgb(234,211,221)" />
<rect x="251.50" y="52.50" width="16.70" height="1.00" fill="rgb(250,250,252)" />
<rect x="251.50" y="53.50" width="16.70" height="2.00" fill="rgb(250,250,252)" />
<rect x="251.50" y="55.50" width="16.70" height="1.00" fill="rgb(220,218,240)" />
<rect x="251.50" y="56.50" width="16.70" height="1.00" fill="rgb(248,247,251)" />
<rect x="251.50" y="57.50" width="16.70" height="1.50" fill="rgb(247,247,251)" />
<rect x="251.50" y="59.00" width="16.70" height="2.00" fill="rgb(250,250,252)" />
<rect x="251.50" y="61.00" width="16.70" height="2.00" fill="rgb(205,203,239)" />
<rect x="251.50" y="63.00" width="16.70" height="1.50" fill="rgb(236,216,225)" />
<rect x="251.50" y="64.50" width="16.70" height="1.00" fill="rgb(235,214,223)" />
<rect x="251.50" y="65.50" width="16.70" height="1.00" fill="rgb(248,248,251)" />
<rect x="251.50" y="66.50" width="16.70" height="1.00" fill="rgb(224,222,241)" />
<rect x="251.50" y="67.50" width="16.70" height="1.50" fill="rgb(231,229,243)" />
<rect x="251.50" y="69.00" width="16.70" height="1.50" fill="rgb(204,202,239)" />
<rect x="251.50" y="70.50" width="16.70" height="2.00" fill="rgb(235,215,224)" />
<rect x="251.50" y="72.50" width="16.70" height="2.50" fill="rgb(224,222,241)" />
<rect x="251.50" y="75.00" width="16.70" height="3.00" fill="rgb(230,228,242)" />
<rect x="251.50" y="78.00" width="16.70" height="1.00" fill="rgb(209,207,239)" />
<rect x="251.50" y="79.00" width="16.70" height="1.50" fill="rgb(240,239,246)" />
<rect x="251.50" y="80.50" width="16.70" height="1.00" fill="rgb(241,228,234)" />
<rect x="251.50" y="81.50" width="16.70" height="2.00" fill="rgb(236,234,244)" />
<rect x="251.50" y="83.50" width="16.70" height="2.00" fill="rgb(238,221,229)" />
<rect x="251.50" y="85.50" width="16.70" height="3.00" fill="rgb(237,219,228)" />
<rect x="251.50" y="88.50" width="16.70" height="2.00" fill="rgb(223,221,240)" />
<rect x="251.50" y="90.50" width="16.70" height="1.00" fill="rgb(241,239,247)" />
<rect x="251.50" y="91.50" width="16.70" height="1.00" fill="rgb(230,228,242)" />
<rect x="251.50" y="92.50" width="16.70" height="1.50" fill="rgb(230,228,242)" />
<rect x="251.50" y="94.00" width="16.70" height="1.00" fill="rgb(243,233,238)" />
<rect x="251.50" y="95.00" width="16.70" height="1.00" fill="rgb(233,231,243)" />
<rect x="251.50" y="96.00" width="16.70" height="2.50" fill="rgb(242,230,236)" />
<rect x="251.50" y="98.50" width="16.70" height="1.50" fill="rgb(236,235,244)" />
<rect x="251.50" y="100.00" width="16.70" height="3.00" fill="rgb(241,228,234)" />
<rect x="251.50" y="103.00" width="16.70" height="1.50" fill="rgb(222,220,240)" />
<rect x="251.50" y="104.50" width="16.70" height="2.00" fill="rgb(225,223,241)" />
<rect x="251.50" y="106.50" width="16.70" height="2.00" fill="rgb(241,229,235)" />
<rect x="251.50" y="108.50" width="16.70" height="1.00" fill="rgb(244,243,248)" />
<rect x="251.50" y="109.50" width="16.70" height="2.50" fill="rgb(238,221,229)" />
<rect x="251.50" y="112.00" width="16.70" height="1.50" fill="rgb(231,229,243)" />
<rect x="251.50" y="113.50" width="16.70" height="1.00" fill="rgb(238,236,245)" />
<rect x="251.50" y="114.50" width="16.70" height="1.00" fill="rgb(243,242,248)" />
<rect x="251.50" y="115.50" width="16.70" height="3.00" fill="rgb(238,236,245)" />
<rect x="251.50" y="118.50" width="16.70" height="3.00" fill="rgb(239,223,230)" />
<rect x="251.50" y="121.50" width="16.70" height="1.00" fill="rgb(217,215,240)" />
<rect x="251.50" y="122.50" width="16.70" height="1.50" fill="rgb(216,214,240)" />
<rect x="251.50" y="124.00" width="16.70" height="1.00" fill="rgb(232,230,243)" />
<rect x="251.50" y="125.00" width="16.70" height="2.00" fill="rgb(241,228,234)" />
<rect x="251.50" y="127.00" width="16.70" height="1.50" fill="rgb(235,233,244)" />
<rect x="251.50" y="128.50" width="16.70" height="2.00" fill="rgb(246,245,250)" />
<rect x="251.50" y="130.50" width="16.70" height="2.00" fill="rgb(242,230,236)" />
<rect x="251.50" y="132.50" width="16.70" height="1.50" fill="rgb(238,222,230)" />
<rect x="251.50" y="134.00" width="16.70" height="2.50" fill="rgb(239,237,245)" />
<rect x="251.50" y="136.50" width="16.70" height="2.00" fill="rgb(239,238,246)" />
<rect x="251.50" y="138.50" width="16.70" height="1.00" fill="rgb(225,223,241)" />
<rect x="251.50" y="139.50" width="16.70" height="1.50" fill="rgb(238,220,228)" />
<rect x="251.50" y="141.00" width="16.70" height="2.00" fill="rgb(241,228,235)" />
<rect x="251.50" y="143.00" width="16.70" height="3.00" fill="rgb(213,211,239)" />
<rect x="251.50" y="146.00" width="16.70" height="1.50" fill="rgb(237,220,228)" />
<rect x="251.50" y="147.50" width="16.70" height="1.50" fill="rgb(207,205,239)" />
<rect x="251.50" y="149.00" width="16.70" height="1.50" fill="rgb(237,235,245)" />
<rect x="251.50" y="150.50" width="16.70" height="1.00" fill="rgb(239,238,246)" />
<rect x="251.50" y="151.50" width="16.70" height="1.50" fill="rgb(240,225,232)" />
<rect x="251.50" y="153.00" width="16.70" height="3.00" fill="rgb(226,224,241)" />
<rect x="251.50" y="156.00" width="16.70" height="3.00" fill="rgb(235,214,223)" />
<rect x="251.50" y="159.00" width="16.70" height="2.50" fill="rgb(241,239,247)" />
<rect x="251.50" y="161.50" width="16.70" height="2.00" fill="rgb(240,238,246)" />
<rect x="251.50" y="163.50" width="16.70" height="1.50" fill="rgb(249,249,251)" />
<rect x="251.50" y="165.00" width="16.70" height="1.50" fill="rgb(169,168,237)" />
<rect x="251.50" y="166.50" width="16.70" height="3.00" fill="rgb(230,228,242)" />
<rect x="251.50" y="169.50" width="16.70" height="2.00" fill="rgb(197,195,238)" />
<rect x="251.50" y="171.50" width="16.70" height="2.50" fill="rgb(180,179,237)" />
<rect x="251.50" y="174.00" width="16.70" height="2.00" fill="rgb(209,207,239)" />
<rect x="251.50" y="176.00" width="16.70" height="1.00" fill="rgb(221,219,240)" />
<rect x="251.50" y="177.00" width="16.70" height="2.50" fill="rgb(234,213,222)" />
<rect x="251.50" y="179.50" width="16.70" height="2.00" fill="rgb(210,208,239)" />
<rect x="251.50" y="181.50" width="16.70" height="1.50" fill="rgb(237,235,244)" />
<rect x="251.50" y="183.00" width="16.70" height="1.50" fill="rgb(195,193,238)" />
<rect x="251.50" y="184.50" width="16.70" height="2.00" fill="rgb(196,194,238)" />
<rect x="251.50" y="186.50" width="16.70" height="1.50" fill="rgb(207,205,239)" />
<rect x="251.50" y="188.00" width="16.70" height="2.50" fill="rgb(226,224,241)" />
<rect x="251.50" y="190.50" width="16.70" height="2.00" fill="rgb(192,190,238)" />
<rect x="251.50" y="192.50" width="16.70" height="1.50" fill="rgb(208,206,239)" />
<rect x="251.50" y="194.00" width="16.70" height="1.50" fill="rgb(195,193,238)" />
<rect x="251.50" y="195.50" width="16.70" height="1.50" fill="rgb(217,215,240)" />
<rect x="251.50" y="197.00" width="16.70" height="2.00" fill="rgb(194,192,238)" />
<rect x="251.50" y="199.00" width="16.70" height="1.00" fill="rgb(225,223,241)" />
<rect x="251.50" y="200.00" width="16.70" height="2.00" fill="rgb(192,190,238)" />
<rect x="251.50" y="202.00" width="16.70" height="2.50" fill="rgb(205,203,239)" />
<rect x="251.50" y="204.50" width="16.70" height="2.00" fill="rgb(199,197,238)" />
<rect x="251.50" y="206.50" width="16.70" height="2.00" fill="rgb(218,216,240)" />
<rect x="251.50" y="208.50" width="16.70" height="1.50" fill="rgb(231,229,243)" />
<rect x="251.50" y="210.00" width="16.70" height="1.50" fill="rgb(184,182,238)" />
<rect x="251.50" y="211.50" width="16.70" height="1.50" fill="rgb(139,139,236)" />
<rect x="251.50" y="213.00" width="16.70" height="2.00" fill="rgb(228,226,242)" />
<rect x="251.50" y="215.00" width="16.70" height="1.00" fill="rgb(216,214,240)" />
<rect x="251.50" y="216.00" width="16.70" height="1.00" fill="rgb(250,250,252)" />
<rect x="251.50" y="217.00" width="16.70" height="2.00" fill="rgb(234,213,223)" />
<rect x="251.50" y="219.00" width="16.70" height="1.50" fill="rgb(179,178,237)" />
<rect x="251.50" y="220.50" width="16.70" height="2.50" fill="rgb(204,202,239)" />
<rect x="251.50" y="223.00" width="16.70" height="1.50" fill="rgb(144,144,236)" />
<rect x="251.50" y="224.50" width="16.70" height="2.00" fill="rgb(191,189,238)" />
<rect x="251.50" y="226.50" width="16.70" height="3.00" fill="rgb(152,152,236)" />
<rect x="251.50" y="229.50" width="16.70" height="3.00" fill="rgb(199,197,238)" />
<rect x="251.50" y="232.50" width="16.70" height="1.50" fill="rgb(181,179,237)" />
<rect x="251.50" y="234.00" width="16.70" height="2.50" fill="rgb(227,225,241)" />
<rect x="251.50" y="236.50" width="16.70" height="1.00" fill="rgb(200,198,239)" />
<rect x="251.50" y="237.50" width="16.70" height="1.00" fill="rgb(238,236,245)" />
<rect x="251.50" y="238.50" width="16.70" height="1.50" fill="rgb(136,136,235)" />
<rect x="251.50" y="240.00" width="16.70" height="1.50" fill="rgb(174,172,237)" />
<rect x="251.50" y="241.50" width="16.70" height="2.50" fill="rgb(247,247,250)" />
<rect x="251.50" y="244.00" width="16.70" height="2.00" fill="rgb(184,182,238)" />
<rect x="251.50" y="246.00" width="16.70" height="1.50" fill="rgb(215,213,240)" />
<rect x="251.50" y="247.50" width="16.70" height="2.00" fill="rgb(204,202,239)" />
<rect x="251.50" y="249.50" width="16.70" height="1.50" fill="rgb(235,233,244)" />
<rect x="251.50" y="251.00" width="16.70" height="2.00" fill="rgb(160,160,236)" />
<rect x="251.50" y="253.00" width="16.70" height="1.00" fill="rgb(212,210,239)" />
<rect x="251.50" y="254.00" width="16.70" height="2.00" fill="rgb(242,241,248)" />
<rect x="251.50" y="256.00" width="16.70" height="2.00" fill="rgb(208,206,239)" />
<rect x="251.50" y="258.00" width="16.70" height="1.50" fill="rgb(213,211,239)" />
<rect x="251.50" y="259.50" width="16.70" height="2.00" fill="rgb(88,88,231)" />
<rect x="251.50" y="261.50" width="16.70" height="1.50" fill="rgb(200,198,239)" />
<rect x="251.50" y="263.00" width="16.70" height="3.00" fill="rgb(203,201,239)" />
<rect x="251.50" y="266.00" width="16.70" height="3.00" fill="rgb(184,182,238)" />
<rect x="251.50" y="269.00" width="16.70" height="2.00" fill="rgb(173,172,237)" />
<rect x="251.50" y="271.00" width="16.70" height="2.00" fill="rgb(193,191,238)" />
<rect x="251.50" y="273.00" width="16.70" height="1.00" fill="rgb(219,217,240)" />
<rect x="251.50" y="274.00" width="16.70" height="1.50" fill="rgb(199,197,238)" />
<rect x="251.50" y="275.50" width="16.70" height="1.50" fill="rgb(204,202,239)" />
<rect x="251.50" y="277.00" width="16.70" height="1.50" fill="rgb(154,154,236)" />
<rect x="251.50" y="278.50" width="16.70" height="1.50" fill="rgb(185,184,238)" />
<rect x="251.50" y="280.00" width="16.70" height="1.50" fill="rgb(218,216,240)" />
<rect x="251.50" y="281.50" width="16.70" height="1.00" fill="rgb(216,214,240)" />
<rect x="251.50" y="282.50" width="16.70" height="1.50" fill="rgb(155,155,236)" />
<rect x="251.50" y="284.00" width="16.70" height="2.00" fill="rgb(202,200,239)" />
<rect x="251.50" y="286.00" width="16.70" height="3.00" fill="rgb(225,223,241)" />
<rect x="251.50" y="289.00" width="16.70" height="1.50" fill="rgb(209,207,239)" />
<rect x="251.50" y="290.50" width="16.70" height="1.00" fill="rgb(212,210,239)" />
<rect x="251.50" y="291.50" width="16.70" height="1.50" fill="rgb(193,191,238)" />
<rect x="251.50" y="293.00" width="16.70" height="1.00" fill="rgb(242,229,235)" />
<rect x="251.50" y="294.00" width="16.70" height="1.50" fill="rgb(179,178,237)" />
<rect x="251.50" y="295.50" width="16.70" height="1.50" fill="rgb(232,230,243)" />
<rect x="251.50" y="297.00" width="16.70" height="1.50" fill="rgb(224,222,241)" />
<rect x="251.50" y="298.50" width="16.70" height="1.50" fill="rgb(226,224,241)" />
<rect x="251.50" y="300.00" width="16.70" height="1.00" fill="rgb(149,149,236)" />
<rect x="251.50" y="301.00" width="16.70" height="1.00" fill="rgb(196,194,238)" />
<rect x="251.50" y="302.00" width="16.70" height="2.00" fill="rgb(215,213,240)" />
<rect x="251.50" y="304.00" width="16.70" height="1.00" fill="rgb(150,150,236)" />
<rect x="251.50" y="305.00" width="16.70" height="3.00" fill="rgb(161,160,237)" />
<rect x="251.50" y="308.00" width="16.70" height="1.00" fill="rgb(208,206,239)" />
<rect x="251.50" y="309.00" width="16.70" height="2.00" fill="rgb(138,138,236)" />
<rect x="251.50" y="311.00" width="16.70" height="3.00" fill="rgb(161,160,237)" />
<rect x="251.50" y="314.00" width="16.70" height="1.50" fill="rgb(225,223,241)" />
<rect x="251.50" y="315.50" width="16.70" height="3.00" fill="rgb(209,207,239)" />
<rect x="251.50" y="318.50" width="16.70" height="1.50" fill="rgb(204,202,239)" />
<rect x="251.50" y="320.00" width="16.70" height="1.50" fill="rgb(242,241,248)" />
<rect x="251.50" y="321.50" width="16.70" height="0.50" fill="rgb(199,197,238)" />
<rect x="251.50" y="322.00" width="16.70" height="2.00" fill="rgb(225,223,241)" />
<rect x="251.50" y="324.00" width="16.70" height="2.00" fill="rgb(212,210,239)" />
<rect x="251.50" y="326.00" width="16.70" height="2.00" fill="rgb(230,228,242)" />
<rect x="251.50" y="328.00" width="16.70" height="1.50" fill="rgb(235,233,244)" />
<rect x="251.50" y="329.50" width="16.70" height="2.50" fill="rgb(247,243,247)" />
<rect x="251.50" y="332.00" width="16.70" height="1.50" fill="rgb(221,219,240)" />
<rect x="251.50" y="333.50" width="16.70" height="1.50" fill="rgb(199,197,238)" />
<rect x="251.50" y="335.00" width="16.70" height="1.50" fill="rgb(233,231,243)" />
<rect x="251.50" y="336.50" width="16.70" height="1.00" fill="rgb(234,211,221)" />
<rect x="251.50" y="337.50" width="16.70" height="2.00" fill="rgb(244,243,249)" />
<rect x="251.50" y="339.50" width="16.70" height="0.80" fill="rgb(232,230,243)" />
<rect x="268.20" y="42.50" width="16.80" height="1.00" fill="rgb(232,230,243)" />
<rect x="268.20" y="43.50" width="16.80" height="1.50" fill="rgb(226,224,241)" />
<rect x="268.20" y="45.00" width="16.80" height="1.50" fill="rgb(228,226,242)" />
<rect x="268.20" y="46.50" width="16.80" height="0.50" fill="rgb(227,225,241)" />
<rect x="268.20" y="47.00" width="16.80" height="2.50" fill="rgb(250,250,252)" />
<rect x="268.20" y="49.50" width="16.80" height="2.50" fill="rgb(237,218,227)" />
<rect x="268.20" y="52.00" width="16.80" height="1.00" fill="rgb(235,214,224)" />
<rect x="268.20" y="53.00" width="16.80" height="2.00" fill="rgb(232,205,216)" />
<rect x="268.20" y="55.00" width="16.80" height="2.50" fill="rgb(238,220,229)" />
<rect x="268.20" y="57.50" width="16.80" height="1.50" fill="rgb(237,219,228)" />
<rect x="268.20" y="59.00" width="16.80" height="1.50" fill="rgb(250,250,252)" />
<rect x="268.20" y="60.50" width="16.80" height="1.00" fill="rgb(234,232,243)" />
<rect x="268.20" y="61.50" width="16.80" height="1.50" fill="rgb(218,216,240)" />
<rect x="268.20" y="63.00" width="16.80" height="1.00" fill="rgb(245,244,249)" />
<rect x="268.20" y="64.00" width="16.80" height="1.50" fill="rgb(213,211,239)" />
<rect x="268.20" y="65.50" width="16.80" height="1.50" fill="rgb(235,233,244)" />
<rect x="268.20" y="67.00" width="16.80" height="1.50" fill="rgb(243,242,248)" />
<rect x="268.20" y="68.50" width="16.80" height="1.00" fill="rgb(223,221,240)" />
<rect x="268.20" y="69.50" width="16.80" height="1.50" fill="rgb(224,222,241)" />
<rect x="268.20" y="71.00" width="16.80" height="1.00" fill="rgb(235,214,224)" />
<rect x="268.20" y="72.00" width="16.80" height="1.00" fill="rgb(238,222,230)" />
<rect x="268.20" y="73.00" width="16.80" height="1.00" fill="rgb(236,217,226)" />
<rect x="268.20" y="74.00" width="16.80" height="1.50" fill="rgb(241,227,234)" />
<rect x="268.20" y="75.50" width="16.80" height="2.00" fill="rgb(235,214,223)" />
<rect x="268.20" y="77.50" width="16.80" height="2.50" fill="rgb(239,224,231)" />
<rect x="268.20" y="80.00" width="16.80" height="2.00" fill="rgb(232,230,243)" />
<rect x="268.20" y="82.00" width="16.80" height="3.00" fill="rgb(225,223,241)" />
<rect x="268.20" y="85.00" width="16.80" height="1.50" fill="rgb(241,229,235)" />
<rect x="268.20" y="86.50" width="16.80" height="2.00" fill="rgb(250,250,252)" />
<rect x="268.20" y="88.50" width="16.80" height="2.50" fill="rgb(234,212,222)" />
<rect x="268.20" y="91.00" width="16.80" height="2.50" fill="rgb(234,213,223)" />
<rect x="268.20" y="93.50" width="16.80" height="3.00" fill="rgb(238,236,245)" />
<rect x="268.20" y="96.50" width="16.80" height="3.00" fill="rgb(235,214,224)" />
<rect x="268.20" y="99.50" width="16.80" height="2.50" fill="rgb(250,249,251)" />
<rect x="268.20" y="102.00" width="16.80" height="1.00" fill="rgb(249,249,252)" />
<rect x="268.20" y="103.00" width="16.80" height="1.50" fill="rgb(229,227,242)" />
<rect x="268.20" y="104.50" width="16.80" height="1.00" fill="rgb(247,242,246)" />
<rect x="268.20" y="105.50" width="16.80" height="1.00" fill="rgb(233,209,219)" />
<rect x="268.20" y="106.50" width="16.80" height="3.00" fill="rgb(225,223,241)" />
<rect x="268.20" y="109.50" width="16.80" height="1.50" fill="rgb(245,244,249)" />
<rect x="268.20" y="111.00" width="16.80" height="2.50" fill="rgb(234,232,244)" />
<rect x="268.20" y="113.50" width="16.80" height="2.50" fill="rgb(242,240,247)" />
<rect x="268.20" y="116.00" width="16.80" height="2.00" fill="rgb(243,233,239)" />
<rect x="268.20" y="118.00" width="16.80" height="1.50" fill="rgb(238,221,229)" />
<rect x="268.20" y="119.50" width="16.80" height="1.50" fill="rgb(238,221,229)" />
<rect x="268.20" y="121.00" width="16.80" height="2.00" fill="rgb(239,223,230)" />
<rect x="268.20" y="123.00" width="16.80" height="1.50" fill="rgb(240,224,232)" />
<rect x="268.20" y="124.50" width="16.80" height="2.00" fill="rgb(241,228,234)" />
<rect x="268.20" y="126.50" width="16.80" height="2.00" fill="rgb(247,246,250)" />
<rect x="268.20" y="128.50" width="16.80" height="2.50" fill="rgb(245,244,249)" />
<rect x="268.20" y="131.00" width="16.80" height="1.00" fill="rgb(243,242,248)" />
<rect x="268.20" y="132.00" width="16.80" height="2.50" fill="rgb(229,197,209)" />
<rect x="268.20" y="134.50" width="16.80" height="1.50" fill="rgb(238,221,229)" />
<rect x="268.20" y="136.00" width="16.80" height="2.50" fill="rgb(235,214,223)" />
<rect x="268.20" y="138.50" width="16.80" height="2.00" fill="rgb(249,249,251)" />
<rect x="268.20" y="140.50" width="16.80" height="2.00" fill="rgb(243,242,248)" />
<rect x="268.20" y="142.50" width="16.80" height="1.50" fill="rgb(245,237,242)" />
<rect x="268.20" y="144.00" width="16.80" height="2.00" fill="rgb(236,216,225)" />
<rect x="268.20" y="146.00" width="16.80" height="1.50" fill="rgb(202,200,239)" />
<rect x="268.20" y="147.50" width="16.80" height="1.50" fill="rgb(243,233,238)" />
<rect x="268.20" y="149.00" width="16.80" height="1.00" fill="rgb(219,217,240)" />
<rect x="268.20" y="150.00" width="16.80" height="2.00" fill="rgb(230,228,242)" />
<rect x="268.20" y="152.00" width="16.80" height="3.00" fill="rgb(200,198,239)" />
<rect x="268.20" y="155.00" width="16.80" height="1.00" fill="rgb(222,220,240)" />
<rect x="268.20" y="156.00" width="16.80" height="1.00" fill="rgb(248,248,251)" />
<rect x="268.20" y="157.00" width="16.80" height="1.00" fill="rgb(234,211,221)" />
<rect x="268.20" y="158.00" width="16.80" height="1.50" fill="rgb(248,248,251)" />
<rect x="268.20" y="159.50" width="16.80" height="1.50" fill="rgb(250,250,252)" />
<rect x="268.20" y="161.00" width="16.80" height="1.00" fill="rgb(237,220,228)" />
<rect x="268.20" y="162.00" width="16.80" height="2.00" fill="rgb(245,244,249)" />
<rect x="268.20" y="164.00" width="16.80" height="2.00" fill="rgb(210,208,239)" />
<rect x="268.20" y="166.00" width="16.80" height="1.00" fill="rgb(227,225,241)" />
<rect x="268.20" y="167.00" width="16.80" height="2.50" fill="rgb(237,220,228)" />
<rect x="268.20" y="169.50" width="16.80" height="2.50" fill="rgb(239,222,230)" />
<rect x="268.20" y="172.00" width="16.80" height="1.50" fill="rgb(235,233,244)" />
<rect x="268.20" y="173.50" width="16.80" height="3.00" fill="rgb(243,233,238)" />
<rect x="268.20" y="176.50" width="16.80" height="2.50" fill="rgb(243,234,239)" />
<rect x="268.20" y="179.00" width="16.80" height="2.00" fill="rgb(230,228,242)" />
<rect x="268.20" y="181.00" width="16.80" height="1.00" fill="rgb(244,235,240)" />
<rect x="268.20" y="182.00" width="16.80" height="2.00" fill="rgb(240,225,232)" />
<rect x="268.20" y="184.00" width="16.80" height="2.00" fill="rgb(242,241,248)" />
<rect x="268.20" y="186.00" width="16.80" height="2.00" fill="rgb(224,222,241)" />
<rect x="268.20" y="188.00" width="16.80" height="1.50" fill="rgb(224,222,241)" />
<rect x="268.20" y="189.50" width="16.80" height="1.50" fill="rgb(240,227,233)" />
<rect x="268.20" y="191.00" width="16.80" height="1.50" fill="rgb(238,236,245)" />
<rect x="268.20" y="192.50" width="16.80" height="1.50" fill="rgb(240,225,232)" />
<rect x="268.20" y="194.00" width="16.80" height="1.50" fill="rgb(236,218,226)" />
<rect x="268.20" y="195.50" width="16.80" height="2.00" fill="rgb(215,213,240)" />
<rect x="268.20" y="197.50" width="16.80" height="1.00" fill="rgb(243,232,238)" />
<rect x="268.20" y="198.50" width="16.80" height="2.50" fill="rgb(244,235,240)" />
<rect x="268.20" y="201.00" width="16.80" height="1.50" fill="rgb(248,248,251)" />
<rect x="268.20" y="202.50" width="16.80" height="1.50" fill="rgb(235,215,224)" />
<rect x="268.20" y="204.00" width="16.80" height="2.00" fill="rgb(247,247,250)" />
<rect x="268.20" y="206.00" width="16.80" height="1.50" fill="rgb(242,229,235)" />
<rect x="268.20" y="207.50" width="16.80" height="1.50" fill="rgb(226,224,241)" />
<rect x="268.20" y="209.00" width="16.80" height="3.00" fill="rgb(242,231,237)" />
<rect x="268.20" y="212.00" width="16.80" height="1.00" fill="rgb(240,225,232)" />
<rect x="268.20" y="213.00" width="16.80" height="1.50" fill="rgb(250,250,252)" />
<rect x="268.20" y="214.50" width="16.80" height="2.00" fill="rgb(244,243,249)" />
<rect x="268.20" y="216.50" width="16.80" height="2.00" fill="rgb(230,228,242)" />
<rect x="268.20" y="218.50" width="16.80" height="1.50" fill="rgb(237,235,245)" />
<rect x="268.20" y="220.00" width="16.80" height="1.50" fill="rgb(240,238,246)" />
<rect x="268.20" y="221.50" width="16.80" height="1.50" fill="rgb(223,221,240)" />
<rect x="268.20" y="223.00" width="16.80" height="1.50" fill="rgb(245,244,249)" />
<rect x="268.20" y="224.50" width="16.80" height="1.50" fill="rgb(220,218,240)" />
<rect x="268.20" y="226.00" width="16.80" height="2.00" fill="rgb(246,241,245)" />
<rect x="268.20" y="228.00" width="16.80" height="2.00" fill="rgb(231,202,213)" />
<rect x="268.20" y="230.00" width="16.80" height="1.50" fill="rgb(246,239,243)" />
<rect x="268.20" y="231.50" width="16.80" height="1.00" fill="rgb(248,248,251)" />
<rect x="268.20" y="232.50" width="16.80" height="1.00" fill="rgb(249,249,252)" />
<rect x="268.20" y="233.50" width="16.80" height="1.50" fill="rgb(232,230,243)" />
<rect x="268.20" y="235.00" width="16.80" height="3.00" fill="rgb(214,212,239)" />
<rect x="268.20" y="238.00" width="16.80" height="1.00" fill="rgb(242,230,236)" />
<rect x="268.20" y="239.00" width="16.80" height="2.00" fill="rgb(191,189,238)" />
<rect x="268.20" y="241.00" width="16.80" height="1.00" fill="rgb(213,211,239)" />
<rect x="268.20" y="242.00" width="16.80" height="1.00" fill="rgb(213,211,239)" />
<rect x="268.20" y="243.00" width="16.80" height="3.00" fill="rgb(230,228,242)" />
<rect x="268.20" y="246.00" width="16.80" height="3.00" fill="rgb(242,229,235)" />
<rect x="268.20" y="249.00" width="16.80" height="2.50" fill="rgb(229,198,210)" />
<rect x="268.20" y="251.50" width="16.80" height="2.00" fill="rgb(210,208,239)" />
<rect x="268.20" y="253.50" width="16.80" height="1.50" fill="rgb(243,242,248)" />
<rect x="268.20" y="255.00" width="16.80" height="2.00" fill="rgb(238,236,245)" />
<rect x="268.20" y="257.00" width="16.80" height="1.00" fill="rgb(242,230,236)" />
<rect x="268.20" y="258.00" width="16.80" height="2.00" fill="rgb(250,250,252)" />
<rect x="268.20" y="260.00" width="16.80" height="2.50" fill="rgb(246,246,250)" />
<rect x="268.20" y="262.50" width="16.80" height="2.00" fill="rgb(228,226,242)" />
<rect x="268.20" y="264.50" width="16.80" height="1.50" fill="rgb(233,231,243)" />
<rect x="268.20" y="266.00" width="16.80" height="1.50" fill="rgb(233,209,219)" />
<rect x="268.20" y="267.50" width="16.80" height="1.50" fill="rgb(249,249,251)" />
<rect x="268.20" y="269.00" width="16.80" height="3.00" fill="rgb(200,198,239)" />
<rect x="268.20" y="272.00" width="16.80" height="1.00" fill="rgb(216,214,240)" />
<rect x="268.20" y="273.00" width="16.80" height="1.50" fill="rgb(195,193,238)" />
<rect x="268.20" y="274.50" width="16.80" height="1.00" fill="rgb(218,216,240)" />
<rect x="268.20" y="275.50" width="16.80" height="2.50" fill="rgb(232,230,243)" />
<rect x="268.20" y="278.00" width="16.80" height="1.00" fill="rgb(220,218,240)" />
<rect x="268.20" y="279.00" width="16.80" height="2.50" fill="rgb(247,243,246)" />
<rect x="268.20" y="281.50" width="16.80" height="2.00" fill="rgb(237,235,245)" />
<rect x="268.20" y="283.50" width="16.80" height="1.00" fill="rgb(239,222,230)" />
<rect x="268.20" y="284.50" width="16.80" height="2.50" fill="rgb(240,225,232)" />
<rect x="268.20" y="287.00" width="16.80" height="1.00" fill="rgb(232,230,243)" />
<rect x="268.20" y="288.00" width="16.80" height="2.50" fill="rgb(248,248,251)" />
<rect x="268.20" y="290.50" width="16.80" height="2.00" fill="rgb(232,230,243)" />
<rect x="268.20" y="292.50" width="16.80" height="2.50" fill="rgb(220,218,240)" />
<rect x="268.20" y="295.00" width="16.80" height="2.00" fill="rgb(232,230,243)" />
<rect x="268.20" y="297.00" width="16.80" height="1.00" fill="rgb(239,237,246)" />
<rect x="268.20" y="298.00" width="16.80" height="1.00" fill="rgb(234,232,243)" />
<rect x="268.20" y="299.00" width="16.80" height="1.00" fill="rgb(247,246,250)" />
<rect x="268.20" y="300.00" width="16.80" height="1.00" fill="rgb(237,219,228)" />
<rect x="268.20" y="301.00" width="16.80" height="3.00" fill="rgb(208,206,239)" />
<rect x="268.20" y="304.00" width="16.80" height="1.00" fill="rgb(235,233,244)" />
<rect x="268.20" y="305.00" width="16.80" height="2.50" fill="rgb(238,236,245)" />
<rect x="268.20" y="307.50" width="16.80" height="3.00" fill="rgb(198,196,238)" />
<rect x="268.20" y="310.50" width="16.80" height="1.50" fill="rgb(241,228,235)" />
<rect x="268.20" y="312.00" width="16.80" height="1.00" fill="rgb(239,223,231)" />
<rect x="268.20" y="313.00" width="16.80" height="1.50" fill="rgb(250,250,252)" />
<rect x="268.20" y="314.50" width="16.80" height="1.00" fill="rgb(245,244,249)" />
<rect x="268.20" y="315.50" width="16.80" height="1.50" fill="rgb(250,250,252)" />
<rect x="268.20" y="317.00" width="16.80" height="1.00" fill="rgb(231,229,242)" />
<rect x="268.20" y="318.00" width="16.80" height="1.00" fill="rgb(241,228,234)" />
<rect x="268.20" y="319.00" width="16.80" height="1.50" fill="rgb(248,244,247)" />
<rect x="268.20" y="320.50" width="16.80" height="1.50" fill="rgb(232,230,243)" />
<rect x="268.20" y="322.00" width="16.80" height="1.50" fill="rgb(220,218,240)" />
<rect x="268.20" y="323.50" width="16.80" height="2.00" fill="rgb(218,216,240)" />
<rect x="268.20" y="325.50" width="16.80" height="1.00" fill="rgb(233,210,220)" />
<rect x="268.20" y="326.50" width="16.80" height="2.50" fill="rgb(225,223,241)" />
<rect x="268.20" y="329.00" width="16.80" height="2.00" fill="rgb(222,220,240)" />
<rect x="268.20" y="331.00" width="16.80" height="1.00" fill="rgb(232,230,243)" />
<rect x="268.20" y="332.00" width="16.80" height="1.00" fill="rgb(241,227,234)" />
<rect x="268.20" y="333.00" width="16.80" height="1.00" fill="rgb(248,245,248)" />
<rect x="268.20" y="334.00" width="16.80" height="1.00" fill="rgb(242,231,237)" />
<rect x="268.20" y="335.00" width="16.80" height="1.00" fill="rgb(237,219,227)" />
<rect x="268.20" y="336.00" width="16.80" height="1.00" fill="rgb(225,223,241)" />
<rect x="268.20" y="337.00" width="16.80" height="1.00" fill="rgb(250,250,252)" />
<rect x="268.20" y="338.00" width="16.80" height="2.30" fill="rgb(228,226,242)" />
</g>
<rect x="56.30" y="234.80" width="36.30" height="3.80" fill="rgb(125,125,235)" />
<rect x="175.60" y="229.80" width="17.60" height="10.60" fill="rgb(96,96,233)" />
<rect x="213.40" y="115.20" width="17.60" height="1.80" fill="rgb(164,163,237)" />
<rect x="213.40" y="124.90" width="17.60" height="1.80" fill="rgb(178,177,237)" />
<rect x="213.40" y="154.50" width="17.60" height="1.80" fill="rgb(178,177,237)" />
<rect x="213.40" y="184.00" width="17.60" height="1.30" fill="rgb(138,138,236)" />
<rect x="213.40" y="197.30" width="17.60" height="1.50" fill="rgb(192,190,238)" />
<rect x="213.40" y="205.60" width="17.60" height="1.50" fill="rgb(192,190,238)" />
<rect x="213.40" y="219.00" width="17.60" height="1.50" fill="rgb(192,190,238)" />
<rect x="213.40" y="229.20" width="17.60" height="3.00" fill="rgb(125,125,235)" />
<rect x="213.40" y="192.30" width="17.60" height="1.40" fill="rgb(233,187,185)" />
<rect x="213.40" y="133.00" width="17.60" height="18.00" fill="rgb(249,248,251)" />
<rect x="73.90" y="42.50" width="1.00" height="297.80" fill="rgba(255,255,255,0.3)" />
<rect x="113.40" y="42.50" width="1.00" height="297.80" fill="rgba(255,255,255,0.3)" />
<rect x="153.40" y="42.50" width="1.00" height="297.80" fill="rgba(255,255,255,0.3)" />
<rect x="192.70" y="42.50" width="1.00" height="297.80" fill="rgba(255,255,255,0.3)" />
<rect x="230.50" y="42.50" width="1.00" height="297.80" fill="rgba(255,255,255,0.3)" />
<rect x="267.70" y="42.50" width="1.00" height="297.80" fill="rgba(255,255,255,0.3)" />
<rect x="54.30" y="40.30" width="233.20" height="2.30" fill="#000" />
<rect x="54.30" y="340.30" width="233.20" height="2.60" fill="#000" />
<rect x="54.20" y="40.30" width="2.10" height="302.60" fill="#000" />
<rect x="92.60" y="40.30" width="2.40" height="302.60" fill="#000" />
<rect x="133.20" y="40.30" width="2.50" height="302.60" fill="#000" />
<rect x="172.80" y="40.30" width="2.80" height="302.60" fill="#000" />
<rect x="210.90" y="40.30" width="2.50" height="302.60" fill="#000" />
<rect x="248.70" y="40.30" width="2.80" height="302.60" fill="#000" />
<rect x="285.00" y="40.30" width="2.50" height="302.60" fill="#000" />
<rect x="34.30" y="40.30" width="13.90" height="301.20" fill="#fff" />
<rect x="34.30" y="49.00" width="13.50" height="7.30" fill="#bdbdbd" />
<rect x="34.30" y="66.40" width="13.50" height="8.90" fill="#808080" />
<rect x="34.30" y="166.30" width="13.50" height="11.40" fill="#bdbdbd" />
<rect x="34.30" y="184.10" width="13.50" height="12.80" fill="#808080" />
<rect x="34.30" y="208.80" width="13.50" height="13.20" fill="#808080" />
<rect x="34.30" y="237.20" width="13.50" height="12.80" fill="#808080" />
<rect x="34.30" y="267.20" width="13.50" height="6.60" fill="#c0c0c0" />
<rect x="34.30" y="284.00" width="13.50" height="9.70" fill="#c0c0c0" />
<rect x="34.30" y="305.70" width="13.50" height="17.30" fill="#000" />
<rect x="34.30" y="331.00" width="13.50" height="10.50" fill="#bdbdbd" />
<defs><pattern id="hat" width="2.6" height="2.6" patternUnits="userSpaceOnUse"><rect width="2.6" height="2.6" fill="#ececec"/><path d="M0,0 L2.6,2.6 M2.6,0 L0,2.6" stroke="#777" stroke-width="0.6"/></pattern><pattern id="hatd" width="2.4" height="2.4" patternUnits="userSpaceOnUse"><rect width="2.4" height="2.4" fill="#b8b8b8"/><path d="M0,0 L2.4,2.4 M2.4,0 L0,2.4" stroke="#2a2a2a" stroke-width="0.8"/></pattern><pattern id="hatm" width="2.4" height="2.4" patternUnits="userSpaceOnUse"><rect width="2.4" height="2.4" fill="#d4d4d4"/><path d="M0,0 L2.4,2.4 M2.4,0 L0,2.4" stroke="#808080" stroke-width="0.6"/></pattern><pattern id="hatk" width="2.4" height="2.4" patternUnits="userSpaceOnUse"><rect width="2.4" height="2.4" fill="#9a9a9a"/><path d="M0,0 L2.4,2.4 M2.4,0 L0,2.4" stroke="#4a4a4a" stroke-width="0.6"/></pattern></defs>
<path d="M34.3,90.6 L47.8,90.6 L45.1,99 L36.8,99 Z" fill="url(#hatd)"/>
<path d="M36.8,101 Q34.3,101.5 34.3,104.8 L34.3,155 L47.8,155 L47.8,104.8 Q47.8,101.5 45.1,101 Z" fill="url(#hat)"/>
<path d="M36.8,101 Q34.3,101.5 34.3,104.8 L34.3,114.5 L47.8,114.5 L47.8,104.8 Q47.8,101.5 45.1,101 Z" fill="url(#hatd)"/>
<rect x="36.60" y="98.80" width="8.70" height="2.40" fill="#111" />
<path d="M34.3,40.3 L34.3,90.6 L36.8,99 M36.8,101 Q34.3,101.5 34.3,104.8 L34.3,341.5" fill="none" stroke="#8a8a8a" stroke-width="0.9"/>
<path d="M47.8,40.3 L47.8,90.6 L45.1,99 M45.1,101 Q47.8,101.5 47.8,104.8 L47.8,341.5" fill="none" stroke="#8a8a8a" stroke-width="0.9"/>
<path d="M33.699999999999996,90.9 L36.6,99.2 L36.6,100.8 Q33.699999999999996,101.2 33.699999999999996,104.4 Z" fill="#fff"/>
<path d="M48.4,90.9 L45.3,99.2 L45.3,100.8 Q48.4,101.2 48.4,104.4 Z" fill="#fff"/>
<text x="329.20" y="74.20" font-size="10.2" font-weight="bold" font-style="normal" fill="#111" stroke="#111" stroke-width="0.38" text-anchor="start" >Log2 ratio</text>
<rect x="343.45" y="86.05" width="7.30" height="12.85" fill="#dc2a1a" stroke="#111" stroke-width="1.5"/>
<rect x="343.45" y="98.90" width="7.30" height="13.00" fill="#f4d2d2" stroke="#111" stroke-width="1.5"/>
<rect x="343.45" y="111.90" width="7.30" height="13.50" fill="#ffffff" stroke="#111" stroke-width="1.5"/>
<rect x="343.45" y="125.40" width="7.30" height="13.00" fill="#9c9cf2" stroke="#111" stroke-width="1.5"/>
<rect x="343.45" y="138.40" width="7.30" height="13.05" fill="#1e2a96" stroke="#111" stroke-width="1.5"/>
<text x="355.20" y="98.87" font-size="9.6" font-weight="normal" font-style="normal" fill="#222" stroke="#222" stroke-width="0.3" text-anchor="start" >+1</text>
<text x="358.60" y="122.97" font-size="9.6" font-weight="normal" font-style="normal" fill="#222" stroke="#222" stroke-width="0.3" text-anchor="start" >0</text>
<text x="356.40" y="151.27" font-size="9.6" font-weight="normal" font-style="normal" fill="#222" stroke="#222" stroke-width="0.3" text-anchor="start" >-1</text>
<line x1="291.6" y1="234.2" x2="302" y2="226.9" stroke="#c4291c" stroke-width="3.4"/>
<line x1="310.8" y1="219.5" x2="320.7" y2="212.1" stroke="#c4291c" stroke-width="3.4"/>
<line x1="330" y1="204" x2="339.9" y2="196.6" stroke="#c4291c" stroke-width="3.4"/>
<line x1="291.6" y1="240.9" x2="300.5" y2="249.7" stroke="#c4291c" stroke-width="3.4"/>
<line x1="308.9" y1="258.1" x2="318.6" y2="267.4" stroke="#c4291c" stroke-width="3.4"/>
<line x1="326.3" y1="275.5" x2="335.9" y2="284.4" stroke="#c4291c" stroke-width="3.4"/>
<text x="346.60" y="205.27" font-size="10.3" font-weight="bold" font-style="italic" fill="#111" stroke="#111" stroke-width="0.38" text-anchor="start" >GKAP1</text>
<text x="346.60" y="217.17" font-size="10.3" font-weight="bold" font-style="italic" fill="#111" stroke="#111" stroke-width="0.38" text-anchor="start" >KIF27</text>
<text x="346.60" y="229.17" font-size="10.3" font-weight="bold" font-style="italic" fill="#111" stroke="#111" stroke-width="0.38" text-anchor="start" >HNRNPK</text>
<text x="346.60" y="241.77" font-size="10.3" font-weight="bold" font-style="italic" fill="#111" stroke="#111" stroke-width="0.38" text-anchor="start" >RMI1</text>
<text x="346.60" y="253.97" font-size="10.3" font-weight="bold" font-style="italic" fill="#111" stroke="#111" stroke-width="0.38" text-anchor="start" >SLC28A3</text>
<text x="346.60" y="267.47" font-size="10.3" font-weight="bold" font-style="italic" fill="#111" stroke="#111" stroke-width="0.38" text-anchor="start" >NTRK2</text>
<text x="346.60" y="279.87" font-size="10.3" font-weight="bold" font-style="italic" fill="#111" stroke="#111" stroke-width="0.38" text-anchor="start" >miRNA 7-1</text>
<text x="1.00" y="379.97" font-size="17" font-weight="bold" font-style="normal" fill="#000" stroke="#000" stroke-width="0.38" text-anchor="start" >B</text>
<text x="41.00" y="377.22" font-size="10.5" font-weight="normal" font-style="normal" fill="#222" stroke="#222" stroke-width="0.38" text-anchor="start" >Chr 13</text>
<rect x="94.30" y="384.80" width="31.00" height="4.50" fill="url(#shd)" />
<rect x="94.80" y="381.50" width="30.00" height="3.30" fill="#000" />
<text x="109.50" y="377.13" font-size="10.1" font-weight="normal" font-style="normal" fill="#222" stroke="#222" stroke-width="0.38" text-anchor="middle" >#10</text>
<text x="97.10" y="402.06" font-size="10" font-weight="normal" font-style="normal" fill="#222" stroke="#222" stroke-width="0.38" text-anchor="start" >D</text>
<text x="116.20" y="402.06" font-size="10" font-weight="normal" font-style="normal" fill="#222" stroke="#222" stroke-width="0.38" text-anchor="start" >R</text>
<rect x="134.10" y="384.80" width="31.00" height="4.50" fill="url(#shd)" />
<rect x="134.60" y="381.50" width="30.00" height="3.30" fill="#000" />
<text x="150.00" y="377.13" font-size="10.1" font-weight="normal" font-style="normal" fill="#222" stroke="#222" stroke-width="0.38" text-anchor="middle" >#11</text>
<text x="138.60" y="402.06" font-size="10" font-weight="normal" font-style="normal" fill="#222" stroke="#222" stroke-width="0.38" text-anchor="start" >D</text>
<text x="155.90" y="402.06" font-size="10" font-weight="normal" font-style="normal" fill="#222" stroke="#222" stroke-width="0.38" text-anchor="start" >R</text>
<rect x="171.00" y="384.80" width="31.00" height="4.50" fill="url(#shd)" />
<rect x="171.50" y="381.50" width="30.00" height="3.30" fill="#000" />
<text x="186.50" y="377.13" font-size="10.1" font-weight="normal" font-style="normal" fill="#222" stroke="#222" stroke-width="0.38" text-anchor="middle" >#24</text>
<text x="174.90" y="402.06" font-size="10" font-weight="normal" font-style="normal" fill="#222" stroke="#222" stroke-width="0.38" text-anchor="start" >D</text>
<text x="191.90" y="402.06" font-size="10" font-weight="normal" font-style="normal" fill="#222" stroke="#222" stroke-width="0.38" text-anchor="start" >R</text>
<rect x="208.90" y="384.80" width="31.00" height="4.50" fill="url(#shd)" />
<rect x="209.40" y="381.50" width="30.00" height="3.30" fill="#000" />
<text x="225.10" y="377.13" font-size="10.1" font-weight="normal" font-style="normal" fill="#222" stroke="#222" stroke-width="0.38" text-anchor="middle" >#23</text>
<text x="214.00" y="402.06" font-size="10" font-weight="normal" font-style="normal" fill="#222" stroke="#222" stroke-width="0.38" text-anchor="start" >D</text>
<text x="231.90" y="402.06" font-size="10" font-weight="normal" font-style="normal" fill="#222" stroke="#222" stroke-width="0.38" text-anchor="start" >R</text>
<rect x="248.10" y="384.80" width="31.00" height="4.50" fill="url(#shd)" />
<rect x="248.60" y="381.50" width="30.00" height="3.30" fill="#000" />
<text x="263.50" y="377.13" font-size="10.1" font-weight="normal" font-style="normal" fill="#222" stroke="#222" stroke-width="0.38" text-anchor="middle" >#15</text>
<text x="252.30" y="402.06" font-size="10" font-weight="normal" font-style="normal" fill="#222" stroke="#222" stroke-width="0.38" text-anchor="start" >D</text>
<text x="269.90" y="402.06" font-size="10" font-weight="normal" font-style="normal" fill="#222" stroke="#222" stroke-width="0.38" text-anchor="start" >R</text>
<rect x="285.70" y="384.80" width="31.00" height="4.50" fill="url(#shd)" />
<rect x="286.20" y="381.50" width="30.00" height="3.30" fill="#000" />
<text x="300.80" y="377.13" font-size="10.1" font-weight="normal" font-style="normal" fill="#222" stroke="#222" stroke-width="0.38" text-anchor="middle" >#16</text>
<text x="293.20" y="402.06" font-size="10" font-weight="normal" font-style="normal" fill="#222" stroke="#222" stroke-width="0.38" text-anchor="start" >D</text>
<text x="310.50" y="402.06" font-size="10" font-weight="normal" font-style="normal" fill="#222" stroke="#222" stroke-width="0.38" text-anchor="start" >R</text>
<rect x="323.20" y="384.80" width="31.00" height="4.50" fill="url(#shd)" />
<rect x="323.70" y="381.50" width="30.00" height="3.30" fill="#000" />
<text x="338.80" y="377.13" font-size="10.1" font-weight="normal" font-style="normal" fill="#222" stroke="#222" stroke-width="0.38" text-anchor="middle" >#20</text>
<text x="328.00" y="402.06" font-size="10" font-weight="normal" font-style="normal" fill="#222" stroke="#222" stroke-width="0.38" text-anchor="start" >D</text>
<text x="346.70" y="402.06" font-size="10" font-weight="normal" font-style="normal" fill="#222" stroke="#222" stroke-width="0.38" text-anchor="start" >R</text>
<rect x="364.10" y="384.80" width="31.00" height="4.50" fill="url(#shd)" />
<rect x="364.60" y="381.50" width="30.00" height="3.30" fill="#000" />
<text x="380.50" y="377.13" font-size="10.1" font-weight="normal" font-style="normal" fill="#222" stroke="#222" stroke-width="0.38" text-anchor="middle" >#45</text>
<text x="369.20" y="402.06" font-size="10" font-weight="normal" font-style="normal" fill="#222" stroke="#222" stroke-width="0.38" text-anchor="start" >D</text>
<text x="386.70" y="402.06" font-size="10" font-weight="normal" font-style="normal" fill="#222" stroke="#222" stroke-width="0.38" text-anchor="start" >R</text>
<rect x="403.25" y="384.80" width="31.00" height="4.50" fill="url(#shd)" />
<rect x="403.75" y="381.50" width="30.00" height="3.30" fill="#000" />
<text x="420.00" y="377.13" font-size="10.1" font-weight="normal" font-style="normal" fill="#222" stroke="#222" stroke-width="0.38" text-anchor="middle" >#6</text>
<text x="408.15" y="402.06" font-size="10" font-weight="normal" font-style="normal" fill="#222" stroke="#222" stroke-width="0.38" text-anchor="start" >D</text>
<text x="424.70" y="402.06" font-size="10" font-weight="normal" font-style="normal" fill="#222" stroke="#222" stroke-width="0.38" text-anchor="start" >R</text>
<rect x="442.00" y="384.80" width="31.00" height="4.50" fill="url(#shd)" />
<rect x="442.50" y="381.50" width="30.00" height="3.30" fill="#000" />
<text x="457.50" y="377.13" font-size="10.1" font-weight="normal" font-style="normal" fill="#222" stroke="#222" stroke-width="0.38" text-anchor="middle" >#49</text>
<text x="444.90" y="402.06" font-size="10" font-weight="normal" font-style="normal" fill="#222" stroke="#222" stroke-width="0.38" text-anchor="start" >D</text>
<text x="462.20" y="402.06" font-size="10" font-weight="normal" font-style="normal" fill="#222" stroke="#222" stroke-width="0.38" text-anchor="start" >R</text>
<rect x="480.75" y="384.80" width="31.00" height="4.50" fill="url(#shd)" />
<rect x="481.25" y="381.50" width="30.00" height="3.30" fill="#000" />
<text x="496.50" y="377.13" font-size="10.1" font-weight="normal" font-style="normal" fill="#222" stroke="#222" stroke-width="0.38" text-anchor="middle" >#53</text>
<text x="485.65" y="402.06" font-size="10" font-weight="normal" font-style="normal" fill="#222" stroke="#222" stroke-width="0.38" text-anchor="start" >D</text>
<text x="502.20" y="402.06" font-size="10" font-weight="normal" font-style="normal" fill="#222" stroke="#222" stroke-width="0.38" text-anchor="start" >R</text>
<g shape-rendering="crispEdges">
<rect x="90.00" y="408.40" width="20.00" height="16.80" fill="#fffc3c" />
<rect x="90.00" y="425.20" width="20.00" height="191.10" fill="#2430fa" />
<rect x="110.00" y="408.40" width="20.00" height="0.60" fill="#fffc3c" />
<rect x="110.00" y="409.00" width="20.00" height="207.30" fill="#2430fa" />
<rect x="133.00" y="408.40" width="16.50" height="14.00" fill="#fffc3c" />
<rect x="133.00" y="422.40" width="16.50" height="193.90" fill="#2430fa" />
<rect x="149.50" y="408.40" width="18.30" height="14.00" fill="#fffc3c" />
<rect x="149.50" y="422.40" width="18.30" height="193.90" fill="#2430fa" />
<rect x="170.00" y="408.40" width="18.00" height="5.90" fill="#fffc3c" />
<rect x="170.00" y="414.30" width="18.00" height="202.00" fill="#2430fa" />
<rect x="188.00" y="408.40" width="16.00" height="2.00" fill="#fffc3c" />
<rect x="188.00" y="410.40" width="16.00" height="205.90" fill="#2430fa" />
<rect x="206.00" y="408.40" width="17.80" height="2.00" fill="#fffc3c" />
<rect x="206.00" y="410.40" width="17.80" height="205.90" fill="#2430fa" />
<rect x="223.80" y="408.40" width="21.60" height="207.90" fill="#fffc3c" />
<rect x="248.00" y="408.40" width="16.00" height="207.90" fill="#fffc3c" />
<rect x="264.00" y="408.40" width="17.50" height="7.00" fill="#fffc3c" />
<rect x="264.00" y="415.40" width="17.50" height="200.90" fill="#2430fa" />
<rect x="284.00" y="408.40" width="20.00" height="207.90" fill="#fffc3c" />
<rect x="304.00" y="408.40" width="15.40" height="6.00" fill="#fffc3c" />
<rect x="304.00" y="414.40" width="15.40" height="201.90" fill="#2430fa" />
<rect x="322.00" y="408.40" width="20.50" height="207.90" fill="#fffc3c" />
<rect x="342.50" y="408.40" width="18.00" height="4.10" fill="#fffc3c" />
<rect x="342.50" y="412.50" width="18.00" height="203.80" fill="#2430fa" />
<rect x="363.00" y="408.40" width="17.20" height="207.90" fill="#fffc3c" />
<rect x="380.20" y="408.40" width="16.30" height="1.60" fill="#fffc3c" />
<rect x="380.20" y="410.00" width="16.30" height="206.30" fill="#2430fa" />
<rect x="399.40" y="408.40" width="21.20" height="207.90" fill="#fffc3c" />
<rect x="420.60" y="408.40" width="16.40" height="16.40" fill="#fffc3c" />
<rect x="420.60" y="424.80" width="16.40" height="191.50" fill="#2430fa" />
<rect x="439.50" y="408.40" width="18.50" height="207.90" fill="#fffc3c" />
<rect x="458.00" y="408.40" width="16.10" height="7.60" fill="#fffc3c" />
<rect x="458.00" y="416.00" width="16.10" height="200.30" fill="#2430fa" />
<rect x="476.70" y="408.40" width="20.80" height="207.90" fill="#fffc3c" />
<rect x="497.50" y="408.40" width="18.10" height="3.40" fill="#fffc3c" />
<rect x="497.50" y="411.80" width="18.10" height="204.50" fill="#2430fa" />
</g>
<rect x="188.00" y="408.40" width="16.00" height="2.00" fill="#f6f3b8" />
<rect x="206.00" y="408.40" width="17.80" height="2.00" fill="#f6f3b8" />
<rect x="110.00" y="408.40" width="20.00" height="1.00" fill="#f6f3b8" />
<rect x="109.90" y="425.20" width="0.80" height="191.10" fill="#6f7cf5" />
<rect x="128.90" y="409.00" width="0.80" height="207.30" fill="#6f7cf5" />
<rect x="149.10" y="422.40" width="0.80" height="193.90" fill="#6f7cf5" />
<rect x="187.60" y="414.30" width="0.80" height="202.00" fill="#6f7cf5" />
<rect x="264.30" y="478.40" width="16.20" height="1.00" fill="#b8c0ff" />
<rect x="264.30" y="509.90" width="16.20" height="1.00" fill="#b8c0ff" />
<rect x="264.30" y="560.20" width="16.20" height="1.00" fill="#b8c0ff" />
<rect x="88.00" y="406.00" width="430.00" height="2.40" fill="#000" />
<rect x="88.00" y="616.20" width="430.00" height="2.40" fill="#000" />
<rect x="88.00" y="406.00" width="2.00" height="212.60" fill="#000" />
<rect x="130.00" y="406.00" width="3.00" height="212.60" fill="#000" />
<rect x="167.80" y="406.00" width="2.40" height="212.60" fill="#000" />
<rect x="203.90" y="406.00" width="2.10" height="212.60" fill="#000" />
<rect x="245.40" y="406.00" width="2.50" height="212.60" fill="#000" />
<rect x="281.50" y="406.00" width="2.30" height="212.60" fill="#000" />
<rect x="319.40" y="406.00" width="2.60" height="212.60" fill="#000" />
<rect x="360.50" y="406.00" width="2.50" height="212.60" fill="#000" />
<rect x="396.50" y="406.00" width="2.90" height="212.60" fill="#000" />
<rect x="437.00" y="406.00" width="2.40" height="212.60" fill="#000" />
<rect x="474.10" y="406.00" width="2.60" height="212.60" fill="#000" />
<rect x="515.60" y="406.00" width="2.40" height="212.60" fill="#000" />
<rect x="70.7" y="379.4" width="11.300000000000008" height="9.9" rx="3" fill="#bdbdbd" stroke="#8a8a8a" stroke-width="0.8"/>
<rect x="70.80" y="393.00" width="11.10" height="1.00" fill="#8f8f8f" />
<rect x="70.80" y="397.70" width="11.10" height="1.00" fill="#8f8f8f" />
<path d="M70.7,405.5 Q70.7,402.5 73.7,402.5 L79.0,402.5 Q82.0,402.5 82.0,405.5 L82.0,419.8 Q82.0,422.6 79.4,422.6 L73.3,422.6 Q70.7,422.6 70.7,419.8 Z" fill="url(#hatm)" stroke="#8a8a8a" stroke-width="0.8"/>
<path d="M70.7,405.5 Q70.7,402.5 73.7,402.5 L79.0,402.5 Q82.0,402.5 82.0,405.5 L82.0,416.8 L70.7,416.8 Z" fill="#c8c8c8" opacity="0.65"/>
<path d="M70.7,416.8 L82.0,416.8 L82.0,419.8 Q82.0,422.6 79.4,422.6 L73.3,422.6 Q70.7,422.6 70.7,419.8 Z" fill="url(#hatk)"/>
<rect x="72.10" y="422.60" width="8.50" height="1.60" fill="#222" />
<path d="M70.3,426.5 Q70.3,424.2 72.3,424.2 L80.4,424.2 Q82.4,424.2 82.4,426.5 L82.4,617 Q82.4,620.3 79.4,620.3 L73.3,620.3 Q70.3,620.3 70.3,617 Z" fill="#fff" stroke="#9a9a9a" stroke-width="0.8"/>
<path d="M70.7,426.5 Q70.7,424.6 72.3,424.6 L80.4,424.6 Q82.0,424.6 82.0,426.5 L82.0,429 L70.7,429 Z" fill="url(#hatk)"/>
<rect x="70.60" y="437.70" width="11.50" height="1.90" fill="#c8c8c8" />
<rect x="70.60" y="446.00" width="11.50" height="2.40" fill="#c8c8c8" />
<rect x="70.60" y="458.40" width="11.50" height="3.60" fill="#8a8a8a" />
<rect x="70.60" y="468.20" width="11.50" height="8.30" fill="#333" />
<rect x="70.60" y="486.60" width="11.50" height="3.20" fill="#c8c8c8" />
<rect x="70.60" y="495.80" width="11.50" height="5.00" fill="#8a8a8a" />
<rect x="70.60" y="510.70" width="11.50" height="7.30" fill="#000" />
<rect x="70.60" y="523.80" width="11.50" height="5.30" fill="#555" />
<rect x="70.60" y="534.90" width="11.50" height="8.10" fill="#000" />
<rect x="70.60" y="548.30" width="11.50" height="3.80" fill="#8a8a8a" />
<rect x="70.60" y="556.70" width="11.50" height="10.80" fill="#000" />
<rect x="70.60" y="571.30" width="11.50" height="5.70" fill="#000" />
<rect x="70.60" y="582.20" width="11.50" height="5.80" fill="#c0c0c0" />
<rect x="70.60" y="595.70" width="11.50" height="5.10" fill="#000" />
<rect x="70.60" y="604.70" width="11.50" height="6.30" fill="#000" />
<text x="33.60" y="450.16" font-size="10" font-weight="bold" font-style="italic" fill="#b0282a" stroke="#b0282a" stroke-width="0.38" text-anchor="start" >FLT3</text>
<rect x="60.00" y="446.00" width="9.30" height="1.30" fill="#222" />
<text x="7.3" y="640.16" font-size="10.4" font-weight="bold" fill="#111" stroke="#111" stroke-width="0.3"><tspan font-style="italic">FLT3</tspan>-ITD status</text>
<text x="92.40" y="640.00" font-size="8.2" font-weight="bold" fill="#a82c28" stroke="#a82c28" stroke-width="0.35">+/+</text>
<text x="114.80" y="640.00" font-size="8.2" font-weight="bold" fill="#a82c28" stroke="#a82c28" stroke-width="0.35">+/+</text>
<text x="134.70" y="640.00" font-size="8.2" font-weight="bold" fill="#a82c28" stroke="#a82c28" stroke-width="0.35">+/+</text>
<text x="152.70" y="640.00" font-size="8.2" font-weight="bold" fill="#a82c28" stroke="#a82c28" stroke-width="0.35">+/+</text>
<text x="173.95" y="640.00" font-size="8.2" font-weight="bold" fill="#a82c28" stroke="#a82c28" stroke-width="0.35">+/+</text>
<text x="191.70" y="640.00" font-size="8.2" font-weight="bold" fill="#a82c28" stroke="#a82c28" stroke-width="0.35">+/+</text>
<text x="210.90" y="640.00" font-size="8.2" font-weight="bold" fill="#a82c28" stroke="#a82c28" stroke-width="0.35">+/+</text>
<text x="230.10" y="640.00" font-size="8.2" font-weight="bold" fill="#222" stroke="#222" stroke-width="0.35">-/-</text>
<text x="247.50" y="640.00" font-size="8.2" font-weight="bold" fill="#a82c28" stroke="#a82c28" stroke-width="0.35">+/<tspan fill="#222" stroke="#222"> -</tspan></text>
<text x="268.10" y="640.00" font-size="8.2" font-weight="bold" fill="#a82c28" stroke="#a82c28" stroke-width="0.35">+/+</text>
<text x="287.40" y="640.00" font-size="8.2" font-weight="bold" fill="#a82c28" stroke="#a82c28" stroke-width="0.35">+/<tspan fill="#222" stroke="#222"> -</tspan></text>
<text x="306.60" y="640.00" font-size="8.2" font-weight="bold" fill="#a82c28" stroke="#a82c28" stroke-width="0.35">+/+</text>
<text x="328.60" y="640.00" font-size="8.2" font-weight="bold" fill="#222" stroke="#222" stroke-width="0.35">-/-</text>
<text x="346.20" y="640.00" font-size="8.2" font-weight="bold" fill="#a82c28" stroke="#a82c28" stroke-width="0.35">+/+</text>
<text x="367.80" y="640.00" font-size="8.2" font-weight="bold" fill="#222" stroke="#222" stroke-width="0.35">-/-</text>
<text x="384.70" y="640.00" font-size="8.2" font-weight="bold" fill="#a82c28" stroke="#a82c28" stroke-width="0.35">+/+</text>
<text x="404.70" y="640.00" font-size="8.2" font-weight="bold" fill="#a82c28" stroke="#a82c28" stroke-width="0.35">+/<tspan fill="#222" stroke="#222"> -</tspan></text>
<text x="423.90" y="640.00" font-size="8.2" font-weight="bold" fill="#a82c28" stroke="#a82c28" stroke-width="0.35">+/+</text>
<text x="443.70" y="640.00" font-size="8.2" font-weight="bold" fill="#a82c28" stroke="#a82c28" stroke-width="0.35">+/<tspan fill="#222" stroke="#222"> -</tspan></text>
<text x="463.00" y="640.00" font-size="8.2" font-weight="bold" fill="#a82c28" stroke="#a82c28" stroke-width="0.35">+/+</text>
<text x="483.20" y="640.00" font-size="8.2" font-weight="bold" fill="#a82c28" stroke="#a82c28" stroke-width="0.35">+/<tspan fill="#222" stroke="#222"> -</tspan></text>
<text x="502.40" y="640.00" font-size="8.2" font-weight="bold" fill="#a82c28" stroke="#a82c28" stroke-width="0.35">+/+</text>
<rect x="232.40" y="660.60" width="14.60" height="14.80" fill="#2430fa" stroke="#000" stroke-width="1.6"/>
<text x="253.00" y="671.97" font-size="10.3" font-weight="normal" font-style="normal" fill="#222" stroke="#222" stroke-width="0.38" text-anchor="start" >homozygous</text>
<rect x="338.10" y="660.80" width="14.60" height="14.80" fill="#fffc3c" stroke="#000" stroke-width="1.6"/>
<text x="358.10" y="671.97" font-size="10.3" font-weight="normal" font-style="normal" fill="#222" stroke="#222" stroke-width="0.38" text-anchor="start" >heterozygous</text>
</svg></body></html>
